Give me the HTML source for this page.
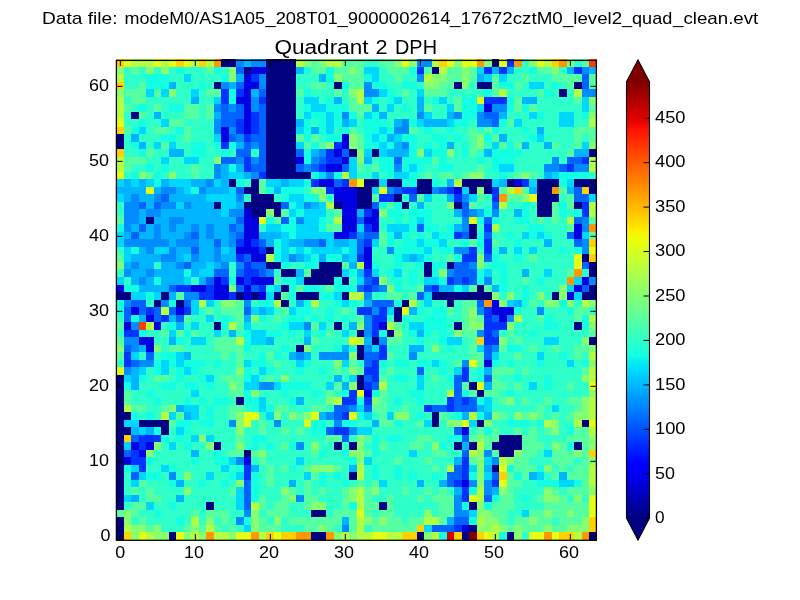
<!DOCTYPE html>
<html><head><meta charset="utf-8"><title>Quadrant 2 DPH</title>
<style>
html,body{margin:0;padding:0;background:#fff;}
body{width:800px;height:600px;overflow:hidden;font-family:"Liberation Sans",sans-serif;}
svg{display:block;position:absolute;left:0;top:0}
svg.tx{will-change:transform;transform:translateZ(0);background:transparent}
text{font-family:"Liberation Sans",sans-serif;fill:#000}
</style></head><body>
<svg width="800" height="600" viewBox="0 0 800 600">
<defs><linearGradient id="jet" gradientUnits="userSpaceOnUse" x1="0" y1="81.8" x2="0" y2="518.2">
<stop offset="0.0000" stop-color="#800000"/>
<stop offset="0.0156" stop-color="#920000"/>
<stop offset="0.0312" stop-color="#a40000"/>
<stop offset="0.0469" stop-color="#b60000"/>
<stop offset="0.0625" stop-color="#c80000"/>
<stop offset="0.0781" stop-color="#da0000"/>
<stop offset="0.0938" stop-color="#ec0400"/>
<stop offset="0.1094" stop-color="#fe1200"/>
<stop offset="0.1250" stop-color="#ff2100"/>
<stop offset="0.1406" stop-color="#ff3000"/>
<stop offset="0.1562" stop-color="#ff3f00"/>
<stop offset="0.1719" stop-color="#ff4d00"/>
<stop offset="0.1875" stop-color="#ff5c00"/>
<stop offset="0.2031" stop-color="#ff6b00"/>
<stop offset="0.2188" stop-color="#ff7a00"/>
<stop offset="0.2344" stop-color="#ff8800"/>
<stop offset="0.2500" stop-color="#ff9700"/>
<stop offset="0.2656" stop-color="#ffa600"/>
<stop offset="0.2812" stop-color="#ffb500"/>
<stop offset="0.2969" stop-color="#ffc300"/>
<stop offset="0.3125" stop-color="#ffd200"/>
<stop offset="0.3281" stop-color="#ffe100"/>
<stop offset="0.3438" stop-color="#fcf000"/>
<stop offset="0.3594" stop-color="#effe08"/>
<stop offset="0.3750" stop-color="#e2ff15"/>
<stop offset="0.3906" stop-color="#d5ff21"/>
<stop offset="0.4062" stop-color="#c9ff2e"/>
<stop offset="0.4219" stop-color="#bcff3b"/>
<stop offset="0.4375" stop-color="#afff48"/>
<stop offset="0.4531" stop-color="#a2ff55"/>
<stop offset="0.4688" stop-color="#95ff62"/>
<stop offset="0.4844" stop-color="#88ff6f"/>
<stop offset="0.5000" stop-color="#7bff7b"/>
<stop offset="0.5156" stop-color="#6fff88"/>
<stop offset="0.5312" stop-color="#62ff95"/>
<stop offset="0.5469" stop-color="#55ffa2"/>
<stop offset="0.5625" stop-color="#48ffaf"/>
<stop offset="0.5781" stop-color="#3bffbc"/>
<stop offset="0.5938" stop-color="#2effc9"/>
<stop offset="0.6094" stop-color="#21ffd5"/>
<stop offset="0.6250" stop-color="#15ffe2"/>
<stop offset="0.6406" stop-color="#08efef"/>
<stop offset="0.6562" stop-color="#00dffc"/>
<stop offset="0.6719" stop-color="#00cfff"/>
<stop offset="0.6875" stop-color="#00bfff"/>
<stop offset="0.7031" stop-color="#00afff"/>
<stop offset="0.7188" stop-color="#009fff"/>
<stop offset="0.7344" stop-color="#008fff"/>
<stop offset="0.7500" stop-color="#0080ff"/>
<stop offset="0.7656" stop-color="#0070ff"/>
<stop offset="0.7812" stop-color="#0060ff"/>
<stop offset="0.7969" stop-color="#0050ff"/>
<stop offset="0.8125" stop-color="#0040ff"/>
<stop offset="0.8281" stop-color="#0030ff"/>
<stop offset="0.8438" stop-color="#0020ff"/>
<stop offset="0.8594" stop-color="#0010ff"/>
<stop offset="0.8750" stop-color="#0000ff"/>
<stop offset="0.8906" stop-color="#0000fe"/>
<stop offset="0.9062" stop-color="#0000ec"/>
<stop offset="0.9219" stop-color="#0000da"/>
<stop offset="0.9375" stop-color="#0000c8"/>
<stop offset="0.9531" stop-color="#0000b6"/>
<stop offset="0.9688" stop-color="#0000a4"/>
<stop offset="0.9844" stop-color="#000092"/>
<stop offset="1.0000" stop-color="#000080"/>
</linearGradient></defs>
<rect width="800" height="600" fill="#fff"/>
<g shape-rendering="crispEdges">
<rect x="116" y="59" width="8" height="8" fill="#ffd100"/>
<rect x="124" y="59" width="7" height="8" fill="#e4ff13"/>
<rect x="131" y="59" width="23" height="8" fill="#b5ff42"/>
<rect x="154" y="59" width="7" height="8" fill="#e4ff13"/>
<rect x="161" y="59" width="8" height="8" fill="#b5ff42"/>
<rect x="169" y="59" width="7" height="8" fill="#e4ff13"/>
<rect x="176" y="59" width="8" height="8" fill="#ffd100"/>
<rect x="184" y="59" width="7" height="8" fill="#e4ff13"/>
<rect x="191" y="59" width="8" height="8" fill="#b5ff42"/>
<rect x="199" y="59" width="7" height="8" fill="#ffd100"/>
<rect x="206" y="59" width="8" height="8" fill="#b5ff42"/>
<rect x="214" y="59" width="7" height="8" fill="#ff9800"/>
<rect x="221" y="59" width="15" height="8" fill="#000080"/>
<rect x="236" y="59" width="8" height="8" fill="#008cff"/>
<rect x="244" y="59" width="7" height="8" fill="#00b4ff"/>
<rect x="251" y="59" width="15" height="8" fill="#008cff"/>
<rect x="266" y="59" width="30" height="8" fill="#000080"/>
<rect x="296" y="59" width="8" height="8" fill="#b5ff42"/>
<rect x="304" y="59" width="7" height="8" fill="#86ff70"/>
<rect x="311" y="59" width="8" height="8" fill="#56ffa1"/>
<rect x="319" y="59" width="7" height="8" fill="#86ff70"/>
<rect x="326" y="59" width="16" height="8" fill="#b5ff42"/>
<rect x="342" y="59" width="22" height="8" fill="#56ffa1"/>
<rect x="364" y="59" width="15" height="8" fill="#2fffc8"/>
<rect x="379" y="59" width="15" height="8" fill="#56ffa1"/>
<rect x="394" y="59" width="8" height="8" fill="#86ff70"/>
<rect x="402" y="59" width="7" height="8" fill="#e4ff13"/>
<rect x="409" y="59" width="8" height="8" fill="#86ff70"/>
<rect x="417" y="59" width="15" height="8" fill="#008cff"/>
<rect x="432" y="59" width="7" height="8" fill="#b5ff42"/>
<rect x="439" y="59" width="8" height="8" fill="#ffd100"/>
<rect x="447" y="59" width="7" height="8" fill="#e4ff13"/>
<rect x="454" y="59" width="8" height="8" fill="#86ff70"/>
<rect x="462" y="59" width="15" height="8" fill="#e4ff13"/>
<rect x="477" y="59" width="7" height="8" fill="#ff9800"/>
<rect x="484" y="59" width="8" height="8" fill="#86ff70"/>
<rect x="492" y="59" width="7" height="8" fill="#000080"/>
<rect x="499" y="59" width="8" height="8" fill="#e4ff13"/>
<rect x="507" y="59" width="7" height="8" fill="#0033ff"/>
<rect x="514" y="59" width="8" height="8" fill="#ff9800"/>
<rect x="522" y="59" width="7" height="8" fill="#2fffc8"/>
<rect x="529" y="59" width="8" height="8" fill="#86ff70"/>
<rect x="537" y="59" width="7" height="8" fill="#e4ff13"/>
<rect x="544" y="59" width="8" height="8" fill="#b5ff42"/>
<rect x="552" y="59" width="7" height="8" fill="#ffd100"/>
<rect x="559" y="59" width="8" height="8" fill="#ff9800"/>
<rect x="567" y="59" width="7" height="8" fill="#86ff70"/>
<rect x="574" y="59" width="8" height="8" fill="#2fffc8"/>
<rect x="582" y="59" width="7" height="8" fill="#56ffa1"/>
<rect x="589" y="59" width="8" height="8" fill="#ff3b00"/>
<rect x="116" y="67" width="8" height="7" fill="#86ff70"/>
<rect x="124" y="67" width="7" height="7" fill="#2fffc8"/>
<rect x="131" y="67" width="8" height="7" fill="#56ffa1"/>
<rect x="139" y="67" width="7" height="7" fill="#2fffc8"/>
<rect x="146" y="67" width="8" height="7" fill="#86ff70"/>
<rect x="154" y="67" width="7" height="7" fill="#2fffc8"/>
<rect x="161" y="67" width="8" height="7" fill="#86ff70"/>
<rect x="169" y="67" width="7" height="7" fill="#2fffc8"/>
<rect x="176" y="67" width="8" height="7" fill="#14ffe2"/>
<rect x="184" y="67" width="22" height="7" fill="#2fffc8"/>
<rect x="206" y="67" width="8" height="7" fill="#56ffa1"/>
<rect x="214" y="67" width="7" height="7" fill="#14ffe2"/>
<rect x="221" y="67" width="8" height="7" fill="#2fffc8"/>
<rect x="229" y="67" width="7" height="7" fill="#86ff70"/>
<rect x="236" y="67" width="8" height="7" fill="#0063ff"/>
<rect x="244" y="67" width="7" height="7" fill="#000080"/>
<rect x="251" y="67" width="15" height="7" fill="#0000e3"/>
<rect x="266" y="67" width="30" height="7" fill="#000080"/>
<rect x="296" y="67" width="8" height="7" fill="#00b4ff"/>
<rect x="304" y="67" width="7" height="7" fill="#14ffe2"/>
<rect x="311" y="67" width="15" height="7" fill="#56ffa1"/>
<rect x="326" y="67" width="8" height="7" fill="#14ffe2"/>
<rect x="334" y="67" width="15" height="7" fill="#56ffa1"/>
<rect x="349" y="67" width="8" height="7" fill="#86ff70"/>
<rect x="357" y="67" width="7" height="7" fill="#56ffa1"/>
<rect x="364" y="67" width="15" height="7" fill="#00d7ff"/>
<rect x="379" y="67" width="8" height="7" fill="#2fffc8"/>
<rect x="387" y="67" width="22" height="7" fill="#56ffa1"/>
<rect x="409" y="67" width="8" height="7" fill="#14ffe2"/>
<rect x="417" y="67" width="7" height="7" fill="#0033ff"/>
<rect x="424" y="67" width="8" height="7" fill="#56ffa1"/>
<rect x="432" y="67" width="7" height="7" fill="#000080"/>
<rect x="439" y="67" width="8" height="7" fill="#b5ff42"/>
<rect x="447" y="67" width="15" height="7" fill="#56ffa1"/>
<rect x="462" y="67" width="7" height="7" fill="#86ff70"/>
<rect x="469" y="67" width="8" height="7" fill="#56ffa1"/>
<rect x="477" y="67" width="7" height="7" fill="#00d7ff"/>
<rect x="484" y="67" width="8" height="7" fill="#0033ff"/>
<rect x="492" y="67" width="7" height="7" fill="#00b4ff"/>
<rect x="499" y="67" width="8" height="7" fill="#0033ff"/>
<rect x="507" y="67" width="7" height="7" fill="#00b4ff"/>
<rect x="514" y="67" width="15" height="7" fill="#2fffc8"/>
<rect x="529" y="67" width="8" height="7" fill="#14ffe2"/>
<rect x="537" y="67" width="15" height="7" fill="#56ffa1"/>
<rect x="552" y="67" width="7" height="7" fill="#86ff70"/>
<rect x="559" y="67" width="8" height="7" fill="#2fffc8"/>
<rect x="567" y="67" width="7" height="7" fill="#00b4ff"/>
<rect x="574" y="67" width="8" height="7" fill="#0033ff"/>
<rect x="582" y="67" width="7" height="7" fill="#008cff"/>
<rect x="589" y="67" width="8" height="7" fill="#00b4ff"/>
<rect x="116" y="74" width="8" height="8" fill="#b5ff42"/>
<rect x="124" y="74" width="22" height="8" fill="#2fffc8"/>
<rect x="146" y="74" width="23" height="8" fill="#14ffe2"/>
<rect x="169" y="74" width="15" height="8" fill="#2fffc8"/>
<rect x="184" y="74" width="7" height="8" fill="#00d7ff"/>
<rect x="191" y="74" width="30" height="8" fill="#2fffc8"/>
<rect x="221" y="74" width="8" height="8" fill="#14ffe2"/>
<rect x="229" y="74" width="7" height="8" fill="#86ff70"/>
<rect x="236" y="74" width="8" height="8" fill="#00b4ff"/>
<rect x="244" y="74" width="7" height="8" fill="#0000e3"/>
<rect x="251" y="74" width="8" height="8" fill="#0033ff"/>
<rect x="259" y="74" width="7" height="8" fill="#008cff"/>
<rect x="266" y="74" width="30" height="8" fill="#000080"/>
<rect x="296" y="74" width="23" height="8" fill="#2fffc8"/>
<rect x="319" y="74" width="7" height="8" fill="#00b4ff"/>
<rect x="326" y="74" width="8" height="8" fill="#14ffe2"/>
<rect x="334" y="74" width="8" height="8" fill="#86ff70"/>
<rect x="342" y="74" width="22" height="8" fill="#56ffa1"/>
<rect x="364" y="74" width="8" height="8" fill="#14ffe2"/>
<rect x="372" y="74" width="7" height="8" fill="#00d7ff"/>
<rect x="379" y="74" width="15" height="8" fill="#2fffc8"/>
<rect x="394" y="74" width="8" height="8" fill="#56ffa1"/>
<rect x="402" y="74" width="15" height="8" fill="#2fffc8"/>
<rect x="417" y="74" width="7" height="8" fill="#008cff"/>
<rect x="424" y="74" width="8" height="8" fill="#b5ff42"/>
<rect x="432" y="74" width="15" height="8" fill="#86ff70"/>
<rect x="447" y="74" width="15" height="8" fill="#56ffa1"/>
<rect x="462" y="74" width="7" height="8" fill="#86ff70"/>
<rect x="469" y="74" width="8" height="8" fill="#56ffa1"/>
<rect x="477" y="74" width="7" height="8" fill="#00b4ff"/>
<rect x="484" y="74" width="8" height="8" fill="#00d7ff"/>
<rect x="492" y="74" width="7" height="8" fill="#56ffa1"/>
<rect x="499" y="74" width="8" height="8" fill="#00d7ff"/>
<rect x="507" y="74" width="15" height="8" fill="#2fffc8"/>
<rect x="522" y="74" width="7" height="8" fill="#56ffa1"/>
<rect x="529" y="74" width="23" height="8" fill="#2fffc8"/>
<rect x="552" y="74" width="30" height="8" fill="#56ffa1"/>
<rect x="582" y="74" width="7" height="8" fill="#0063ff"/>
<rect x="589" y="74" width="8" height="8" fill="#56ffa1"/>
<rect x="116" y="82" width="8" height="7" fill="#ffd100"/>
<rect x="124" y="82" width="15" height="7" fill="#2fffc8"/>
<rect x="139" y="82" width="7" height="7" fill="#56ffa1"/>
<rect x="146" y="82" width="23" height="7" fill="#14ffe2"/>
<rect x="169" y="82" width="7" height="7" fill="#00b4ff"/>
<rect x="176" y="82" width="23" height="7" fill="#2fffc8"/>
<rect x="199" y="82" width="7" height="7" fill="#14ffe2"/>
<rect x="206" y="82" width="8" height="7" fill="#2fffc8"/>
<rect x="214" y="82" width="7" height="7" fill="#000080"/>
<rect x="221" y="82" width="8" height="7" fill="#008cff"/>
<rect x="229" y="82" width="7" height="7" fill="#00b4ff"/>
<rect x="236" y="82" width="8" height="7" fill="#0063ff"/>
<rect x="244" y="82" width="15" height="7" fill="#0000e3"/>
<rect x="259" y="82" width="7" height="7" fill="#008cff"/>
<rect x="266" y="82" width="30" height="7" fill="#000080"/>
<rect x="296" y="82" width="15" height="7" fill="#2fffc8"/>
<rect x="311" y="82" width="15" height="7" fill="#56ffa1"/>
<rect x="326" y="82" width="8" height="7" fill="#2fffc8"/>
<rect x="334" y="82" width="8" height="7" fill="#000080"/>
<rect x="342" y="82" width="7" height="7" fill="#14ffe2"/>
<rect x="349" y="82" width="15" height="7" fill="#56ffa1"/>
<rect x="364" y="82" width="8" height="7" fill="#008cff"/>
<rect x="372" y="82" width="15" height="7" fill="#14ffe2"/>
<rect x="387" y="82" width="15" height="7" fill="#2fffc8"/>
<rect x="402" y="82" width="15" height="7" fill="#14ffe2"/>
<rect x="417" y="82" width="7" height="7" fill="#2fffc8"/>
<rect x="424" y="82" width="15" height="7" fill="#86ff70"/>
<rect x="439" y="82" width="15" height="7" fill="#56ffa1"/>
<rect x="454" y="82" width="8" height="7" fill="#000080"/>
<rect x="462" y="82" width="7" height="7" fill="#86ff70"/>
<rect x="469" y="82" width="8" height="7" fill="#2fffc8"/>
<rect x="477" y="82" width="15" height="7" fill="#000080"/>
<rect x="492" y="82" width="7" height="7" fill="#56ffa1"/>
<rect x="499" y="82" width="15" height="7" fill="#14ffe2"/>
<rect x="514" y="82" width="8" height="7" fill="#56ffa1"/>
<rect x="522" y="82" width="7" height="7" fill="#2fffc8"/>
<rect x="529" y="82" width="15" height="7" fill="#00d7ff"/>
<rect x="544" y="82" width="8" height="7" fill="#2fffc8"/>
<rect x="552" y="82" width="7" height="7" fill="#14ffe2"/>
<rect x="559" y="82" width="8" height="7" fill="#2fffc8"/>
<rect x="567" y="82" width="7" height="7" fill="#56ffa1"/>
<rect x="574" y="82" width="8" height="7" fill="#000080"/>
<rect x="582" y="82" width="7" height="7" fill="#0063ff"/>
<rect x="589" y="82" width="8" height="7" fill="#56ffa1"/>
<rect x="116" y="89" width="8" height="8" fill="#86ff70"/>
<rect x="124" y="89" width="22" height="8" fill="#56ffa1"/>
<rect x="146" y="89" width="8" height="8" fill="#00d7ff"/>
<rect x="154" y="89" width="7" height="8" fill="#56ffa1"/>
<rect x="161" y="89" width="8" height="8" fill="#00d7ff"/>
<rect x="169" y="89" width="7" height="8" fill="#86ff70"/>
<rect x="176" y="89" width="15" height="8" fill="#2fffc8"/>
<rect x="191" y="89" width="8" height="8" fill="#00d7ff"/>
<rect x="199" y="89" width="7" height="8" fill="#2fffc8"/>
<rect x="206" y="89" width="15" height="8" fill="#56ffa1"/>
<rect x="221" y="89" width="8" height="8" fill="#0033ff"/>
<rect x="229" y="89" width="7" height="8" fill="#14ffe2"/>
<rect x="236" y="89" width="8" height="8" fill="#0033ff"/>
<rect x="244" y="89" width="7" height="8" fill="#0000e3"/>
<rect x="251" y="89" width="8" height="8" fill="#00b4ff"/>
<rect x="259" y="89" width="7" height="8" fill="#0063ff"/>
<rect x="266" y="89" width="30" height="8" fill="#000080"/>
<rect x="296" y="89" width="8" height="8" fill="#56ffa1"/>
<rect x="304" y="89" width="7" height="8" fill="#14ffe2"/>
<rect x="311" y="89" width="23" height="8" fill="#2fffc8"/>
<rect x="334" y="89" width="8" height="8" fill="#56ffa1"/>
<rect x="342" y="89" width="7" height="8" fill="#2fffc8"/>
<rect x="349" y="89" width="8" height="8" fill="#86ff70"/>
<rect x="357" y="89" width="7" height="8" fill="#b5ff42"/>
<rect x="364" y="89" width="15" height="8" fill="#008cff"/>
<rect x="379" y="89" width="8" height="8" fill="#00d7ff"/>
<rect x="387" y="89" width="7" height="8" fill="#14ffe2"/>
<rect x="394" y="89" width="8" height="8" fill="#2fffc8"/>
<rect x="402" y="89" width="7" height="8" fill="#56ffa1"/>
<rect x="409" y="89" width="8" height="8" fill="#2fffc8"/>
<rect x="417" y="89" width="7" height="8" fill="#00d7ff"/>
<rect x="424" y="89" width="23" height="8" fill="#56ffa1"/>
<rect x="447" y="89" width="37" height="8" fill="#2fffc8"/>
<rect x="484" y="89" width="8" height="8" fill="#14ffe2"/>
<rect x="492" y="89" width="7" height="8" fill="#56ffa1"/>
<rect x="499" y="89" width="8" height="8" fill="#b5ff42"/>
<rect x="507" y="89" width="30" height="8" fill="#2fffc8"/>
<rect x="537" y="89" width="7" height="8" fill="#56ffa1"/>
<rect x="544" y="89" width="8" height="8" fill="#14ffe2"/>
<rect x="552" y="89" width="7" height="8" fill="#2fffc8"/>
<rect x="559" y="89" width="8" height="8" fill="#000080"/>
<rect x="567" y="89" width="7" height="8" fill="#2fffc8"/>
<rect x="574" y="89" width="8" height="8" fill="#b5ff42"/>
<rect x="582" y="89" width="15" height="8" fill="#008cff"/>
<rect x="116" y="97" width="8" height="7" fill="#b5ff42"/>
<rect x="124" y="97" width="7" height="7" fill="#2fffc8"/>
<rect x="131" y="97" width="15" height="7" fill="#56ffa1"/>
<rect x="146" y="97" width="45" height="7" fill="#2fffc8"/>
<rect x="191" y="97" width="8" height="7" fill="#00b4ff"/>
<rect x="199" y="97" width="15" height="7" fill="#2fffc8"/>
<rect x="214" y="97" width="7" height="7" fill="#00d7ff"/>
<rect x="221" y="97" width="8" height="7" fill="#0033ff"/>
<rect x="229" y="97" width="7" height="7" fill="#14ffe2"/>
<rect x="236" y="97" width="15" height="7" fill="#0000e3"/>
<rect x="251" y="97" width="8" height="7" fill="#008cff"/>
<rect x="259" y="97" width="7" height="7" fill="#0033ff"/>
<rect x="266" y="97" width="30" height="7" fill="#000080"/>
<rect x="296" y="97" width="8" height="7" fill="#2fffc8"/>
<rect x="304" y="97" width="15" height="7" fill="#00d7ff"/>
<rect x="319" y="97" width="7" height="7" fill="#2fffc8"/>
<rect x="326" y="97" width="8" height="7" fill="#14ffe2"/>
<rect x="334" y="97" width="8" height="7" fill="#00b4ff"/>
<rect x="342" y="97" width="7" height="7" fill="#2fffc8"/>
<rect x="349" y="97" width="8" height="7" fill="#56ffa1"/>
<rect x="357" y="97" width="7" height="7" fill="#b5ff42"/>
<rect x="364" y="97" width="8" height="7" fill="#00d7ff"/>
<rect x="372" y="97" width="7" height="7" fill="#14ffe2"/>
<rect x="379" y="97" width="8" height="7" fill="#2fffc8"/>
<rect x="387" y="97" width="7" height="7" fill="#14ffe2"/>
<rect x="394" y="97" width="8" height="7" fill="#00d7ff"/>
<rect x="402" y="97" width="15" height="7" fill="#2fffc8"/>
<rect x="417" y="97" width="7" height="7" fill="#00b4ff"/>
<rect x="424" y="97" width="8" height="7" fill="#2fffc8"/>
<rect x="432" y="97" width="7" height="7" fill="#14ffe2"/>
<rect x="439" y="97" width="8" height="7" fill="#00d7ff"/>
<rect x="447" y="97" width="7" height="7" fill="#2fffc8"/>
<rect x="454" y="97" width="8" height="7" fill="#56ffa1"/>
<rect x="462" y="97" width="15" height="7" fill="#14ffe2"/>
<rect x="477" y="97" width="7" height="7" fill="#e4ff13"/>
<rect x="484" y="97" width="23" height="7" fill="#0033ff"/>
<rect x="507" y="97" width="7" height="7" fill="#14ffe2"/>
<rect x="514" y="97" width="8" height="7" fill="#56ffa1"/>
<rect x="522" y="97" width="15" height="7" fill="#00b4ff"/>
<rect x="537" y="97" width="37" height="7" fill="#2fffc8"/>
<rect x="574" y="97" width="8" height="7" fill="#56ffa1"/>
<rect x="582" y="97" width="7" height="7" fill="#00d7ff"/>
<rect x="589" y="97" width="8" height="7" fill="#86ff70"/>
<rect x="116" y="104" width="8" height="8" fill="#b5ff42"/>
<rect x="124" y="104" width="7" height="8" fill="#56ffa1"/>
<rect x="131" y="104" width="8" height="8" fill="#2fffc8"/>
<rect x="139" y="104" width="7" height="8" fill="#14ffe2"/>
<rect x="146" y="104" width="8" height="8" fill="#2fffc8"/>
<rect x="154" y="104" width="7" height="8" fill="#56ffa1"/>
<rect x="161" y="104" width="8" height="8" fill="#2fffc8"/>
<rect x="169" y="104" width="15" height="8" fill="#14ffe2"/>
<rect x="184" y="104" width="15" height="8" fill="#56ffa1"/>
<rect x="199" y="104" width="7" height="8" fill="#2fffc8"/>
<rect x="206" y="104" width="8" height="8" fill="#56ffa1"/>
<rect x="214" y="104" width="7" height="8" fill="#008cff"/>
<rect x="221" y="104" width="8" height="8" fill="#0063ff"/>
<rect x="229" y="104" width="7" height="8" fill="#008cff"/>
<rect x="236" y="104" width="8" height="8" fill="#0063ff"/>
<rect x="244" y="104" width="7" height="8" fill="#0000e3"/>
<rect x="251" y="104" width="8" height="8" fill="#008cff"/>
<rect x="259" y="104" width="7" height="8" fill="#0063ff"/>
<rect x="266" y="104" width="30" height="8" fill="#000080"/>
<rect x="296" y="104" width="8" height="8" fill="#2fffc8"/>
<rect x="304" y="104" width="7" height="8" fill="#14ffe2"/>
<rect x="311" y="104" width="15" height="8" fill="#00d7ff"/>
<rect x="326" y="104" width="23" height="8" fill="#14ffe2"/>
<rect x="349" y="104" width="23" height="8" fill="#56ffa1"/>
<rect x="372" y="104" width="7" height="8" fill="#00b4ff"/>
<rect x="379" y="104" width="8" height="8" fill="#2fffc8"/>
<rect x="387" y="104" width="7" height="8" fill="#00d7ff"/>
<rect x="394" y="104" width="8" height="8" fill="#2fffc8"/>
<rect x="402" y="104" width="7" height="8" fill="#14ffe2"/>
<rect x="409" y="104" width="8" height="8" fill="#2fffc8"/>
<rect x="417" y="104" width="7" height="8" fill="#00b4ff"/>
<rect x="424" y="104" width="8" height="8" fill="#56ffa1"/>
<rect x="432" y="104" width="15" height="8" fill="#2fffc8"/>
<rect x="447" y="104" width="7" height="8" fill="#00d7ff"/>
<rect x="454" y="104" width="8" height="8" fill="#56ffa1"/>
<rect x="462" y="104" width="15" height="8" fill="#14ffe2"/>
<rect x="477" y="104" width="7" height="8" fill="#00d7ff"/>
<rect x="484" y="104" width="8" height="8" fill="#0000e3"/>
<rect x="492" y="104" width="15" height="8" fill="#008cff"/>
<rect x="507" y="104" width="7" height="8" fill="#14ffe2"/>
<rect x="514" y="104" width="8" height="8" fill="#56ffa1"/>
<rect x="522" y="104" width="7" height="8" fill="#14ffe2"/>
<rect x="529" y="104" width="8" height="8" fill="#56ffa1"/>
<rect x="537" y="104" width="45" height="8" fill="#2fffc8"/>
<rect x="582" y="104" width="7" height="8" fill="#00d7ff"/>
<rect x="589" y="104" width="8" height="8" fill="#56ffa1"/>
<rect x="116" y="112" width="8" height="7" fill="#b5ff42"/>
<rect x="124" y="112" width="7" height="7" fill="#2fffc8"/>
<rect x="131" y="112" width="8" height="7" fill="#000080"/>
<rect x="139" y="112" width="7" height="7" fill="#56ffa1"/>
<rect x="146" y="112" width="8" height="7" fill="#2fffc8"/>
<rect x="154" y="112" width="7" height="7" fill="#00b4ff"/>
<rect x="161" y="112" width="23" height="7" fill="#2fffc8"/>
<rect x="184" y="112" width="15" height="7" fill="#56ffa1"/>
<rect x="199" y="112" width="7" height="7" fill="#2fffc8"/>
<rect x="206" y="112" width="8" height="7" fill="#56ffa1"/>
<rect x="214" y="112" width="7" height="7" fill="#00b4ff"/>
<rect x="221" y="112" width="23" height="7" fill="#0063ff"/>
<rect x="244" y="112" width="7" height="7" fill="#0000e3"/>
<rect x="251" y="112" width="8" height="7" fill="#0033ff"/>
<rect x="259" y="112" width="7" height="7" fill="#0063ff"/>
<rect x="266" y="112" width="30" height="7" fill="#000080"/>
<rect x="296" y="112" width="8" height="7" fill="#2fffc8"/>
<rect x="304" y="112" width="7" height="7" fill="#00d7ff"/>
<rect x="311" y="112" width="15" height="7" fill="#14ffe2"/>
<rect x="326" y="112" width="8" height="7" fill="#00d7ff"/>
<rect x="334" y="112" width="8" height="7" fill="#14ffe2"/>
<rect x="342" y="112" width="7" height="7" fill="#008cff"/>
<rect x="349" y="112" width="8" height="7" fill="#14ffe2"/>
<rect x="357" y="112" width="7" height="7" fill="#56ffa1"/>
<rect x="364" y="112" width="8" height="7" fill="#00d7ff"/>
<rect x="372" y="112" width="7" height="7" fill="#14ffe2"/>
<rect x="379" y="112" width="8" height="7" fill="#00b4ff"/>
<rect x="387" y="112" width="30" height="7" fill="#2fffc8"/>
<rect x="417" y="112" width="7" height="7" fill="#008cff"/>
<rect x="424" y="112" width="8" height="7" fill="#00d7ff"/>
<rect x="432" y="112" width="15" height="7" fill="#2fffc8"/>
<rect x="447" y="112" width="7" height="7" fill="#00b4ff"/>
<rect x="454" y="112" width="8" height="7" fill="#008cff"/>
<rect x="462" y="112" width="15" height="7" fill="#14ffe2"/>
<rect x="477" y="112" width="7" height="7" fill="#008cff"/>
<rect x="484" y="112" width="15" height="7" fill="#0063ff"/>
<rect x="499" y="112" width="8" height="7" fill="#00b4ff"/>
<rect x="507" y="112" width="22" height="7" fill="#2fffc8"/>
<rect x="529" y="112" width="8" height="7" fill="#00d7ff"/>
<rect x="537" y="112" width="7" height="7" fill="#14ffe2"/>
<rect x="544" y="112" width="15" height="7" fill="#2fffc8"/>
<rect x="559" y="112" width="15" height="7" fill="#00d7ff"/>
<rect x="574" y="112" width="8" height="7" fill="#2fffc8"/>
<rect x="582" y="112" width="7" height="7" fill="#14ffe2"/>
<rect x="589" y="112" width="8" height="7" fill="#86ff70"/>
<rect x="116" y="119" width="8" height="8" fill="#e4ff13"/>
<rect x="124" y="119" width="15" height="8" fill="#2fffc8"/>
<rect x="139" y="119" width="7" height="8" fill="#14ffe2"/>
<rect x="146" y="119" width="15" height="8" fill="#2fffc8"/>
<rect x="161" y="119" width="8" height="8" fill="#00d7ff"/>
<rect x="169" y="119" width="15" height="8" fill="#56ffa1"/>
<rect x="184" y="119" width="30" height="8" fill="#2fffc8"/>
<rect x="214" y="119" width="7" height="8" fill="#008cff"/>
<rect x="221" y="119" width="15" height="8" fill="#0063ff"/>
<rect x="236" y="119" width="8" height="8" fill="#0033ff"/>
<rect x="244" y="119" width="7" height="8" fill="#0000e3"/>
<rect x="251" y="119" width="8" height="8" fill="#0033ff"/>
<rect x="259" y="119" width="7" height="8" fill="#0063ff"/>
<rect x="266" y="119" width="30" height="8" fill="#000080"/>
<rect x="296" y="119" width="8" height="8" fill="#00b4ff"/>
<rect x="304" y="119" width="7" height="8" fill="#14ffe2"/>
<rect x="311" y="119" width="8" height="8" fill="#2fffc8"/>
<rect x="319" y="119" width="7" height="8" fill="#14ffe2"/>
<rect x="326" y="119" width="8" height="8" fill="#00d7ff"/>
<rect x="334" y="119" width="8" height="8" fill="#14ffe2"/>
<rect x="342" y="119" width="7" height="8" fill="#00b4ff"/>
<rect x="349" y="119" width="8" height="8" fill="#00d7ff"/>
<rect x="357" y="119" width="7" height="8" fill="#2fffc8"/>
<rect x="364" y="119" width="23" height="8" fill="#14ffe2"/>
<rect x="387" y="119" width="7" height="8" fill="#2fffc8"/>
<rect x="394" y="119" width="8" height="8" fill="#00b4ff"/>
<rect x="402" y="119" width="7" height="8" fill="#008cff"/>
<rect x="409" y="119" width="8" height="8" fill="#14ffe2"/>
<rect x="417" y="119" width="7" height="8" fill="#00d7ff"/>
<rect x="424" y="119" width="23" height="8" fill="#00b4ff"/>
<rect x="447" y="119" width="7" height="8" fill="#00d7ff"/>
<rect x="454" y="119" width="15" height="8" fill="#14ffe2"/>
<rect x="469" y="119" width="8" height="8" fill="#2fffc8"/>
<rect x="477" y="119" width="15" height="8" fill="#008cff"/>
<rect x="492" y="119" width="7" height="8" fill="#0063ff"/>
<rect x="499" y="119" width="8" height="8" fill="#14ffe2"/>
<rect x="507" y="119" width="7" height="8" fill="#56ffa1"/>
<rect x="514" y="119" width="8" height="8" fill="#00d7ff"/>
<rect x="522" y="119" width="37" height="8" fill="#2fffc8"/>
<rect x="559" y="119" width="15" height="8" fill="#00d7ff"/>
<rect x="574" y="119" width="15" height="8" fill="#2fffc8"/>
<rect x="589" y="119" width="8" height="8" fill="#b5ff42"/>
<rect x="116" y="127" width="8" height="7" fill="#ffd100"/>
<rect x="124" y="127" width="7" height="7" fill="#56ffa1"/>
<rect x="131" y="127" width="8" height="7" fill="#14ffe2"/>
<rect x="139" y="127" width="7" height="7" fill="#00d7ff"/>
<rect x="146" y="127" width="8" height="7" fill="#2fffc8"/>
<rect x="154" y="127" width="15" height="7" fill="#56ffa1"/>
<rect x="169" y="127" width="7" height="7" fill="#2fffc8"/>
<rect x="176" y="127" width="8" height="7" fill="#14ffe2"/>
<rect x="184" y="127" width="7" height="7" fill="#56ffa1"/>
<rect x="191" y="127" width="23" height="7" fill="#2fffc8"/>
<rect x="214" y="127" width="7" height="7" fill="#008cff"/>
<rect x="221" y="127" width="8" height="7" fill="#0000e3"/>
<rect x="229" y="127" width="7" height="7" fill="#008cff"/>
<rect x="236" y="127" width="8" height="7" fill="#0033ff"/>
<rect x="244" y="127" width="7" height="7" fill="#0000e3"/>
<rect x="251" y="127" width="8" height="7" fill="#0033ff"/>
<rect x="259" y="127" width="7" height="7" fill="#0063ff"/>
<rect x="266" y="127" width="30" height="7" fill="#000080"/>
<rect x="296" y="127" width="8" height="7" fill="#00d7ff"/>
<rect x="304" y="127" width="7" height="7" fill="#14ffe2"/>
<rect x="311" y="127" width="8" height="7" fill="#00b4ff"/>
<rect x="319" y="127" width="7" height="7" fill="#14ffe2"/>
<rect x="326" y="127" width="8" height="7" fill="#00d7ff"/>
<rect x="334" y="127" width="8" height="7" fill="#2fffc8"/>
<rect x="342" y="127" width="7" height="7" fill="#14ffe2"/>
<rect x="349" y="127" width="8" height="7" fill="#56ffa1"/>
<rect x="357" y="127" width="7" height="7" fill="#2fffc8"/>
<rect x="364" y="127" width="15" height="7" fill="#14ffe2"/>
<rect x="379" y="127" width="8" height="7" fill="#00d7ff"/>
<rect x="387" y="127" width="7" height="7" fill="#14ffe2"/>
<rect x="394" y="127" width="15" height="7" fill="#008cff"/>
<rect x="409" y="127" width="8" height="7" fill="#56ffa1"/>
<rect x="417" y="127" width="7" height="7" fill="#2fffc8"/>
<rect x="424" y="127" width="8" height="7" fill="#14ffe2"/>
<rect x="432" y="127" width="15" height="7" fill="#2fffc8"/>
<rect x="447" y="127" width="7" height="7" fill="#14ffe2"/>
<rect x="454" y="127" width="15" height="7" fill="#2fffc8"/>
<rect x="469" y="127" width="8" height="7" fill="#56ffa1"/>
<rect x="477" y="127" width="7" height="7" fill="#2fffc8"/>
<rect x="484" y="127" width="8" height="7" fill="#56ffa1"/>
<rect x="492" y="127" width="7" height="7" fill="#14ffe2"/>
<rect x="499" y="127" width="23" height="7" fill="#2fffc8"/>
<rect x="522" y="127" width="7" height="7" fill="#14ffe2"/>
<rect x="529" y="127" width="8" height="7" fill="#2fffc8"/>
<rect x="537" y="127" width="7" height="7" fill="#00b4ff"/>
<rect x="544" y="127" width="30" height="7" fill="#2fffc8"/>
<rect x="574" y="127" width="23" height="7" fill="#56ffa1"/>
<rect x="116" y="134" width="8" height="8" fill="#000080"/>
<rect x="124" y="134" width="7" height="8" fill="#2fffc8"/>
<rect x="131" y="134" width="8" height="8" fill="#00b4ff"/>
<rect x="139" y="134" width="22" height="8" fill="#2fffc8"/>
<rect x="161" y="134" width="15" height="8" fill="#14ffe2"/>
<rect x="176" y="134" width="8" height="8" fill="#2fffc8"/>
<rect x="184" y="134" width="7" height="8" fill="#56ffa1"/>
<rect x="191" y="134" width="23" height="8" fill="#2fffc8"/>
<rect x="214" y="134" width="7" height="8" fill="#00d7ff"/>
<rect x="221" y="134" width="8" height="8" fill="#0000e3"/>
<rect x="229" y="134" width="7" height="8" fill="#0063ff"/>
<rect x="236" y="134" width="8" height="8" fill="#008cff"/>
<rect x="244" y="134" width="7" height="8" fill="#0033ff"/>
<rect x="251" y="134" width="15" height="8" fill="#0063ff"/>
<rect x="266" y="134" width="30" height="8" fill="#000080"/>
<rect x="296" y="134" width="8" height="8" fill="#56ffa1"/>
<rect x="304" y="134" width="7" height="8" fill="#14ffe2"/>
<rect x="311" y="134" width="8" height="8" fill="#56ffa1"/>
<rect x="319" y="134" width="7" height="8" fill="#2fffc8"/>
<rect x="326" y="134" width="16" height="8" fill="#14ffe2"/>
<rect x="342" y="134" width="7" height="8" fill="#0000e3"/>
<rect x="349" y="134" width="8" height="8" fill="#86ff70"/>
<rect x="357" y="134" width="7" height="8" fill="#56ffa1"/>
<rect x="364" y="134" width="8" height="8" fill="#14ffe2"/>
<rect x="372" y="134" width="7" height="8" fill="#00d7ff"/>
<rect x="379" y="134" width="8" height="8" fill="#14ffe2"/>
<rect x="387" y="134" width="7" height="8" fill="#00b4ff"/>
<rect x="394" y="134" width="8" height="8" fill="#00d7ff"/>
<rect x="402" y="134" width="15" height="8" fill="#14ffe2"/>
<rect x="417" y="134" width="15" height="8" fill="#2fffc8"/>
<rect x="432" y="134" width="15" height="8" fill="#14ffe2"/>
<rect x="447" y="134" width="7" height="8" fill="#2fffc8"/>
<rect x="454" y="134" width="8" height="8" fill="#14ffe2"/>
<rect x="462" y="134" width="7" height="8" fill="#2fffc8"/>
<rect x="469" y="134" width="8" height="8" fill="#56ffa1"/>
<rect x="477" y="134" width="7" height="8" fill="#86ff70"/>
<rect x="484" y="134" width="8" height="8" fill="#14ffe2"/>
<rect x="492" y="134" width="7" height="8" fill="#56ffa1"/>
<rect x="499" y="134" width="8" height="8" fill="#00b4ff"/>
<rect x="507" y="134" width="22" height="8" fill="#2fffc8"/>
<rect x="529" y="134" width="8" height="8" fill="#14ffe2"/>
<rect x="537" y="134" width="7" height="8" fill="#00d7ff"/>
<rect x="544" y="134" width="30" height="8" fill="#2fffc8"/>
<rect x="574" y="134" width="8" height="8" fill="#56ffa1"/>
<rect x="582" y="134" width="7" height="8" fill="#2fffc8"/>
<rect x="589" y="134" width="8" height="8" fill="#56ffa1"/>
<rect x="116" y="142" width="8" height="7" fill="#000080"/>
<rect x="124" y="142" width="7" height="7" fill="#2fffc8"/>
<rect x="131" y="142" width="8" height="7" fill="#14ffe2"/>
<rect x="139" y="142" width="7" height="7" fill="#00b4ff"/>
<rect x="146" y="142" width="8" height="7" fill="#2fffc8"/>
<rect x="154" y="142" width="7" height="7" fill="#00d7ff"/>
<rect x="161" y="142" width="8" height="7" fill="#56ffa1"/>
<rect x="169" y="142" width="7" height="7" fill="#00d7ff"/>
<rect x="176" y="142" width="15" height="7" fill="#2fffc8"/>
<rect x="191" y="142" width="15" height="7" fill="#14ffe2"/>
<rect x="206" y="142" width="8" height="7" fill="#2fffc8"/>
<rect x="214" y="142" width="7" height="7" fill="#14ffe2"/>
<rect x="221" y="142" width="8" height="7" fill="#0033ff"/>
<rect x="229" y="142" width="7" height="7" fill="#14ffe2"/>
<rect x="236" y="142" width="8" height="7" fill="#00b4ff"/>
<rect x="244" y="142" width="7" height="7" fill="#0063ff"/>
<rect x="251" y="142" width="8" height="7" fill="#008cff"/>
<rect x="259" y="142" width="7" height="7" fill="#0063ff"/>
<rect x="266" y="142" width="30" height="7" fill="#000080"/>
<rect x="296" y="142" width="8" height="7" fill="#00d7ff"/>
<rect x="304" y="142" width="7" height="7" fill="#56ffa1"/>
<rect x="311" y="142" width="8" height="7" fill="#14ffe2"/>
<rect x="319" y="142" width="7" height="7" fill="#56ffa1"/>
<rect x="326" y="142" width="8" height="7" fill="#86ff70"/>
<rect x="334" y="142" width="8" height="7" fill="#0033ff"/>
<rect x="342" y="142" width="7" height="7" fill="#0000e3"/>
<rect x="349" y="142" width="8" height="7" fill="#86ff70"/>
<rect x="357" y="142" width="7" height="7" fill="#56ffa1"/>
<rect x="364" y="142" width="15" height="7" fill="#14ffe2"/>
<rect x="379" y="142" width="8" height="7" fill="#00d7ff"/>
<rect x="387" y="142" width="7" height="7" fill="#14ffe2"/>
<rect x="394" y="142" width="8" height="7" fill="#00b4ff"/>
<rect x="402" y="142" width="7" height="7" fill="#008cff"/>
<rect x="409" y="142" width="8" height="7" fill="#14ffe2"/>
<rect x="417" y="142" width="7" height="7" fill="#2fffc8"/>
<rect x="424" y="142" width="8" height="7" fill="#14ffe2"/>
<rect x="432" y="142" width="7" height="7" fill="#2fffc8"/>
<rect x="439" y="142" width="8" height="7" fill="#14ffe2"/>
<rect x="447" y="142" width="7" height="7" fill="#00b4ff"/>
<rect x="454" y="142" width="8" height="7" fill="#2fffc8"/>
<rect x="462" y="142" width="7" height="7" fill="#14ffe2"/>
<rect x="469" y="142" width="8" height="7" fill="#56ffa1"/>
<rect x="477" y="142" width="7" height="7" fill="#86ff70"/>
<rect x="484" y="142" width="8" height="7" fill="#2fffc8"/>
<rect x="492" y="142" width="7" height="7" fill="#00d7ff"/>
<rect x="499" y="142" width="8" height="7" fill="#56ffa1"/>
<rect x="507" y="142" width="7" height="7" fill="#14ffe2"/>
<rect x="514" y="142" width="8" height="7" fill="#56ffa1"/>
<rect x="522" y="142" width="7" height="7" fill="#00b4ff"/>
<rect x="529" y="142" width="15" height="7" fill="#2fffc8"/>
<rect x="544" y="142" width="8" height="7" fill="#00b4ff"/>
<rect x="552" y="142" width="7" height="7" fill="#56ffa1"/>
<rect x="559" y="142" width="15" height="7" fill="#2fffc8"/>
<rect x="574" y="142" width="8" height="7" fill="#56ffa1"/>
<rect x="582" y="142" width="7" height="7" fill="#00d7ff"/>
<rect x="589" y="142" width="8" height="7" fill="#86ff70"/>
<rect x="116" y="149" width="8" height="8" fill="#ffd100"/>
<rect x="124" y="149" width="15" height="8" fill="#2fffc8"/>
<rect x="139" y="149" width="7" height="8" fill="#14ffe2"/>
<rect x="146" y="149" width="8" height="8" fill="#56ffa1"/>
<rect x="154" y="149" width="15" height="8" fill="#2fffc8"/>
<rect x="169" y="149" width="15" height="8" fill="#00b4ff"/>
<rect x="184" y="149" width="7" height="8" fill="#2fffc8"/>
<rect x="191" y="149" width="15" height="8" fill="#14ffe2"/>
<rect x="206" y="149" width="15" height="8" fill="#2fffc8"/>
<rect x="221" y="149" width="8" height="8" fill="#14ffe2"/>
<rect x="229" y="149" width="7" height="8" fill="#2fffc8"/>
<rect x="236" y="149" width="15" height="8" fill="#0063ff"/>
<rect x="251" y="149" width="8" height="8" fill="#2fffc8"/>
<rect x="259" y="149" width="7" height="8" fill="#0063ff"/>
<rect x="266" y="149" width="30" height="8" fill="#000080"/>
<rect x="296" y="149" width="8" height="8" fill="#0063ff"/>
<rect x="304" y="149" width="7" height="8" fill="#14ffe2"/>
<rect x="311" y="149" width="8" height="8" fill="#00b4ff"/>
<rect x="319" y="149" width="7" height="8" fill="#008cff"/>
<rect x="326" y="149" width="8" height="8" fill="#0033ff"/>
<rect x="334" y="149" width="8" height="8" fill="#0000e3"/>
<rect x="342" y="149" width="7" height="8" fill="#0063ff"/>
<rect x="349" y="149" width="8" height="8" fill="#000080"/>
<rect x="357" y="149" width="7" height="8" fill="#86ff70"/>
<rect x="364" y="149" width="8" height="8" fill="#00d7ff"/>
<rect x="372" y="149" width="7" height="8" fill="#000080"/>
<rect x="379" y="149" width="8" height="8" fill="#00d7ff"/>
<rect x="387" y="149" width="22" height="8" fill="#00b4ff"/>
<rect x="409" y="149" width="8" height="8" fill="#14ffe2"/>
<rect x="417" y="149" width="7" height="8" fill="#86ff70"/>
<rect x="424" y="149" width="8" height="8" fill="#00d7ff"/>
<rect x="432" y="149" width="15" height="8" fill="#14ffe2"/>
<rect x="447" y="149" width="7" height="8" fill="#86ff70"/>
<rect x="454" y="149" width="8" height="8" fill="#2fffc8"/>
<rect x="462" y="149" width="7" height="8" fill="#14ffe2"/>
<rect x="469" y="149" width="8" height="8" fill="#56ffa1"/>
<rect x="477" y="149" width="7" height="8" fill="#2fffc8"/>
<rect x="484" y="149" width="8" height="8" fill="#00b4ff"/>
<rect x="492" y="149" width="30" height="8" fill="#14ffe2"/>
<rect x="522" y="149" width="45" height="8" fill="#2fffc8"/>
<rect x="567" y="149" width="7" height="8" fill="#56ffa1"/>
<rect x="574" y="149" width="15" height="8" fill="#00b4ff"/>
<rect x="589" y="149" width="8" height="8" fill="#000080"/>
<rect x="116" y="157" width="8" height="7" fill="#b5ff42"/>
<rect x="124" y="157" width="22" height="7" fill="#56ffa1"/>
<rect x="146" y="157" width="15" height="7" fill="#2fffc8"/>
<rect x="161" y="157" width="8" height="7" fill="#00d7ff"/>
<rect x="169" y="157" width="15" height="7" fill="#2fffc8"/>
<rect x="184" y="157" width="15" height="7" fill="#00d7ff"/>
<rect x="199" y="157" width="15" height="7" fill="#2fffc8"/>
<rect x="214" y="157" width="7" height="7" fill="#86ff70"/>
<rect x="221" y="157" width="15" height="7" fill="#0063ff"/>
<rect x="236" y="157" width="8" height="7" fill="#008cff"/>
<rect x="244" y="157" width="7" height="7" fill="#0033ff"/>
<rect x="251" y="157" width="8" height="7" fill="#008cff"/>
<rect x="259" y="157" width="7" height="7" fill="#0063ff"/>
<rect x="266" y="157" width="30" height="7" fill="#000080"/>
<rect x="296" y="157" width="8" height="7" fill="#0000e3"/>
<rect x="304" y="157" width="7" height="7" fill="#14ffe2"/>
<rect x="311" y="157" width="8" height="7" fill="#008cff"/>
<rect x="319" y="157" width="7" height="7" fill="#0063ff"/>
<rect x="326" y="157" width="16" height="7" fill="#0033ff"/>
<rect x="342" y="157" width="7" height="7" fill="#0000e3"/>
<rect x="349" y="157" width="8" height="7" fill="#00d7ff"/>
<rect x="357" y="157" width="7" height="7" fill="#86ff70"/>
<rect x="364" y="157" width="8" height="7" fill="#00b4ff"/>
<rect x="372" y="157" width="7" height="7" fill="#2fffc8"/>
<rect x="379" y="157" width="15" height="7" fill="#14ffe2"/>
<rect x="394" y="157" width="8" height="7" fill="#0063ff"/>
<rect x="402" y="157" width="30" height="7" fill="#14ffe2"/>
<rect x="432" y="157" width="7" height="7" fill="#56ffa1"/>
<rect x="439" y="157" width="8" height="7" fill="#14ffe2"/>
<rect x="447" y="157" width="30" height="7" fill="#2fffc8"/>
<rect x="477" y="157" width="7" height="7" fill="#14ffe2"/>
<rect x="484" y="157" width="8" height="7" fill="#2fffc8"/>
<rect x="492" y="157" width="22" height="7" fill="#14ffe2"/>
<rect x="514" y="157" width="38" height="7" fill="#2fffc8"/>
<rect x="552" y="157" width="7" height="7" fill="#008cff"/>
<rect x="559" y="157" width="8" height="7" fill="#2fffc8"/>
<rect x="567" y="157" width="15" height="7" fill="#0063ff"/>
<rect x="582" y="157" width="7" height="7" fill="#0033ff"/>
<rect x="589" y="157" width="8" height="7" fill="#b5ff42"/>
<rect x="116" y="164" width="8" height="8" fill="#b5ff42"/>
<rect x="124" y="164" width="7" height="8" fill="#56ffa1"/>
<rect x="131" y="164" width="15" height="8" fill="#2fffc8"/>
<rect x="146" y="164" width="8" height="8" fill="#14ffe2"/>
<rect x="154" y="164" width="7" height="8" fill="#2fffc8"/>
<rect x="161" y="164" width="8" height="8" fill="#14ffe2"/>
<rect x="169" y="164" width="22" height="8" fill="#2fffc8"/>
<rect x="191" y="164" width="8" height="8" fill="#56ffa1"/>
<rect x="199" y="164" width="15" height="8" fill="#2fffc8"/>
<rect x="214" y="164" width="7" height="8" fill="#008cff"/>
<rect x="221" y="164" width="8" height="8" fill="#00b4ff"/>
<rect x="229" y="164" width="7" height="8" fill="#14ffe2"/>
<rect x="236" y="164" width="8" height="8" fill="#00b4ff"/>
<rect x="244" y="164" width="7" height="8" fill="#0033ff"/>
<rect x="251" y="164" width="15" height="8" fill="#0063ff"/>
<rect x="266" y="164" width="30" height="8" fill="#000080"/>
<rect x="296" y="164" width="8" height="8" fill="#0063ff"/>
<rect x="304" y="164" width="7" height="8" fill="#008cff"/>
<rect x="311" y="164" width="8" height="8" fill="#0063ff"/>
<rect x="319" y="164" width="7" height="8" fill="#0033ff"/>
<rect x="326" y="164" width="16" height="8" fill="#0000e3"/>
<rect x="342" y="164" width="7" height="8" fill="#0063ff"/>
<rect x="349" y="164" width="8" height="8" fill="#00d7ff"/>
<rect x="357" y="164" width="7" height="8" fill="#56ffa1"/>
<rect x="364" y="164" width="8" height="8" fill="#2fffc8"/>
<rect x="372" y="164" width="7" height="8" fill="#56ffa1"/>
<rect x="379" y="164" width="15" height="8" fill="#14ffe2"/>
<rect x="394" y="164" width="8" height="8" fill="#008cff"/>
<rect x="402" y="164" width="7" height="8" fill="#14ffe2"/>
<rect x="409" y="164" width="8" height="8" fill="#00d7ff"/>
<rect x="417" y="164" width="7" height="8" fill="#14ffe2"/>
<rect x="424" y="164" width="15" height="8" fill="#2fffc8"/>
<rect x="439" y="164" width="15" height="8" fill="#14ffe2"/>
<rect x="454" y="164" width="23" height="8" fill="#2fffc8"/>
<rect x="477" y="164" width="7" height="8" fill="#56ffa1"/>
<rect x="484" y="164" width="8" height="8" fill="#2fffc8"/>
<rect x="492" y="164" width="7" height="8" fill="#14ffe2"/>
<rect x="499" y="164" width="15" height="8" fill="#00d7ff"/>
<rect x="514" y="164" width="30" height="8" fill="#2fffc8"/>
<rect x="544" y="164" width="15" height="8" fill="#008cff"/>
<rect x="559" y="164" width="8" height="8" fill="#0063ff"/>
<rect x="567" y="164" width="7" height="8" fill="#0033ff"/>
<rect x="574" y="164" width="15" height="8" fill="#008cff"/>
<rect x="589" y="164" width="8" height="8" fill="#b5ff42"/>
<rect x="116" y="172" width="8" height="7" fill="#e4ff13"/>
<rect x="124" y="172" width="7" height="7" fill="#2fffc8"/>
<rect x="131" y="172" width="8" height="7" fill="#14ffe2"/>
<rect x="139" y="172" width="7" height="7" fill="#86ff70"/>
<rect x="146" y="172" width="8" height="7" fill="#56ffa1"/>
<rect x="154" y="172" width="7" height="7" fill="#14ffe2"/>
<rect x="161" y="172" width="8" height="7" fill="#2fffc8"/>
<rect x="169" y="172" width="7" height="7" fill="#86ff70"/>
<rect x="176" y="172" width="15" height="7" fill="#2fffc8"/>
<rect x="191" y="172" width="8" height="7" fill="#56ffa1"/>
<rect x="199" y="172" width="15" height="7" fill="#2fffc8"/>
<rect x="214" y="172" width="7" height="7" fill="#008cff"/>
<rect x="221" y="172" width="8" height="7" fill="#00b4ff"/>
<rect x="229" y="172" width="15" height="7" fill="#00d7ff"/>
<rect x="244" y="172" width="7" height="7" fill="#00b4ff"/>
<rect x="251" y="172" width="8" height="7" fill="#008cff"/>
<rect x="259" y="172" width="7" height="7" fill="#0033ff"/>
<rect x="266" y="172" width="45" height="7" fill="#000080"/>
<rect x="311" y="172" width="8" height="7" fill="#14ffe2"/>
<rect x="319" y="172" width="7" height="7" fill="#00d7ff"/>
<rect x="326" y="172" width="8" height="7" fill="#008cff"/>
<rect x="334" y="172" width="8" height="7" fill="#14ffe2"/>
<rect x="342" y="172" width="7" height="7" fill="#b5ff42"/>
<rect x="349" y="172" width="8" height="7" fill="#00d7ff"/>
<rect x="357" y="172" width="15" height="7" fill="#2fffc8"/>
<rect x="372" y="172" width="7" height="7" fill="#00d7ff"/>
<rect x="379" y="172" width="8" height="7" fill="#2fffc8"/>
<rect x="387" y="172" width="7" height="7" fill="#14ffe2"/>
<rect x="394" y="172" width="15" height="7" fill="#00d7ff"/>
<rect x="409" y="172" width="8" height="7" fill="#14ffe2"/>
<rect x="417" y="172" width="7" height="7" fill="#2fffc8"/>
<rect x="424" y="172" width="8" height="7" fill="#56ffa1"/>
<rect x="432" y="172" width="7" height="7" fill="#2fffc8"/>
<rect x="439" y="172" width="15" height="7" fill="#56ffa1"/>
<rect x="454" y="172" width="8" height="7" fill="#2fffc8"/>
<rect x="462" y="172" width="7" height="7" fill="#56ffa1"/>
<rect x="469" y="172" width="15" height="7" fill="#86ff70"/>
<rect x="484" y="172" width="15" height="7" fill="#2fffc8"/>
<rect x="499" y="172" width="8" height="7" fill="#14ffe2"/>
<rect x="507" y="172" width="7" height="7" fill="#2fffc8"/>
<rect x="514" y="172" width="8" height="7" fill="#56ffa1"/>
<rect x="522" y="172" width="7" height="7" fill="#86ff70"/>
<rect x="529" y="172" width="8" height="7" fill="#56ffa1"/>
<rect x="537" y="172" width="7" height="7" fill="#2fffc8"/>
<rect x="544" y="172" width="8" height="7" fill="#00b4ff"/>
<rect x="552" y="172" width="7" height="7" fill="#00d7ff"/>
<rect x="559" y="172" width="30" height="7" fill="#14ffe2"/>
<rect x="589" y="172" width="8" height="7" fill="#2fffc8"/>
<rect x="116" y="179" width="8" height="8" fill="#00d7ff"/>
<rect x="124" y="179" width="7" height="8" fill="#00b4ff"/>
<rect x="131" y="179" width="8" height="8" fill="#00d7ff"/>
<rect x="139" y="179" width="7" height="8" fill="#00b4ff"/>
<rect x="146" y="179" width="8" height="8" fill="#00d7ff"/>
<rect x="154" y="179" width="7" height="8" fill="#14ffe2"/>
<rect x="161" y="179" width="8" height="8" fill="#00b4ff"/>
<rect x="169" y="179" width="22" height="8" fill="#00d7ff"/>
<rect x="191" y="179" width="15" height="8" fill="#00b4ff"/>
<rect x="206" y="179" width="8" height="8" fill="#008cff"/>
<rect x="214" y="179" width="7" height="8" fill="#00d7ff"/>
<rect x="221" y="179" width="8" height="8" fill="#00b4ff"/>
<rect x="229" y="179" width="7" height="8" fill="#000080"/>
<rect x="236" y="179" width="8" height="8" fill="#14ffe2"/>
<rect x="244" y="179" width="7" height="8" fill="#2fffc8"/>
<rect x="251" y="179" width="8" height="8" fill="#000080"/>
<rect x="259" y="179" width="7" height="8" fill="#56ffa1"/>
<rect x="266" y="179" width="15" height="8" fill="#00d7ff"/>
<rect x="281" y="179" width="8" height="8" fill="#00b4ff"/>
<rect x="289" y="179" width="15" height="8" fill="#00d7ff"/>
<rect x="304" y="179" width="7" height="8" fill="#14ffe2"/>
<rect x="311" y="179" width="8" height="8" fill="#0033ff"/>
<rect x="319" y="179" width="15" height="8" fill="#0000e3"/>
<rect x="334" y="179" width="8" height="8" fill="#0063ff"/>
<rect x="342" y="179" width="7" height="8" fill="#0033ff"/>
<rect x="349" y="179" width="8" height="8" fill="#ff9800"/>
<rect x="357" y="179" width="7" height="8" fill="#e4ff13"/>
<rect x="364" y="179" width="15" height="8" fill="#000080"/>
<rect x="379" y="179" width="8" height="8" fill="#00d7ff"/>
<rect x="387" y="179" width="15" height="8" fill="#000080"/>
<rect x="402" y="179" width="15" height="8" fill="#14ffe2"/>
<rect x="417" y="179" width="15" height="8" fill="#000080"/>
<rect x="432" y="179" width="7" height="8" fill="#14ffe2"/>
<rect x="439" y="179" width="8" height="8" fill="#2fffc8"/>
<rect x="447" y="179" width="7" height="8" fill="#00b4ff"/>
<rect x="454" y="179" width="8" height="8" fill="#b5ff42"/>
<rect x="462" y="179" width="30" height="8" fill="#000080"/>
<rect x="492" y="179" width="7" height="8" fill="#00d7ff"/>
<rect x="499" y="179" width="8" height="8" fill="#00b4ff"/>
<rect x="507" y="179" width="7" height="8" fill="#000080"/>
<rect x="514" y="179" width="8" height="8" fill="#0000e3"/>
<rect x="522" y="179" width="7" height="8" fill="#0033ff"/>
<rect x="529" y="179" width="8" height="8" fill="#00d7ff"/>
<rect x="537" y="179" width="22" height="8" fill="#000080"/>
<rect x="559" y="179" width="8" height="8" fill="#14ffe2"/>
<rect x="567" y="179" width="7" height="8" fill="#00d7ff"/>
<rect x="574" y="179" width="23" height="8" fill="#000080"/>
<rect x="116" y="187" width="30" height="7" fill="#00b4ff"/>
<rect x="146" y="187" width="8" height="7" fill="#e4ff13"/>
<rect x="154" y="187" width="7" height="7" fill="#00b4ff"/>
<rect x="161" y="187" width="15" height="7" fill="#008cff"/>
<rect x="176" y="187" width="8" height="7" fill="#00b4ff"/>
<rect x="184" y="187" width="7" height="7" fill="#00d7ff"/>
<rect x="191" y="187" width="8" height="7" fill="#14ffe2"/>
<rect x="199" y="187" width="7" height="7" fill="#008cff"/>
<rect x="206" y="187" width="23" height="7" fill="#00b4ff"/>
<rect x="229" y="187" width="7" height="7" fill="#00d7ff"/>
<rect x="236" y="187" width="8" height="7" fill="#0063ff"/>
<rect x="244" y="187" width="15" height="7" fill="#000080"/>
<rect x="259" y="187" width="7" height="7" fill="#56ffa1"/>
<rect x="266" y="187" width="8" height="7" fill="#14ffe2"/>
<rect x="274" y="187" width="7" height="7" fill="#00b4ff"/>
<rect x="281" y="187" width="23" height="7" fill="#14ffe2"/>
<rect x="304" y="187" width="7" height="7" fill="#2fffc8"/>
<rect x="311" y="187" width="15" height="7" fill="#86ff70"/>
<rect x="326" y="187" width="8" height="7" fill="#0033ff"/>
<rect x="334" y="187" width="23" height="7" fill="#0000e3"/>
<rect x="357" y="187" width="15" height="7" fill="#000080"/>
<rect x="372" y="187" width="7" height="7" fill="#00d7ff"/>
<rect x="379" y="187" width="8" height="7" fill="#e4ff13"/>
<rect x="387" y="187" width="7" height="7" fill="#008cff"/>
<rect x="394" y="187" width="8" height="7" fill="#0063ff"/>
<rect x="402" y="187" width="15" height="7" fill="#0033ff"/>
<rect x="417" y="187" width="15" height="7" fill="#000080"/>
<rect x="432" y="187" width="7" height="7" fill="#008cff"/>
<rect x="439" y="187" width="8" height="7" fill="#0063ff"/>
<rect x="447" y="187" width="7" height="7" fill="#0033ff"/>
<rect x="454" y="187" width="8" height="7" fill="#0000e3"/>
<rect x="462" y="187" width="7" height="7" fill="#00d7ff"/>
<rect x="469" y="187" width="8" height="7" fill="#000080"/>
<rect x="477" y="187" width="7" height="7" fill="#86ff70"/>
<rect x="484" y="187" width="8" height="7" fill="#000080"/>
<rect x="492" y="187" width="7" height="7" fill="#0033ff"/>
<rect x="499" y="187" width="8" height="7" fill="#56ffa1"/>
<rect x="507" y="187" width="7" height="7" fill="#b5ff42"/>
<rect x="514" y="187" width="8" height="7" fill="#ffd100"/>
<rect x="522" y="187" width="7" height="7" fill="#56ffa1"/>
<rect x="529" y="187" width="8" height="7" fill="#00b4ff"/>
<rect x="537" y="187" width="15" height="7" fill="#000080"/>
<rect x="552" y="187" width="7" height="7" fill="#ff9800"/>
<rect x="559" y="187" width="8" height="7" fill="#56ffa1"/>
<rect x="567" y="187" width="7" height="7" fill="#00b4ff"/>
<rect x="574" y="187" width="8" height="7" fill="#0063ff"/>
<rect x="582" y="187" width="7" height="7" fill="#ffd100"/>
<rect x="589" y="187" width="8" height="7" fill="#000080"/>
<rect x="116" y="194" width="8" height="8" fill="#00d7ff"/>
<rect x="124" y="194" width="7" height="8" fill="#00b4ff"/>
<rect x="131" y="194" width="8" height="8" fill="#008cff"/>
<rect x="139" y="194" width="15" height="8" fill="#00b4ff"/>
<rect x="154" y="194" width="7" height="8" fill="#008cff"/>
<rect x="161" y="194" width="8" height="8" fill="#0063ff"/>
<rect x="169" y="194" width="37" height="8" fill="#00b4ff"/>
<rect x="206" y="194" width="30" height="8" fill="#00d7ff"/>
<rect x="236" y="194" width="8" height="8" fill="#008cff"/>
<rect x="244" y="194" width="7" height="8" fill="#2fffc8"/>
<rect x="251" y="194" width="23" height="8" fill="#000080"/>
<rect x="274" y="194" width="7" height="8" fill="#2fffc8"/>
<rect x="281" y="194" width="8" height="8" fill="#14ffe2"/>
<rect x="289" y="194" width="15" height="8" fill="#00d7ff"/>
<rect x="304" y="194" width="15" height="8" fill="#14ffe2"/>
<rect x="319" y="194" width="7" height="8" fill="#86ff70"/>
<rect x="326" y="194" width="8" height="8" fill="#2fffc8"/>
<rect x="334" y="194" width="23" height="8" fill="#0000e3"/>
<rect x="357" y="194" width="15" height="8" fill="#000080"/>
<rect x="372" y="194" width="7" height="8" fill="#56ffa1"/>
<rect x="379" y="194" width="15" height="8" fill="#0033ff"/>
<rect x="394" y="194" width="8" height="8" fill="#000080"/>
<rect x="402" y="194" width="7" height="8" fill="#2fffc8"/>
<rect x="409" y="194" width="8" height="8" fill="#0063ff"/>
<rect x="417" y="194" width="7" height="8" fill="#56ffa1"/>
<rect x="424" y="194" width="8" height="8" fill="#00d7ff"/>
<rect x="432" y="194" width="15" height="8" fill="#2fffc8"/>
<rect x="447" y="194" width="7" height="8" fill="#00b4ff"/>
<rect x="454" y="194" width="8" height="8" fill="#0033ff"/>
<rect x="462" y="194" width="7" height="8" fill="#008cff"/>
<rect x="469" y="194" width="8" height="8" fill="#00d7ff"/>
<rect x="477" y="194" width="7" height="8" fill="#56ffa1"/>
<rect x="484" y="194" width="8" height="8" fill="#2fffc8"/>
<rect x="492" y="194" width="7" height="8" fill="#0033ff"/>
<rect x="499" y="194" width="8" height="8" fill="#ff9800"/>
<rect x="507" y="194" width="15" height="8" fill="#56ffa1"/>
<rect x="522" y="194" width="7" height="8" fill="#86ff70"/>
<rect x="529" y="194" width="8" height="8" fill="#e4ff13"/>
<rect x="537" y="194" width="22" height="8" fill="#000080"/>
<rect x="559" y="194" width="8" height="8" fill="#2fffc8"/>
<rect x="567" y="194" width="7" height="8" fill="#56ffa1"/>
<rect x="574" y="194" width="15" height="8" fill="#0063ff"/>
<rect x="589" y="194" width="8" height="8" fill="#00d7ff"/>
<rect x="116" y="202" width="8" height="7" fill="#2fffc8"/>
<rect x="124" y="202" width="15" height="7" fill="#008cff"/>
<rect x="139" y="202" width="7" height="7" fill="#0063ff"/>
<rect x="146" y="202" width="8" height="7" fill="#00b4ff"/>
<rect x="154" y="202" width="7" height="7" fill="#0063ff"/>
<rect x="161" y="202" width="15" height="7" fill="#008cff"/>
<rect x="176" y="202" width="8" height="7" fill="#00d7ff"/>
<rect x="184" y="202" width="7" height="7" fill="#008cff"/>
<rect x="191" y="202" width="23" height="7" fill="#00b4ff"/>
<rect x="214" y="202" width="7" height="7" fill="#000080"/>
<rect x="221" y="202" width="15" height="7" fill="#00d7ff"/>
<rect x="236" y="202" width="8" height="7" fill="#00b4ff"/>
<rect x="244" y="202" width="37" height="7" fill="#000080"/>
<rect x="281" y="202" width="8" height="7" fill="#0063ff"/>
<rect x="289" y="202" width="7" height="7" fill="#14ffe2"/>
<rect x="296" y="202" width="8" height="7" fill="#00d7ff"/>
<rect x="304" y="202" width="7" height="7" fill="#008cff"/>
<rect x="311" y="202" width="8" height="7" fill="#00b4ff"/>
<rect x="319" y="202" width="7" height="7" fill="#00d7ff"/>
<rect x="326" y="202" width="8" height="7" fill="#b5ff42"/>
<rect x="334" y="202" width="8" height="7" fill="#000080"/>
<rect x="342" y="202" width="15" height="7" fill="#0000e3"/>
<rect x="357" y="202" width="15" height="7" fill="#000080"/>
<rect x="372" y="202" width="7" height="7" fill="#0063ff"/>
<rect x="379" y="202" width="8" height="7" fill="#14ffe2"/>
<rect x="387" y="202" width="7" height="7" fill="#56ffa1"/>
<rect x="394" y="202" width="8" height="7" fill="#14ffe2"/>
<rect x="402" y="202" width="7" height="7" fill="#000080"/>
<rect x="409" y="202" width="8" height="7" fill="#2fffc8"/>
<rect x="417" y="202" width="7" height="7" fill="#00b4ff"/>
<rect x="424" y="202" width="23" height="7" fill="#2fffc8"/>
<rect x="447" y="202" width="7" height="7" fill="#86ff70"/>
<rect x="454" y="202" width="8" height="7" fill="#000080"/>
<rect x="462" y="202" width="7" height="7" fill="#0063ff"/>
<rect x="469" y="202" width="8" height="7" fill="#56ffa1"/>
<rect x="477" y="202" width="15" height="7" fill="#2fffc8"/>
<rect x="492" y="202" width="7" height="7" fill="#0063ff"/>
<rect x="499" y="202" width="8" height="7" fill="#b5ff42"/>
<rect x="507" y="202" width="15" height="7" fill="#2fffc8"/>
<rect x="522" y="202" width="7" height="7" fill="#14ffe2"/>
<rect x="529" y="202" width="8" height="7" fill="#2fffc8"/>
<rect x="537" y="202" width="15" height="7" fill="#000080"/>
<rect x="552" y="202" width="7" height="7" fill="#56ffa1"/>
<rect x="559" y="202" width="8" height="7" fill="#14ffe2"/>
<rect x="567" y="202" width="7" height="7" fill="#56ffa1"/>
<rect x="574" y="202" width="8" height="7" fill="#000080"/>
<rect x="582" y="202" width="7" height="7" fill="#0033ff"/>
<rect x="589" y="202" width="8" height="7" fill="#b5ff42"/>
<rect x="116" y="209" width="8" height="8" fill="#2fffc8"/>
<rect x="124" y="209" width="15" height="8" fill="#008cff"/>
<rect x="139" y="209" width="7" height="8" fill="#00b4ff"/>
<rect x="146" y="209" width="15" height="8" fill="#008cff"/>
<rect x="161" y="209" width="60" height="8" fill="#00b4ff"/>
<rect x="221" y="209" width="8" height="8" fill="#00d7ff"/>
<rect x="229" y="209" width="15" height="8" fill="#008cff"/>
<rect x="244" y="209" width="7" height="8" fill="#0000e3"/>
<rect x="251" y="209" width="15" height="8" fill="#000080"/>
<rect x="266" y="209" width="8" height="8" fill="#86ff70"/>
<rect x="274" y="209" width="7" height="8" fill="#000080"/>
<rect x="281" y="209" width="8" height="8" fill="#56ffa1"/>
<rect x="289" y="209" width="7" height="8" fill="#00d7ff"/>
<rect x="296" y="209" width="8" height="8" fill="#14ffe2"/>
<rect x="304" y="209" width="22" height="8" fill="#00d7ff"/>
<rect x="326" y="209" width="8" height="8" fill="#2fffc8"/>
<rect x="334" y="209" width="8" height="8" fill="#56ffa1"/>
<rect x="342" y="209" width="15" height="8" fill="#0000e3"/>
<rect x="357" y="209" width="7" height="8" fill="#00b4ff"/>
<rect x="364" y="209" width="8" height="8" fill="#0033ff"/>
<rect x="372" y="209" width="7" height="8" fill="#0000e3"/>
<rect x="379" y="209" width="8" height="8" fill="#86ff70"/>
<rect x="387" y="209" width="15" height="8" fill="#14ffe2"/>
<rect x="402" y="209" width="7" height="8" fill="#2fffc8"/>
<rect x="409" y="209" width="23" height="8" fill="#14ffe2"/>
<rect x="432" y="209" width="22" height="8" fill="#2fffc8"/>
<rect x="454" y="209" width="8" height="8" fill="#00b4ff"/>
<rect x="462" y="209" width="7" height="8" fill="#0063ff"/>
<rect x="469" y="209" width="8" height="8" fill="#008cff"/>
<rect x="477" y="209" width="7" height="8" fill="#00b4ff"/>
<rect x="484" y="209" width="8" height="8" fill="#14ffe2"/>
<rect x="492" y="209" width="7" height="8" fill="#008cff"/>
<rect x="499" y="209" width="15" height="8" fill="#2fffc8"/>
<rect x="514" y="209" width="8" height="8" fill="#00b4ff"/>
<rect x="522" y="209" width="7" height="8" fill="#14ffe2"/>
<rect x="529" y="209" width="8" height="8" fill="#2fffc8"/>
<rect x="537" y="209" width="15" height="8" fill="#000080"/>
<rect x="552" y="209" width="7" height="8" fill="#56ffa1"/>
<rect x="559" y="209" width="8" height="8" fill="#14ffe2"/>
<rect x="567" y="209" width="7" height="8" fill="#2fffc8"/>
<rect x="574" y="209" width="8" height="8" fill="#14ffe2"/>
<rect x="582" y="209" width="7" height="8" fill="#0033ff"/>
<rect x="589" y="209" width="8" height="8" fill="#b5ff42"/>
<rect x="116" y="217" width="8" height="7" fill="#56ffa1"/>
<rect x="124" y="217" width="15" height="7" fill="#008cff"/>
<rect x="139" y="217" width="7" height="7" fill="#00b4ff"/>
<rect x="146" y="217" width="8" height="7" fill="#000080"/>
<rect x="154" y="217" width="15" height="7" fill="#00b4ff"/>
<rect x="169" y="217" width="15" height="7" fill="#008cff"/>
<rect x="184" y="217" width="52" height="7" fill="#00b4ff"/>
<rect x="236" y="217" width="8" height="7" fill="#0063ff"/>
<rect x="244" y="217" width="15" height="7" fill="#0000e3"/>
<rect x="259" y="217" width="7" height="7" fill="#e4ff13"/>
<rect x="266" y="217" width="8" height="7" fill="#14ffe2"/>
<rect x="274" y="217" width="7" height="7" fill="#56ffa1"/>
<rect x="281" y="217" width="8" height="7" fill="#0063ff"/>
<rect x="289" y="217" width="7" height="7" fill="#14ffe2"/>
<rect x="296" y="217" width="8" height="7" fill="#008cff"/>
<rect x="304" y="217" width="15" height="7" fill="#00d7ff"/>
<rect x="319" y="217" width="7" height="7" fill="#14ffe2"/>
<rect x="326" y="217" width="8" height="7" fill="#2fffc8"/>
<rect x="334" y="217" width="8" height="7" fill="#b5ff42"/>
<rect x="342" y="217" width="15" height="7" fill="#0000e3"/>
<rect x="357" y="217" width="7" height="7" fill="#0063ff"/>
<rect x="364" y="217" width="15" height="7" fill="#0000e3"/>
<rect x="379" y="217" width="15" height="7" fill="#2fffc8"/>
<rect x="394" y="217" width="8" height="7" fill="#14ffe2"/>
<rect x="402" y="217" width="7" height="7" fill="#2fffc8"/>
<rect x="409" y="217" width="8" height="7" fill="#14ffe2"/>
<rect x="417" y="217" width="7" height="7" fill="#00d7ff"/>
<rect x="424" y="217" width="8" height="7" fill="#14ffe2"/>
<rect x="432" y="217" width="30" height="7" fill="#2fffc8"/>
<rect x="462" y="217" width="7" height="7" fill="#008cff"/>
<rect x="469" y="217" width="8" height="7" fill="#e4ff13"/>
<rect x="477" y="217" width="7" height="7" fill="#14ffe2"/>
<rect x="484" y="217" width="8" height="7" fill="#0063ff"/>
<rect x="492" y="217" width="7" height="7" fill="#14ffe2"/>
<rect x="499" y="217" width="15" height="7" fill="#2fffc8"/>
<rect x="514" y="217" width="15" height="7" fill="#14ffe2"/>
<rect x="529" y="217" width="8" height="7" fill="#2fffc8"/>
<rect x="537" y="217" width="7" height="7" fill="#56ffa1"/>
<rect x="544" y="217" width="8" height="7" fill="#2fffc8"/>
<rect x="552" y="217" width="7" height="7" fill="#56ffa1"/>
<rect x="559" y="217" width="8" height="7" fill="#2fffc8"/>
<rect x="567" y="217" width="7" height="7" fill="#b5ff42"/>
<rect x="574" y="217" width="8" height="7" fill="#0063ff"/>
<rect x="582" y="217" width="7" height="7" fill="#008cff"/>
<rect x="589" y="217" width="8" height="7" fill="#56ffa1"/>
<rect x="116" y="224" width="8" height="8" fill="#14ffe2"/>
<rect x="124" y="224" width="7" height="8" fill="#008cff"/>
<rect x="131" y="224" width="8" height="8" fill="#00b4ff"/>
<rect x="139" y="224" width="7" height="8" fill="#0063ff"/>
<rect x="146" y="224" width="8" height="8" fill="#00b4ff"/>
<rect x="154" y="224" width="7" height="8" fill="#008cff"/>
<rect x="161" y="224" width="8" height="8" fill="#00b4ff"/>
<rect x="169" y="224" width="7" height="8" fill="#008cff"/>
<rect x="176" y="224" width="15" height="8" fill="#00b4ff"/>
<rect x="191" y="224" width="8" height="8" fill="#008cff"/>
<rect x="199" y="224" width="7" height="8" fill="#00b4ff"/>
<rect x="206" y="224" width="8" height="8" fill="#008cff"/>
<rect x="214" y="224" width="15" height="8" fill="#00b4ff"/>
<rect x="229" y="224" width="7" height="8" fill="#0063ff"/>
<rect x="236" y="224" width="8" height="8" fill="#008cff"/>
<rect x="244" y="224" width="15" height="8" fill="#0000e3"/>
<rect x="259" y="224" width="7" height="8" fill="#2fffc8"/>
<rect x="266" y="224" width="15" height="8" fill="#00d7ff"/>
<rect x="281" y="224" width="15" height="8" fill="#14ffe2"/>
<rect x="296" y="224" width="23" height="8" fill="#00d7ff"/>
<rect x="319" y="224" width="7" height="8" fill="#14ffe2"/>
<rect x="326" y="224" width="16" height="8" fill="#56ffa1"/>
<rect x="342" y="224" width="15" height="8" fill="#0000e3"/>
<rect x="357" y="224" width="7" height="8" fill="#00d7ff"/>
<rect x="364" y="224" width="8" height="8" fill="#0033ff"/>
<rect x="372" y="224" width="7" height="8" fill="#0000e3"/>
<rect x="379" y="224" width="8" height="8" fill="#2fffc8"/>
<rect x="387" y="224" width="22" height="8" fill="#00d7ff"/>
<rect x="409" y="224" width="8" height="8" fill="#14ffe2"/>
<rect x="417" y="224" width="7" height="8" fill="#0063ff"/>
<rect x="424" y="224" width="15" height="8" fill="#14ffe2"/>
<rect x="439" y="224" width="8" height="8" fill="#2fffc8"/>
<rect x="447" y="224" width="7" height="8" fill="#14ffe2"/>
<rect x="454" y="224" width="8" height="8" fill="#00b4ff"/>
<rect x="462" y="224" width="7" height="8" fill="#008cff"/>
<rect x="469" y="224" width="8" height="8" fill="#000080"/>
<rect x="477" y="224" width="7" height="8" fill="#2fffc8"/>
<rect x="484" y="224" width="8" height="8" fill="#0033ff"/>
<rect x="492" y="224" width="7" height="8" fill="#b5ff42"/>
<rect x="499" y="224" width="30" height="8" fill="#2fffc8"/>
<rect x="529" y="224" width="15" height="8" fill="#14ffe2"/>
<rect x="544" y="224" width="23" height="8" fill="#2fffc8"/>
<rect x="567" y="224" width="7" height="8" fill="#56ffa1"/>
<rect x="574" y="224" width="8" height="8" fill="#0000e3"/>
<rect x="582" y="224" width="7" height="8" fill="#008cff"/>
<rect x="589" y="224" width="8" height="8" fill="#ff9800"/>
<rect x="116" y="232" width="8" height="7" fill="#00d7ff"/>
<rect x="124" y="232" width="7" height="7" fill="#00b4ff"/>
<rect x="131" y="232" width="8" height="7" fill="#0063ff"/>
<rect x="139" y="232" width="15" height="7" fill="#00b4ff"/>
<rect x="154" y="232" width="7" height="7" fill="#008cff"/>
<rect x="161" y="232" width="23" height="7" fill="#00b4ff"/>
<rect x="184" y="232" width="7" height="7" fill="#008cff"/>
<rect x="191" y="232" width="8" height="7" fill="#0063ff"/>
<rect x="199" y="232" width="7" height="7" fill="#00b4ff"/>
<rect x="206" y="232" width="8" height="7" fill="#008cff"/>
<rect x="214" y="232" width="15" height="7" fill="#00b4ff"/>
<rect x="229" y="232" width="7" height="7" fill="#008cff"/>
<rect x="236" y="232" width="8" height="7" fill="#0063ff"/>
<rect x="244" y="232" width="15" height="7" fill="#0000e3"/>
<rect x="259" y="232" width="22" height="7" fill="#00b4ff"/>
<rect x="281" y="232" width="8" height="7" fill="#00d7ff"/>
<rect x="289" y="232" width="7" height="7" fill="#14ffe2"/>
<rect x="296" y="232" width="38" height="7" fill="#00d7ff"/>
<rect x="334" y="232" width="15" height="7" fill="#0000e3"/>
<rect x="349" y="232" width="8" height="7" fill="#0033ff"/>
<rect x="357" y="232" width="7" height="7" fill="#008cff"/>
<rect x="364" y="232" width="15" height="7" fill="#0063ff"/>
<rect x="379" y="232" width="8" height="7" fill="#56ffa1"/>
<rect x="387" y="232" width="7" height="7" fill="#14ffe2"/>
<rect x="394" y="232" width="8" height="7" fill="#00b4ff"/>
<rect x="402" y="232" width="7" height="7" fill="#14ffe2"/>
<rect x="409" y="232" width="8" height="7" fill="#2fffc8"/>
<rect x="417" y="232" width="7" height="7" fill="#14ffe2"/>
<rect x="424" y="232" width="8" height="7" fill="#2fffc8"/>
<rect x="432" y="232" width="7" height="7" fill="#00d7ff"/>
<rect x="439" y="232" width="15" height="7" fill="#14ffe2"/>
<rect x="454" y="232" width="8" height="7" fill="#0033ff"/>
<rect x="462" y="232" width="7" height="7" fill="#0063ff"/>
<rect x="469" y="232" width="8" height="7" fill="#000080"/>
<rect x="477" y="232" width="7" height="7" fill="#14ffe2"/>
<rect x="484" y="232" width="8" height="7" fill="#0063ff"/>
<rect x="492" y="232" width="15" height="7" fill="#2fffc8"/>
<rect x="507" y="232" width="7" height="7" fill="#14ffe2"/>
<rect x="514" y="232" width="8" height="7" fill="#2fffc8"/>
<rect x="522" y="232" width="7" height="7" fill="#00d7ff"/>
<rect x="529" y="232" width="8" height="7" fill="#14ffe2"/>
<rect x="537" y="232" width="7" height="7" fill="#00d7ff"/>
<rect x="544" y="232" width="8" height="7" fill="#14ffe2"/>
<rect x="552" y="232" width="15" height="7" fill="#2fffc8"/>
<rect x="567" y="232" width="7" height="7" fill="#0063ff"/>
<rect x="574" y="232" width="8" height="7" fill="#0000e3"/>
<rect x="582" y="232" width="7" height="7" fill="#00d7ff"/>
<rect x="589" y="232" width="8" height="7" fill="#56ffa1"/>
<rect x="116" y="239" width="8" height="8" fill="#00d7ff"/>
<rect x="124" y="239" width="45" height="8" fill="#008cff"/>
<rect x="169" y="239" width="7" height="8" fill="#00b4ff"/>
<rect x="176" y="239" width="23" height="8" fill="#008cff"/>
<rect x="199" y="239" width="15" height="8" fill="#00b4ff"/>
<rect x="214" y="239" width="7" height="8" fill="#0063ff"/>
<rect x="221" y="239" width="8" height="8" fill="#00b4ff"/>
<rect x="229" y="239" width="7" height="8" fill="#008cff"/>
<rect x="236" y="239" width="8" height="8" fill="#0033ff"/>
<rect x="244" y="239" width="7" height="8" fill="#0000e3"/>
<rect x="251" y="239" width="8" height="8" fill="#0033ff"/>
<rect x="259" y="239" width="7" height="8" fill="#0063ff"/>
<rect x="266" y="239" width="8" height="8" fill="#00b4ff"/>
<rect x="274" y="239" width="7" height="8" fill="#14ffe2"/>
<rect x="281" y="239" width="8" height="8" fill="#00d7ff"/>
<rect x="289" y="239" width="15" height="8" fill="#00b4ff"/>
<rect x="304" y="239" width="15" height="8" fill="#008cff"/>
<rect x="319" y="239" width="7" height="8" fill="#0063ff"/>
<rect x="326" y="239" width="8" height="8" fill="#00d7ff"/>
<rect x="334" y="239" width="15" height="8" fill="#00b4ff"/>
<rect x="349" y="239" width="8" height="8" fill="#00d7ff"/>
<rect x="357" y="239" width="7" height="8" fill="#0063ff"/>
<rect x="364" y="239" width="8" height="8" fill="#0033ff"/>
<rect x="372" y="239" width="7" height="8" fill="#00d7ff"/>
<rect x="379" y="239" width="8" height="8" fill="#56ffa1"/>
<rect x="387" y="239" width="7" height="8" fill="#14ffe2"/>
<rect x="394" y="239" width="8" height="8" fill="#2fffc8"/>
<rect x="402" y="239" width="15" height="8" fill="#14ffe2"/>
<rect x="417" y="239" width="7" height="8" fill="#00d7ff"/>
<rect x="424" y="239" width="15" height="8" fill="#14ffe2"/>
<rect x="439" y="239" width="8" height="8" fill="#00d7ff"/>
<rect x="447" y="239" width="15" height="8" fill="#2fffc8"/>
<rect x="462" y="239" width="7" height="8" fill="#14ffe2"/>
<rect x="469" y="239" width="8" height="8" fill="#56ffa1"/>
<rect x="477" y="239" width="7" height="8" fill="#14ffe2"/>
<rect x="484" y="239" width="8" height="8" fill="#0033ff"/>
<rect x="492" y="239" width="7" height="8" fill="#56ffa1"/>
<rect x="499" y="239" width="15" height="8" fill="#2fffc8"/>
<rect x="514" y="239" width="8" height="8" fill="#14ffe2"/>
<rect x="522" y="239" width="22" height="8" fill="#2fffc8"/>
<rect x="544" y="239" width="8" height="8" fill="#00b4ff"/>
<rect x="552" y="239" width="22" height="8" fill="#2fffc8"/>
<rect x="574" y="239" width="8" height="8" fill="#0063ff"/>
<rect x="582" y="239" width="7" height="8" fill="#008cff"/>
<rect x="589" y="239" width="8" height="8" fill="#ffd100"/>
<rect x="116" y="247" width="8" height="7" fill="#2fffc8"/>
<rect x="124" y="247" width="7" height="7" fill="#00d7ff"/>
<rect x="131" y="247" width="8" height="7" fill="#14ffe2"/>
<rect x="139" y="247" width="7" height="7" fill="#00b4ff"/>
<rect x="146" y="247" width="8" height="7" fill="#008cff"/>
<rect x="154" y="247" width="15" height="7" fill="#00d7ff"/>
<rect x="169" y="247" width="7" height="7" fill="#008cff"/>
<rect x="176" y="247" width="15" height="7" fill="#00b4ff"/>
<rect x="191" y="247" width="8" height="7" fill="#0063ff"/>
<rect x="199" y="247" width="15" height="7" fill="#00b4ff"/>
<rect x="214" y="247" width="7" height="7" fill="#008cff"/>
<rect x="221" y="247" width="8" height="7" fill="#00d7ff"/>
<rect x="229" y="247" width="7" height="7" fill="#00b4ff"/>
<rect x="236" y="247" width="23" height="7" fill="#0000e3"/>
<rect x="259" y="247" width="7" height="7" fill="#0033ff"/>
<rect x="266" y="247" width="8" height="7" fill="#000080"/>
<rect x="274" y="247" width="7" height="7" fill="#14ffe2"/>
<rect x="281" y="247" width="8" height="7" fill="#00d7ff"/>
<rect x="289" y="247" width="7" height="7" fill="#14ffe2"/>
<rect x="296" y="247" width="8" height="7" fill="#00d7ff"/>
<rect x="304" y="247" width="7" height="7" fill="#14ffe2"/>
<rect x="311" y="247" width="31" height="7" fill="#00d7ff"/>
<rect x="342" y="247" width="7" height="7" fill="#14ffe2"/>
<rect x="349" y="247" width="8" height="7" fill="#00d7ff"/>
<rect x="357" y="247" width="7" height="7" fill="#0063ff"/>
<rect x="364" y="247" width="8" height="7" fill="#0000e3"/>
<rect x="372" y="247" width="15" height="7" fill="#2fffc8"/>
<rect x="387" y="247" width="7" height="7" fill="#008cff"/>
<rect x="394" y="247" width="30" height="7" fill="#14ffe2"/>
<rect x="424" y="247" width="8" height="7" fill="#00d7ff"/>
<rect x="432" y="247" width="7" height="7" fill="#2fffc8"/>
<rect x="439" y="247" width="15" height="7" fill="#14ffe2"/>
<rect x="454" y="247" width="15" height="7" fill="#008cff"/>
<rect x="469" y="247" width="8" height="7" fill="#0033ff"/>
<rect x="477" y="247" width="7" height="7" fill="#2fffc8"/>
<rect x="484" y="247" width="8" height="7" fill="#0033ff"/>
<rect x="492" y="247" width="7" height="7" fill="#2fffc8"/>
<rect x="499" y="247" width="8" height="7" fill="#00b4ff"/>
<rect x="507" y="247" width="7" height="7" fill="#2fffc8"/>
<rect x="514" y="247" width="8" height="7" fill="#00d7ff"/>
<rect x="522" y="247" width="7" height="7" fill="#2fffc8"/>
<rect x="529" y="247" width="8" height="7" fill="#00d7ff"/>
<rect x="537" y="247" width="22" height="7" fill="#2fffc8"/>
<rect x="559" y="247" width="8" height="7" fill="#14ffe2"/>
<rect x="567" y="247" width="7" height="7" fill="#2fffc8"/>
<rect x="574" y="247" width="8" height="7" fill="#14ffe2"/>
<rect x="582" y="247" width="7" height="7" fill="#008cff"/>
<rect x="589" y="247" width="8" height="7" fill="#e4ff13"/>
<rect x="116" y="254" width="8" height="8" fill="#56ffa1"/>
<rect x="124" y="254" width="7" height="8" fill="#00d7ff"/>
<rect x="131" y="254" width="30" height="8" fill="#00b4ff"/>
<rect x="161" y="254" width="15" height="8" fill="#008cff"/>
<rect x="176" y="254" width="8" height="8" fill="#00b4ff"/>
<rect x="184" y="254" width="7" height="8" fill="#00d7ff"/>
<rect x="191" y="254" width="8" height="8" fill="#008cff"/>
<rect x="199" y="254" width="15" height="8" fill="#00b4ff"/>
<rect x="214" y="254" width="7" height="8" fill="#008cff"/>
<rect x="221" y="254" width="15" height="8" fill="#00b4ff"/>
<rect x="236" y="254" width="8" height="8" fill="#0033ff"/>
<rect x="244" y="254" width="7" height="8" fill="#0063ff"/>
<rect x="251" y="254" width="15" height="8" fill="#0000e3"/>
<rect x="266" y="254" width="8" height="8" fill="#b5ff42"/>
<rect x="274" y="254" width="7" height="8" fill="#14ffe2"/>
<rect x="281" y="254" width="8" height="8" fill="#00d7ff"/>
<rect x="289" y="254" width="7" height="8" fill="#008cff"/>
<rect x="296" y="254" width="8" height="8" fill="#00b4ff"/>
<rect x="304" y="254" width="7" height="8" fill="#00d7ff"/>
<rect x="311" y="254" width="8" height="8" fill="#14ffe2"/>
<rect x="319" y="254" width="7" height="8" fill="#00b4ff"/>
<rect x="326" y="254" width="16" height="8" fill="#14ffe2"/>
<rect x="342" y="254" width="7" height="8" fill="#00b4ff"/>
<rect x="349" y="254" width="8" height="8" fill="#00d7ff"/>
<rect x="357" y="254" width="7" height="8" fill="#0033ff"/>
<rect x="364" y="254" width="8" height="8" fill="#0000e3"/>
<rect x="372" y="254" width="22" height="8" fill="#2fffc8"/>
<rect x="394" y="254" width="8" height="8" fill="#14ffe2"/>
<rect x="402" y="254" width="7" height="8" fill="#00d7ff"/>
<rect x="409" y="254" width="8" height="8" fill="#00b4ff"/>
<rect x="417" y="254" width="7" height="8" fill="#00d7ff"/>
<rect x="424" y="254" width="8" height="8" fill="#14ffe2"/>
<rect x="432" y="254" width="15" height="8" fill="#2fffc8"/>
<rect x="447" y="254" width="7" height="8" fill="#56ffa1"/>
<rect x="454" y="254" width="8" height="8" fill="#14ffe2"/>
<rect x="462" y="254" width="15" height="8" fill="#0033ff"/>
<rect x="477" y="254" width="7" height="8" fill="#86ff70"/>
<rect x="484" y="254" width="8" height="8" fill="#0063ff"/>
<rect x="492" y="254" width="7" height="8" fill="#14ffe2"/>
<rect x="499" y="254" width="15" height="8" fill="#2fffc8"/>
<rect x="514" y="254" width="8" height="8" fill="#14ffe2"/>
<rect x="522" y="254" width="7" height="8" fill="#2fffc8"/>
<rect x="529" y="254" width="8" height="8" fill="#56ffa1"/>
<rect x="537" y="254" width="37" height="8" fill="#2fffc8"/>
<rect x="574" y="254" width="8" height="8" fill="#e4ff13"/>
<rect x="582" y="254" width="7" height="8" fill="#000080"/>
<rect x="589" y="254" width="8" height="8" fill="#ffd100"/>
<rect x="116" y="262" width="8" height="7" fill="#86ff70"/>
<rect x="124" y="262" width="7" height="7" fill="#00b4ff"/>
<rect x="131" y="262" width="8" height="7" fill="#008cff"/>
<rect x="139" y="262" width="15" height="7" fill="#00b4ff"/>
<rect x="154" y="262" width="7" height="7" fill="#2fffc8"/>
<rect x="161" y="262" width="15" height="7" fill="#00b4ff"/>
<rect x="176" y="262" width="8" height="7" fill="#008cff"/>
<rect x="184" y="262" width="7" height="7" fill="#0063ff"/>
<rect x="191" y="262" width="15" height="7" fill="#00b4ff"/>
<rect x="206" y="262" width="8" height="7" fill="#00d7ff"/>
<rect x="214" y="262" width="7" height="7" fill="#00b4ff"/>
<rect x="221" y="262" width="8" height="7" fill="#008cff"/>
<rect x="229" y="262" width="7" height="7" fill="#2fffc8"/>
<rect x="236" y="262" width="8" height="7" fill="#008cff"/>
<rect x="244" y="262" width="7" height="7" fill="#0033ff"/>
<rect x="251" y="262" width="15" height="7" fill="#0063ff"/>
<rect x="266" y="262" width="15" height="7" fill="#000080"/>
<rect x="281" y="262" width="8" height="7" fill="#14ffe2"/>
<rect x="289" y="262" width="15" height="7" fill="#2fffc8"/>
<rect x="304" y="262" width="15" height="7" fill="#14ffe2"/>
<rect x="319" y="262" width="23" height="7" fill="#000080"/>
<rect x="342" y="262" width="7" height="7" fill="#56ffa1"/>
<rect x="349" y="262" width="8" height="7" fill="#00b4ff"/>
<rect x="357" y="262" width="7" height="7" fill="#b5ff42"/>
<rect x="364" y="262" width="8" height="7" fill="#0000e3"/>
<rect x="372" y="262" width="7" height="7" fill="#14ffe2"/>
<rect x="379" y="262" width="15" height="7" fill="#2fffc8"/>
<rect x="394" y="262" width="8" height="7" fill="#14ffe2"/>
<rect x="402" y="262" width="15" height="7" fill="#2fffc8"/>
<rect x="417" y="262" width="7" height="7" fill="#14ffe2"/>
<rect x="424" y="262" width="8" height="7" fill="#000080"/>
<rect x="432" y="262" width="15" height="7" fill="#14ffe2"/>
<rect x="447" y="262" width="7" height="7" fill="#000080"/>
<rect x="454" y="262" width="15" height="7" fill="#0063ff"/>
<rect x="469" y="262" width="8" height="7" fill="#008cff"/>
<rect x="477" y="262" width="7" height="7" fill="#86ff70"/>
<rect x="484" y="262" width="8" height="7" fill="#2fffc8"/>
<rect x="492" y="262" width="15" height="7" fill="#14ffe2"/>
<rect x="507" y="262" width="67" height="7" fill="#2fffc8"/>
<rect x="574" y="262" width="8" height="7" fill="#e4ff13"/>
<rect x="582" y="262" width="7" height="7" fill="#0063ff"/>
<rect x="589" y="262" width="8" height="7" fill="#000080"/>
<rect x="116" y="269" width="8" height="8" fill="#2fffc8"/>
<rect x="124" y="269" width="7" height="8" fill="#008cff"/>
<rect x="131" y="269" width="15" height="8" fill="#00b4ff"/>
<rect x="146" y="269" width="8" height="8" fill="#008cff"/>
<rect x="154" y="269" width="30" height="8" fill="#00b4ff"/>
<rect x="184" y="269" width="7" height="8" fill="#14ffe2"/>
<rect x="191" y="269" width="8" height="8" fill="#00b4ff"/>
<rect x="199" y="269" width="15" height="8" fill="#00d7ff"/>
<rect x="214" y="269" width="15" height="8" fill="#0063ff"/>
<rect x="229" y="269" width="7" height="8" fill="#2fffc8"/>
<rect x="236" y="269" width="8" height="8" fill="#0063ff"/>
<rect x="244" y="269" width="15" height="8" fill="#0033ff"/>
<rect x="259" y="269" width="7" height="8" fill="#0063ff"/>
<rect x="266" y="269" width="8" height="8" fill="#008cff"/>
<rect x="274" y="269" width="7" height="8" fill="#2fffc8"/>
<rect x="281" y="269" width="15" height="8" fill="#000080"/>
<rect x="296" y="269" width="8" height="8" fill="#00b4ff"/>
<rect x="304" y="269" width="7" height="8" fill="#56ffa1"/>
<rect x="311" y="269" width="31" height="8" fill="#000080"/>
<rect x="342" y="269" width="7" height="8" fill="#00d7ff"/>
<rect x="349" y="269" width="8" height="8" fill="#14ffe2"/>
<rect x="357" y="269" width="7" height="8" fill="#00b4ff"/>
<rect x="364" y="269" width="8" height="8" fill="#0033ff"/>
<rect x="372" y="269" width="7" height="8" fill="#00d7ff"/>
<rect x="379" y="269" width="8" height="8" fill="#2fffc8"/>
<rect x="387" y="269" width="7" height="8" fill="#14ffe2"/>
<rect x="394" y="269" width="8" height="8" fill="#00d7ff"/>
<rect x="402" y="269" width="7" height="8" fill="#2fffc8"/>
<rect x="409" y="269" width="8" height="8" fill="#14ffe2"/>
<rect x="417" y="269" width="7" height="8" fill="#2fffc8"/>
<rect x="424" y="269" width="8" height="8" fill="#000080"/>
<rect x="432" y="269" width="7" height="8" fill="#14ffe2"/>
<rect x="439" y="269" width="8" height="8" fill="#86ff70"/>
<rect x="447" y="269" width="7" height="8" fill="#008cff"/>
<rect x="454" y="269" width="23" height="8" fill="#0063ff"/>
<rect x="477" y="269" width="7" height="8" fill="#14ffe2"/>
<rect x="484" y="269" width="8" height="8" fill="#00d7ff"/>
<rect x="492" y="269" width="7" height="8" fill="#2fffc8"/>
<rect x="499" y="269" width="8" height="8" fill="#14ffe2"/>
<rect x="507" y="269" width="15" height="8" fill="#2fffc8"/>
<rect x="522" y="269" width="7" height="8" fill="#00b4ff"/>
<rect x="529" y="269" width="15" height="8" fill="#2fffc8"/>
<rect x="544" y="269" width="8" height="8" fill="#00d7ff"/>
<rect x="552" y="269" width="15" height="8" fill="#2fffc8"/>
<rect x="567" y="269" width="7" height="8" fill="#56ffa1"/>
<rect x="574" y="269" width="8" height="8" fill="#ff9800"/>
<rect x="582" y="269" width="7" height="8" fill="#2fffc8"/>
<rect x="589" y="269" width="8" height="8" fill="#000080"/>
<rect x="116" y="277" width="8" height="8" fill="#00d7ff"/>
<rect x="124" y="277" width="7" height="8" fill="#2fffc8"/>
<rect x="131" y="277" width="8" height="8" fill="#00b4ff"/>
<rect x="139" y="277" width="7" height="8" fill="#008cff"/>
<rect x="146" y="277" width="8" height="8" fill="#00b4ff"/>
<rect x="154" y="277" width="7" height="8" fill="#14ffe2"/>
<rect x="161" y="277" width="23" height="8" fill="#00b4ff"/>
<rect x="184" y="277" width="7" height="8" fill="#00d7ff"/>
<rect x="191" y="277" width="8" height="8" fill="#2fffc8"/>
<rect x="199" y="277" width="7" height="8" fill="#00b4ff"/>
<rect x="206" y="277" width="8" height="8" fill="#0063ff"/>
<rect x="214" y="277" width="7" height="8" fill="#0000e3"/>
<rect x="221" y="277" width="8" height="8" fill="#0033ff"/>
<rect x="229" y="277" width="7" height="8" fill="#14ffe2"/>
<rect x="236" y="277" width="8" height="8" fill="#0000e3"/>
<rect x="244" y="277" width="7" height="8" fill="#0033ff"/>
<rect x="251" y="277" width="23" height="8" fill="#0000e3"/>
<rect x="274" y="277" width="7" height="8" fill="#56ffa1"/>
<rect x="281" y="277" width="15" height="8" fill="#14ffe2"/>
<rect x="296" y="277" width="8" height="8" fill="#00d7ff"/>
<rect x="304" y="277" width="30" height="8" fill="#000080"/>
<rect x="334" y="277" width="8" height="8" fill="#14ffe2"/>
<rect x="342" y="277" width="7" height="8" fill="#000080"/>
<rect x="349" y="277" width="8" height="8" fill="#2fffc8"/>
<rect x="357" y="277" width="7" height="8" fill="#00d7ff"/>
<rect x="364" y="277" width="8" height="8" fill="#0063ff"/>
<rect x="372" y="277" width="7" height="8" fill="#0033ff"/>
<rect x="379" y="277" width="8" height="8" fill="#86ff70"/>
<rect x="387" y="277" width="7" height="8" fill="#2fffc8"/>
<rect x="394" y="277" width="8" height="8" fill="#14ffe2"/>
<rect x="402" y="277" width="7" height="8" fill="#2fffc8"/>
<rect x="409" y="277" width="8" height="8" fill="#14ffe2"/>
<rect x="417" y="277" width="7" height="8" fill="#2fffc8"/>
<rect x="424" y="277" width="15" height="8" fill="#00d7ff"/>
<rect x="439" y="277" width="8" height="8" fill="#14ffe2"/>
<rect x="447" y="277" width="7" height="8" fill="#0033ff"/>
<rect x="454" y="277" width="8" height="8" fill="#0063ff"/>
<rect x="462" y="277" width="7" height="8" fill="#0033ff"/>
<rect x="469" y="277" width="8" height="8" fill="#0063ff"/>
<rect x="477" y="277" width="7" height="8" fill="#14ffe2"/>
<rect x="484" y="277" width="8" height="8" fill="#008cff"/>
<rect x="492" y="277" width="7" height="8" fill="#2fffc8"/>
<rect x="499" y="277" width="8" height="8" fill="#14ffe2"/>
<rect x="507" y="277" width="15" height="8" fill="#2fffc8"/>
<rect x="522" y="277" width="7" height="8" fill="#56ffa1"/>
<rect x="529" y="277" width="8" height="8" fill="#2fffc8"/>
<rect x="537" y="277" width="7" height="8" fill="#14ffe2"/>
<rect x="544" y="277" width="23" height="8" fill="#2fffc8"/>
<rect x="567" y="277" width="7" height="8" fill="#ff9800"/>
<rect x="574" y="277" width="8" height="8" fill="#00d7ff"/>
<rect x="582" y="277" width="7" height="8" fill="#0000e3"/>
<rect x="589" y="277" width="8" height="8" fill="#008cff"/>
<rect x="116" y="285" width="8" height="7" fill="#0000e3"/>
<rect x="124" y="285" width="15" height="7" fill="#14ffe2"/>
<rect x="139" y="285" width="30" height="7" fill="#00b4ff"/>
<rect x="169" y="285" width="7" height="7" fill="#0063ff"/>
<rect x="176" y="285" width="15" height="7" fill="#0033ff"/>
<rect x="191" y="285" width="15" height="7" fill="#0000e3"/>
<rect x="206" y="285" width="8" height="7" fill="#0033ff"/>
<rect x="214" y="285" width="15" height="7" fill="#0000e3"/>
<rect x="229" y="285" width="7" height="7" fill="#86ff70"/>
<rect x="236" y="285" width="8" height="7" fill="#0063ff"/>
<rect x="244" y="285" width="7" height="7" fill="#0000e3"/>
<rect x="251" y="285" width="8" height="7" fill="#0063ff"/>
<rect x="259" y="285" width="7" height="7" fill="#0033ff"/>
<rect x="266" y="285" width="8" height="7" fill="#14ffe2"/>
<rect x="274" y="285" width="7" height="7" fill="#00d7ff"/>
<rect x="281" y="285" width="8" height="7" fill="#000080"/>
<rect x="289" y="285" width="7" height="7" fill="#14ffe2"/>
<rect x="296" y="285" width="8" height="7" fill="#56ffa1"/>
<rect x="304" y="285" width="15" height="7" fill="#14ffe2"/>
<rect x="319" y="285" width="7" height="7" fill="#2fffc8"/>
<rect x="326" y="285" width="8" height="7" fill="#56ffa1"/>
<rect x="334" y="285" width="23" height="7" fill="#14ffe2"/>
<rect x="357" y="285" width="7" height="7" fill="#0063ff"/>
<rect x="364" y="285" width="8" height="7" fill="#0033ff"/>
<rect x="372" y="285" width="7" height="7" fill="#0063ff"/>
<rect x="379" y="285" width="8" height="7" fill="#008cff"/>
<rect x="387" y="285" width="7" height="7" fill="#86ff70"/>
<rect x="394" y="285" width="8" height="7" fill="#14ffe2"/>
<rect x="402" y="285" width="15" height="7" fill="#2fffc8"/>
<rect x="417" y="285" width="7" height="7" fill="#56ffa1"/>
<rect x="424" y="285" width="8" height="7" fill="#0063ff"/>
<rect x="432" y="285" width="7" height="7" fill="#0033ff"/>
<rect x="439" y="285" width="15" height="7" fill="#00b4ff"/>
<rect x="454" y="285" width="8" height="7" fill="#14ffe2"/>
<rect x="462" y="285" width="7" height="7" fill="#00d7ff"/>
<rect x="469" y="285" width="8" height="7" fill="#56ffa1"/>
<rect x="477" y="285" width="7" height="7" fill="#000080"/>
<rect x="484" y="285" width="8" height="7" fill="#56ffa1"/>
<rect x="492" y="285" width="7" height="7" fill="#00b4ff"/>
<rect x="499" y="285" width="8" height="7" fill="#14ffe2"/>
<rect x="507" y="285" width="15" height="7" fill="#2fffc8"/>
<rect x="522" y="285" width="7" height="7" fill="#14ffe2"/>
<rect x="529" y="285" width="30" height="7" fill="#2fffc8"/>
<rect x="559" y="285" width="8" height="7" fill="#86ff70"/>
<rect x="567" y="285" width="7" height="7" fill="#00d7ff"/>
<rect x="574" y="285" width="8" height="7" fill="#0000e3"/>
<rect x="582" y="285" width="7" height="7" fill="#0063ff"/>
<rect x="589" y="285" width="8" height="7" fill="#000080"/>
<rect x="116" y="292" width="15" height="8" fill="#000080"/>
<rect x="131" y="292" width="15" height="8" fill="#00d7ff"/>
<rect x="146" y="292" width="8" height="8" fill="#14ffe2"/>
<rect x="154" y="292" width="7" height="8" fill="#00d7ff"/>
<rect x="161" y="292" width="8" height="8" fill="#000080"/>
<rect x="169" y="292" width="7" height="8" fill="#00b4ff"/>
<rect x="176" y="292" width="8" height="8" fill="#56ffa1"/>
<rect x="184" y="292" width="15" height="8" fill="#008cff"/>
<rect x="199" y="292" width="15" height="8" fill="#0033ff"/>
<rect x="214" y="292" width="15" height="8" fill="#0000e3"/>
<rect x="229" y="292" width="7" height="8" fill="#0033ff"/>
<rect x="236" y="292" width="8" height="8" fill="#000080"/>
<rect x="244" y="292" width="7" height="8" fill="#0000e3"/>
<rect x="251" y="292" width="8" height="8" fill="#000080"/>
<rect x="259" y="292" width="7" height="8" fill="#0000e3"/>
<rect x="266" y="292" width="8" height="8" fill="#00d7ff"/>
<rect x="274" y="292" width="7" height="8" fill="#000080"/>
<rect x="281" y="292" width="8" height="8" fill="#56ffa1"/>
<rect x="289" y="292" width="7" height="8" fill="#14ffe2"/>
<rect x="296" y="292" width="23" height="8" fill="#000080"/>
<rect x="319" y="292" width="15" height="8" fill="#14ffe2"/>
<rect x="334" y="292" width="8" height="8" fill="#00d7ff"/>
<rect x="342" y="292" width="7" height="8" fill="#000080"/>
<rect x="349" y="292" width="15" height="8" fill="#b5ff42"/>
<rect x="364" y="292" width="8" height="8" fill="#008cff"/>
<rect x="372" y="292" width="15" height="8" fill="#2fffc8"/>
<rect x="387" y="292" width="15" height="8" fill="#56ffa1"/>
<rect x="402" y="292" width="7" height="8" fill="#2fffc8"/>
<rect x="409" y="292" width="8" height="8" fill="#56ffa1"/>
<rect x="417" y="292" width="7" height="8" fill="#0063ff"/>
<rect x="424" y="292" width="8" height="8" fill="#00d7ff"/>
<rect x="432" y="292" width="60" height="8" fill="#000080"/>
<rect x="492" y="292" width="7" height="8" fill="#86ff70"/>
<rect x="499" y="292" width="8" height="8" fill="#2fffc8"/>
<rect x="507" y="292" width="7" height="8" fill="#86ff70"/>
<rect x="514" y="292" width="8" height="8" fill="#2fffc8"/>
<rect x="522" y="292" width="7" height="8" fill="#14ffe2"/>
<rect x="529" y="292" width="8" height="8" fill="#2fffc8"/>
<rect x="537" y="292" width="7" height="8" fill="#86ff70"/>
<rect x="544" y="292" width="8" height="8" fill="#2fffc8"/>
<rect x="552" y="292" width="7" height="8" fill="#000080"/>
<rect x="559" y="292" width="8" height="8" fill="#86ff70"/>
<rect x="567" y="292" width="7" height="8" fill="#0000e3"/>
<rect x="574" y="292" width="8" height="8" fill="#00d7ff"/>
<rect x="582" y="292" width="15" height="8" fill="#000080"/>
<rect x="116" y="300" width="8" height="7" fill="#14ffe2"/>
<rect x="124" y="300" width="7" height="7" fill="#008cff"/>
<rect x="131" y="300" width="15" height="7" fill="#0063ff"/>
<rect x="146" y="300" width="8" height="7" fill="#2fffc8"/>
<rect x="154" y="300" width="7" height="7" fill="#000080"/>
<rect x="161" y="300" width="8" height="7" fill="#008cff"/>
<rect x="169" y="300" width="7" height="7" fill="#14ffe2"/>
<rect x="176" y="300" width="8" height="7" fill="#000080"/>
<rect x="184" y="300" width="7" height="7" fill="#0063ff"/>
<rect x="191" y="300" width="8" height="7" fill="#00d7ff"/>
<rect x="199" y="300" width="7" height="7" fill="#b5ff42"/>
<rect x="206" y="300" width="8" height="7" fill="#00d7ff"/>
<rect x="214" y="300" width="7" height="7" fill="#2fffc8"/>
<rect x="221" y="300" width="15" height="7" fill="#86ff70"/>
<rect x="236" y="300" width="8" height="7" fill="#56ffa1"/>
<rect x="244" y="300" width="7" height="7" fill="#008cff"/>
<rect x="251" y="300" width="8" height="7" fill="#2fffc8"/>
<rect x="259" y="300" width="15" height="7" fill="#14ffe2"/>
<rect x="274" y="300" width="7" height="7" fill="#b5ff42"/>
<rect x="281" y="300" width="8" height="7" fill="#000080"/>
<rect x="289" y="300" width="7" height="7" fill="#2fffc8"/>
<rect x="296" y="300" width="8" height="7" fill="#00b4ff"/>
<rect x="304" y="300" width="7" height="7" fill="#14ffe2"/>
<rect x="311" y="300" width="8" height="7" fill="#b5ff42"/>
<rect x="319" y="300" width="15" height="7" fill="#2fffc8"/>
<rect x="334" y="300" width="8" height="7" fill="#14ffe2"/>
<rect x="342" y="300" width="7" height="7" fill="#00d7ff"/>
<rect x="349" y="300" width="8" height="7" fill="#14ffe2"/>
<rect x="357" y="300" width="7" height="7" fill="#2fffc8"/>
<rect x="364" y="300" width="8" height="7" fill="#00b4ff"/>
<rect x="372" y="300" width="22" height="7" fill="#0063ff"/>
<rect x="394" y="300" width="8" height="7" fill="#14ffe2"/>
<rect x="402" y="300" width="7" height="7" fill="#000080"/>
<rect x="409" y="300" width="8" height="7" fill="#b5ff42"/>
<rect x="417" y="300" width="7" height="7" fill="#2fffc8"/>
<rect x="424" y="300" width="8" height="7" fill="#00d7ff"/>
<rect x="432" y="300" width="15" height="7" fill="#2fffc8"/>
<rect x="447" y="300" width="7" height="7" fill="#000080"/>
<rect x="454" y="300" width="8" height="7" fill="#2fffc8"/>
<rect x="462" y="300" width="15" height="7" fill="#56ffa1"/>
<rect x="477" y="300" width="7" height="7" fill="#0063ff"/>
<rect x="484" y="300" width="8" height="7" fill="#ff9800"/>
<rect x="492" y="300" width="7" height="7" fill="#0000e3"/>
<rect x="499" y="300" width="8" height="7" fill="#86ff70"/>
<rect x="507" y="300" width="7" height="7" fill="#00d7ff"/>
<rect x="514" y="300" width="8" height="7" fill="#00b4ff"/>
<rect x="522" y="300" width="7" height="7" fill="#14ffe2"/>
<rect x="529" y="300" width="8" height="7" fill="#56ffa1"/>
<rect x="537" y="300" width="7" height="7" fill="#2fffc8"/>
<rect x="544" y="300" width="15" height="7" fill="#86ff70"/>
<rect x="559" y="300" width="8" height="7" fill="#14ffe2"/>
<rect x="567" y="300" width="7" height="7" fill="#86ff70"/>
<rect x="574" y="300" width="8" height="7" fill="#2fffc8"/>
<rect x="582" y="300" width="7" height="7" fill="#b5ff42"/>
<rect x="589" y="300" width="8" height="7" fill="#86ff70"/>
<rect x="116" y="307" width="8" height="8" fill="#14ffe2"/>
<rect x="124" y="307" width="7" height="8" fill="#0063ff"/>
<rect x="131" y="307" width="8" height="8" fill="#0000e3"/>
<rect x="139" y="307" width="7" height="8" fill="#0063ff"/>
<rect x="146" y="307" width="8" height="8" fill="#0033ff"/>
<rect x="154" y="307" width="7" height="8" fill="#0063ff"/>
<rect x="161" y="307" width="8" height="8" fill="#b5ff42"/>
<rect x="169" y="307" width="7" height="8" fill="#0063ff"/>
<rect x="176" y="307" width="8" height="8" fill="#0000e3"/>
<rect x="184" y="307" width="7" height="8" fill="#0033ff"/>
<rect x="191" y="307" width="8" height="8" fill="#00d7ff"/>
<rect x="199" y="307" width="7" height="8" fill="#2fffc8"/>
<rect x="206" y="307" width="8" height="8" fill="#56ffa1"/>
<rect x="214" y="307" width="7" height="8" fill="#2fffc8"/>
<rect x="221" y="307" width="23" height="8" fill="#56ffa1"/>
<rect x="244" y="307" width="7" height="8" fill="#0063ff"/>
<rect x="251" y="307" width="8" height="8" fill="#00d7ff"/>
<rect x="259" y="307" width="7" height="8" fill="#00b4ff"/>
<rect x="266" y="307" width="8" height="8" fill="#00d7ff"/>
<rect x="274" y="307" width="7" height="8" fill="#2fffc8"/>
<rect x="281" y="307" width="8" height="8" fill="#56ffa1"/>
<rect x="289" y="307" width="7" height="8" fill="#00d7ff"/>
<rect x="296" y="307" width="15" height="8" fill="#14ffe2"/>
<rect x="311" y="307" width="15" height="8" fill="#2fffc8"/>
<rect x="326" y="307" width="8" height="8" fill="#14ffe2"/>
<rect x="334" y="307" width="8" height="8" fill="#2fffc8"/>
<rect x="342" y="307" width="7" height="8" fill="#56ffa1"/>
<rect x="349" y="307" width="8" height="8" fill="#2fffc8"/>
<rect x="357" y="307" width="15" height="8" fill="#0033ff"/>
<rect x="372" y="307" width="7" height="8" fill="#008cff"/>
<rect x="379" y="307" width="8" height="8" fill="#0033ff"/>
<rect x="387" y="307" width="7" height="8" fill="#00d7ff"/>
<rect x="394" y="307" width="8" height="8" fill="#000080"/>
<rect x="402" y="307" width="7" height="8" fill="#e4ff13"/>
<rect x="409" y="307" width="8" height="8" fill="#00b4ff"/>
<rect x="417" y="307" width="7" height="8" fill="#14ffe2"/>
<rect x="424" y="307" width="8" height="8" fill="#2fffc8"/>
<rect x="432" y="307" width="15" height="8" fill="#14ffe2"/>
<rect x="447" y="307" width="7" height="8" fill="#56ffa1"/>
<rect x="454" y="307" width="8" height="8" fill="#2fffc8"/>
<rect x="462" y="307" width="7" height="8" fill="#56ffa1"/>
<rect x="469" y="307" width="8" height="8" fill="#86ff70"/>
<rect x="477" y="307" width="7" height="8" fill="#008cff"/>
<rect x="484" y="307" width="8" height="8" fill="#0033ff"/>
<rect x="492" y="307" width="22" height="8" fill="#0000e3"/>
<rect x="514" y="307" width="8" height="8" fill="#14ffe2"/>
<rect x="522" y="307" width="15" height="8" fill="#2fffc8"/>
<rect x="537" y="307" width="7" height="8" fill="#008cff"/>
<rect x="544" y="307" width="23" height="8" fill="#2fffc8"/>
<rect x="567" y="307" width="7" height="8" fill="#14ffe2"/>
<rect x="574" y="307" width="15" height="8" fill="#56ffa1"/>
<rect x="589" y="307" width="8" height="8" fill="#2fffc8"/>
<rect x="116" y="315" width="8" height="7" fill="#2fffc8"/>
<rect x="124" y="315" width="7" height="7" fill="#0063ff"/>
<rect x="131" y="315" width="8" height="7" fill="#14ffe2"/>
<rect x="139" y="315" width="7" height="7" fill="#00b4ff"/>
<rect x="146" y="315" width="8" height="7" fill="#0000e3"/>
<rect x="154" y="315" width="7" height="7" fill="#0063ff"/>
<rect x="161" y="315" width="8" height="7" fill="#0033ff"/>
<rect x="169" y="315" width="7" height="7" fill="#00b4ff"/>
<rect x="176" y="315" width="8" height="7" fill="#0063ff"/>
<rect x="184" y="315" width="7" height="7" fill="#56ffa1"/>
<rect x="191" y="315" width="15" height="7" fill="#2fffc8"/>
<rect x="206" y="315" width="8" height="7" fill="#00d7ff"/>
<rect x="214" y="315" width="7" height="7" fill="#2fffc8"/>
<rect x="221" y="315" width="8" height="7" fill="#14ffe2"/>
<rect x="229" y="315" width="7" height="7" fill="#2fffc8"/>
<rect x="236" y="315" width="8" height="7" fill="#56ffa1"/>
<rect x="244" y="315" width="7" height="7" fill="#00b4ff"/>
<rect x="251" y="315" width="8" height="7" fill="#86ff70"/>
<rect x="259" y="315" width="7" height="7" fill="#14ffe2"/>
<rect x="266" y="315" width="8" height="7" fill="#2fffc8"/>
<rect x="274" y="315" width="7" height="7" fill="#56ffa1"/>
<rect x="281" y="315" width="8" height="7" fill="#2fffc8"/>
<rect x="289" y="315" width="15" height="7" fill="#14ffe2"/>
<rect x="304" y="315" width="7" height="7" fill="#2fffc8"/>
<rect x="311" y="315" width="8" height="7" fill="#14ffe2"/>
<rect x="319" y="315" width="7" height="7" fill="#2fffc8"/>
<rect x="326" y="315" width="8" height="7" fill="#14ffe2"/>
<rect x="334" y="315" width="8" height="7" fill="#2fffc8"/>
<rect x="342" y="315" width="7" height="7" fill="#14ffe2"/>
<rect x="349" y="315" width="8" height="7" fill="#2fffc8"/>
<rect x="357" y="315" width="7" height="7" fill="#56ffa1"/>
<rect x="364" y="315" width="8" height="7" fill="#008cff"/>
<rect x="372" y="315" width="15" height="7" fill="#0033ff"/>
<rect x="387" y="315" width="7" height="7" fill="#2fffc8"/>
<rect x="394" y="315" width="8" height="7" fill="#000080"/>
<rect x="402" y="315" width="7" height="7" fill="#14ffe2"/>
<rect x="409" y="315" width="15" height="7" fill="#2fffc8"/>
<rect x="424" y="315" width="23" height="7" fill="#14ffe2"/>
<rect x="447" y="315" width="15" height="7" fill="#2fffc8"/>
<rect x="462" y="315" width="7" height="7" fill="#56ffa1"/>
<rect x="469" y="315" width="8" height="7" fill="#86ff70"/>
<rect x="477" y="315" width="7" height="7" fill="#56ffa1"/>
<rect x="484" y="315" width="8" height="7" fill="#0033ff"/>
<rect x="492" y="315" width="7" height="7" fill="#0063ff"/>
<rect x="499" y="315" width="8" height="7" fill="#0000e3"/>
<rect x="507" y="315" width="7" height="7" fill="#008cff"/>
<rect x="514" y="315" width="8" height="7" fill="#b5ff42"/>
<rect x="522" y="315" width="15" height="7" fill="#2fffc8"/>
<rect x="537" y="315" width="7" height="7" fill="#56ffa1"/>
<rect x="544" y="315" width="8" height="7" fill="#14ffe2"/>
<rect x="552" y="315" width="22" height="7" fill="#2fffc8"/>
<rect x="574" y="315" width="8" height="7" fill="#56ffa1"/>
<rect x="582" y="315" width="7" height="7" fill="#14ffe2"/>
<rect x="589" y="315" width="8" height="7" fill="#b5ff42"/>
<rect x="116" y="322" width="8" height="8" fill="#56ffa1"/>
<rect x="124" y="322" width="7" height="8" fill="#0000e3"/>
<rect x="131" y="322" width="8" height="8" fill="#008cff"/>
<rect x="139" y="322" width="7" height="8" fill="#ff3b00"/>
<rect x="146" y="322" width="8" height="8" fill="#b5ff42"/>
<rect x="154" y="322" width="7" height="8" fill="#0000e3"/>
<rect x="161" y="322" width="8" height="8" fill="#2fffc8"/>
<rect x="169" y="322" width="7" height="8" fill="#14ffe2"/>
<rect x="176" y="322" width="8" height="8" fill="#00b4ff"/>
<rect x="184" y="322" width="7" height="8" fill="#2fffc8"/>
<rect x="191" y="322" width="8" height="8" fill="#00d7ff"/>
<rect x="199" y="322" width="15" height="8" fill="#2fffc8"/>
<rect x="214" y="322" width="7" height="8" fill="#000080"/>
<rect x="221" y="322" width="8" height="8" fill="#14ffe2"/>
<rect x="229" y="322" width="7" height="8" fill="#b5ff42"/>
<rect x="236" y="322" width="8" height="8" fill="#56ffa1"/>
<rect x="244" y="322" width="7" height="8" fill="#00d7ff"/>
<rect x="251" y="322" width="30" height="8" fill="#2fffc8"/>
<rect x="281" y="322" width="8" height="8" fill="#14ffe2"/>
<rect x="289" y="322" width="15" height="8" fill="#00d7ff"/>
<rect x="304" y="322" width="7" height="8" fill="#008cff"/>
<rect x="311" y="322" width="8" height="8" fill="#56ffa1"/>
<rect x="319" y="322" width="7" height="8" fill="#00d7ff"/>
<rect x="326" y="322" width="8" height="8" fill="#2fffc8"/>
<rect x="334" y="322" width="8" height="8" fill="#000080"/>
<rect x="342" y="322" width="7" height="8" fill="#2fffc8"/>
<rect x="349" y="322" width="8" height="8" fill="#00b4ff"/>
<rect x="357" y="322" width="7" height="8" fill="#86ff70"/>
<rect x="364" y="322" width="8" height="8" fill="#008cff"/>
<rect x="372" y="322" width="7" height="8" fill="#0033ff"/>
<rect x="379" y="322" width="8" height="8" fill="#0000e3"/>
<rect x="387" y="322" width="7" height="8" fill="#b5ff42"/>
<rect x="394" y="322" width="8" height="8" fill="#56ffa1"/>
<rect x="402" y="322" width="7" height="8" fill="#2fffc8"/>
<rect x="409" y="322" width="15" height="8" fill="#00d7ff"/>
<rect x="424" y="322" width="23" height="8" fill="#14ffe2"/>
<rect x="447" y="322" width="7" height="8" fill="#2fffc8"/>
<rect x="454" y="322" width="8" height="8" fill="#000080"/>
<rect x="462" y="322" width="7" height="8" fill="#56ffa1"/>
<rect x="469" y="322" width="15" height="8" fill="#86ff70"/>
<rect x="484" y="322" width="23" height="8" fill="#0033ff"/>
<rect x="507" y="322" width="7" height="8" fill="#86ff70"/>
<rect x="514" y="322" width="30" height="8" fill="#2fffc8"/>
<rect x="544" y="322" width="15" height="8" fill="#14ffe2"/>
<rect x="559" y="322" width="15" height="8" fill="#2fffc8"/>
<rect x="574" y="322" width="8" height="8" fill="#000080"/>
<rect x="582" y="322" width="7" height="8" fill="#14ffe2"/>
<rect x="589" y="322" width="8" height="8" fill="#86ff70"/>
<rect x="116" y="330" width="8" height="7" fill="#2fffc8"/>
<rect x="124" y="330" width="15" height="7" fill="#0033ff"/>
<rect x="139" y="330" width="7" height="7" fill="#14ffe2"/>
<rect x="146" y="330" width="15" height="7" fill="#2fffc8"/>
<rect x="161" y="330" width="8" height="7" fill="#56ffa1"/>
<rect x="169" y="330" width="7" height="7" fill="#00d7ff"/>
<rect x="176" y="330" width="8" height="7" fill="#56ffa1"/>
<rect x="184" y="330" width="7" height="7" fill="#14ffe2"/>
<rect x="191" y="330" width="8" height="7" fill="#56ffa1"/>
<rect x="199" y="330" width="15" height="7" fill="#2fffc8"/>
<rect x="214" y="330" width="7" height="7" fill="#00d7ff"/>
<rect x="221" y="330" width="8" height="7" fill="#2fffc8"/>
<rect x="229" y="330" width="7" height="7" fill="#00b4ff"/>
<rect x="236" y="330" width="8" height="7" fill="#2fffc8"/>
<rect x="244" y="330" width="7" height="7" fill="#14ffe2"/>
<rect x="251" y="330" width="15" height="7" fill="#00d7ff"/>
<rect x="266" y="330" width="15" height="7" fill="#14ffe2"/>
<rect x="281" y="330" width="8" height="7" fill="#2fffc8"/>
<rect x="289" y="330" width="7" height="7" fill="#14ffe2"/>
<rect x="296" y="330" width="8" height="7" fill="#2fffc8"/>
<rect x="304" y="330" width="7" height="7" fill="#00d7ff"/>
<rect x="311" y="330" width="8" height="7" fill="#2fffc8"/>
<rect x="319" y="330" width="7" height="7" fill="#14ffe2"/>
<rect x="326" y="330" width="8" height="7" fill="#56ffa1"/>
<rect x="334" y="330" width="8" height="7" fill="#2fffc8"/>
<rect x="342" y="330" width="7" height="7" fill="#00d7ff"/>
<rect x="349" y="330" width="8" height="7" fill="#2fffc8"/>
<rect x="357" y="330" width="7" height="7" fill="#000080"/>
<rect x="364" y="330" width="8" height="7" fill="#008cff"/>
<rect x="372" y="330" width="7" height="7" fill="#0033ff"/>
<rect x="379" y="330" width="8" height="7" fill="#14ffe2"/>
<rect x="387" y="330" width="7" height="7" fill="#000080"/>
<rect x="394" y="330" width="8" height="7" fill="#86ff70"/>
<rect x="402" y="330" width="7" height="7" fill="#2fffc8"/>
<rect x="409" y="330" width="8" height="7" fill="#14ffe2"/>
<rect x="417" y="330" width="7" height="7" fill="#00b4ff"/>
<rect x="424" y="330" width="8" height="7" fill="#14ffe2"/>
<rect x="432" y="330" width="7" height="7" fill="#2fffc8"/>
<rect x="439" y="330" width="8" height="7" fill="#14ffe2"/>
<rect x="447" y="330" width="7" height="7" fill="#2fffc8"/>
<rect x="454" y="330" width="8" height="7" fill="#86ff70"/>
<rect x="462" y="330" width="15" height="7" fill="#56ffa1"/>
<rect x="477" y="330" width="7" height="7" fill="#008cff"/>
<rect x="484" y="330" width="8" height="7" fill="#0033ff"/>
<rect x="492" y="330" width="7" height="7" fill="#0063ff"/>
<rect x="499" y="330" width="8" height="7" fill="#2fffc8"/>
<rect x="507" y="330" width="7" height="7" fill="#56ffa1"/>
<rect x="514" y="330" width="15" height="7" fill="#2fffc8"/>
<rect x="529" y="330" width="8" height="7" fill="#14ffe2"/>
<rect x="537" y="330" width="52" height="7" fill="#2fffc8"/>
<rect x="589" y="330" width="8" height="7" fill="#56ffa1"/>
<rect x="116" y="337" width="8" height="8" fill="#56ffa1"/>
<rect x="124" y="337" width="15" height="8" fill="#008cff"/>
<rect x="139" y="337" width="15" height="8" fill="#0000e3"/>
<rect x="154" y="337" width="15" height="8" fill="#2fffc8"/>
<rect x="169" y="337" width="7" height="8" fill="#00b4ff"/>
<rect x="176" y="337" width="8" height="8" fill="#14ffe2"/>
<rect x="184" y="337" width="7" height="8" fill="#2fffc8"/>
<rect x="191" y="337" width="15" height="8" fill="#00d7ff"/>
<rect x="206" y="337" width="8" height="8" fill="#2fffc8"/>
<rect x="214" y="337" width="22" height="8" fill="#56ffa1"/>
<rect x="236" y="337" width="8" height="8" fill="#b5ff42"/>
<rect x="244" y="337" width="7" height="8" fill="#14ffe2"/>
<rect x="251" y="337" width="15" height="8" fill="#00d7ff"/>
<rect x="266" y="337" width="8" height="8" fill="#00b4ff"/>
<rect x="274" y="337" width="30" height="8" fill="#2fffc8"/>
<rect x="304" y="337" width="7" height="8" fill="#00b4ff"/>
<rect x="311" y="337" width="8" height="8" fill="#56ffa1"/>
<rect x="319" y="337" width="30" height="8" fill="#2fffc8"/>
<rect x="349" y="337" width="8" height="8" fill="#e4ff13"/>
<rect x="357" y="337" width="7" height="8" fill="#b5ff42"/>
<rect x="364" y="337" width="8" height="8" fill="#00b4ff"/>
<rect x="372" y="337" width="7" height="8" fill="#000080"/>
<rect x="379" y="337" width="8" height="8" fill="#008cff"/>
<rect x="387" y="337" width="15" height="8" fill="#56ffa1"/>
<rect x="402" y="337" width="15" height="8" fill="#2fffc8"/>
<rect x="417" y="337" width="7" height="8" fill="#14ffe2"/>
<rect x="424" y="337" width="15" height="8" fill="#2fffc8"/>
<rect x="439" y="337" width="8" height="8" fill="#14ffe2"/>
<rect x="447" y="337" width="15" height="8" fill="#00d7ff"/>
<rect x="462" y="337" width="7" height="8" fill="#2fffc8"/>
<rect x="469" y="337" width="8" height="8" fill="#56ffa1"/>
<rect x="477" y="337" width="7" height="8" fill="#ffd100"/>
<rect x="484" y="337" width="15" height="8" fill="#0033ff"/>
<rect x="499" y="337" width="8" height="8" fill="#86ff70"/>
<rect x="507" y="337" width="7" height="8" fill="#2fffc8"/>
<rect x="514" y="337" width="8" height="8" fill="#56ffa1"/>
<rect x="522" y="337" width="22" height="8" fill="#2fffc8"/>
<rect x="544" y="337" width="15" height="8" fill="#00d7ff"/>
<rect x="559" y="337" width="23" height="8" fill="#2fffc8"/>
<rect x="582" y="337" width="7" height="8" fill="#86ff70"/>
<rect x="589" y="337" width="8" height="8" fill="#000080"/>
<rect x="116" y="345" width="8" height="7" fill="#86ff70"/>
<rect x="124" y="345" width="7" height="7" fill="#0063ff"/>
<rect x="131" y="345" width="8" height="7" fill="#008cff"/>
<rect x="139" y="345" width="7" height="7" fill="#00b4ff"/>
<rect x="146" y="345" width="8" height="7" fill="#0000e3"/>
<rect x="154" y="345" width="7" height="7" fill="#86ff70"/>
<rect x="161" y="345" width="8" height="7" fill="#2fffc8"/>
<rect x="169" y="345" width="15" height="7" fill="#56ffa1"/>
<rect x="184" y="345" width="30" height="7" fill="#2fffc8"/>
<rect x="214" y="345" width="30" height="7" fill="#56ffa1"/>
<rect x="244" y="345" width="7" height="7" fill="#14ffe2"/>
<rect x="251" y="345" width="30" height="7" fill="#2fffc8"/>
<rect x="281" y="345" width="8" height="7" fill="#14ffe2"/>
<rect x="289" y="345" width="7" height="7" fill="#2fffc8"/>
<rect x="296" y="345" width="8" height="7" fill="#000080"/>
<rect x="304" y="345" width="7" height="7" fill="#86ff70"/>
<rect x="311" y="345" width="23" height="7" fill="#2fffc8"/>
<rect x="334" y="345" width="8" height="7" fill="#14ffe2"/>
<rect x="342" y="345" width="7" height="7" fill="#00b4ff"/>
<rect x="349" y="345" width="8" height="7" fill="#14ffe2"/>
<rect x="357" y="345" width="7" height="7" fill="#000080"/>
<rect x="364" y="345" width="8" height="7" fill="#008cff"/>
<rect x="372" y="345" width="7" height="7" fill="#00d7ff"/>
<rect x="379" y="345" width="8" height="7" fill="#0033ff"/>
<rect x="387" y="345" width="22" height="7" fill="#2fffc8"/>
<rect x="409" y="345" width="15" height="7" fill="#00b4ff"/>
<rect x="424" y="345" width="8" height="7" fill="#2fffc8"/>
<rect x="432" y="345" width="7" height="7" fill="#86ff70"/>
<rect x="439" y="345" width="8" height="7" fill="#2fffc8"/>
<rect x="447" y="345" width="7" height="7" fill="#14ffe2"/>
<rect x="454" y="345" width="15" height="7" fill="#2fffc8"/>
<rect x="469" y="345" width="8" height="7" fill="#56ffa1"/>
<rect x="477" y="345" width="7" height="7" fill="#00d7ff"/>
<rect x="484" y="345" width="8" height="7" fill="#0063ff"/>
<rect x="492" y="345" width="7" height="7" fill="#008cff"/>
<rect x="499" y="345" width="8" height="7" fill="#56ffa1"/>
<rect x="507" y="345" width="15" height="7" fill="#14ffe2"/>
<rect x="522" y="345" width="7" height="7" fill="#2fffc8"/>
<rect x="529" y="345" width="8" height="7" fill="#56ffa1"/>
<rect x="537" y="345" width="15" height="7" fill="#2fffc8"/>
<rect x="552" y="345" width="7" height="7" fill="#56ffa1"/>
<rect x="559" y="345" width="15" height="7" fill="#2fffc8"/>
<rect x="574" y="345" width="15" height="7" fill="#56ffa1"/>
<rect x="589" y="345" width="8" height="7" fill="#86ff70"/>
<rect x="116" y="352" width="8" height="8" fill="#56ffa1"/>
<rect x="124" y="352" width="7" height="8" fill="#0033ff"/>
<rect x="131" y="352" width="8" height="8" fill="#00d7ff"/>
<rect x="139" y="352" width="7" height="8" fill="#2fffc8"/>
<rect x="146" y="352" width="8" height="8" fill="#0063ff"/>
<rect x="154" y="352" width="7" height="8" fill="#2fffc8"/>
<rect x="161" y="352" width="15" height="8" fill="#14ffe2"/>
<rect x="176" y="352" width="8" height="8" fill="#00d7ff"/>
<rect x="184" y="352" width="7" height="8" fill="#00b4ff"/>
<rect x="191" y="352" width="30" height="8" fill="#2fffc8"/>
<rect x="221" y="352" width="8" height="8" fill="#56ffa1"/>
<rect x="229" y="352" width="7" height="8" fill="#2fffc8"/>
<rect x="236" y="352" width="8" height="8" fill="#56ffa1"/>
<rect x="244" y="352" width="15" height="8" fill="#2fffc8"/>
<rect x="259" y="352" width="7" height="8" fill="#14ffe2"/>
<rect x="266" y="352" width="8" height="8" fill="#56ffa1"/>
<rect x="274" y="352" width="7" height="8" fill="#14ffe2"/>
<rect x="281" y="352" width="8" height="8" fill="#2fffc8"/>
<rect x="289" y="352" width="7" height="8" fill="#00b4ff"/>
<rect x="296" y="352" width="8" height="8" fill="#008cff"/>
<rect x="304" y="352" width="7" height="8" fill="#00b4ff"/>
<rect x="311" y="352" width="8" height="8" fill="#2fffc8"/>
<rect x="319" y="352" width="30" height="8" fill="#008cff"/>
<rect x="349" y="352" width="8" height="8" fill="#86ff70"/>
<rect x="357" y="352" width="7" height="8" fill="#000080"/>
<rect x="364" y="352" width="15" height="8" fill="#0063ff"/>
<rect x="379" y="352" width="8" height="8" fill="#0033ff"/>
<rect x="387" y="352" width="7" height="8" fill="#56ffa1"/>
<rect x="394" y="352" width="15" height="8" fill="#2fffc8"/>
<rect x="409" y="352" width="8" height="8" fill="#008cff"/>
<rect x="417" y="352" width="52" height="8" fill="#2fffc8"/>
<rect x="469" y="352" width="15" height="8" fill="#56ffa1"/>
<rect x="484" y="352" width="8" height="8" fill="#0063ff"/>
<rect x="492" y="352" width="7" height="8" fill="#00d7ff"/>
<rect x="499" y="352" width="15" height="8" fill="#2fffc8"/>
<rect x="514" y="352" width="8" height="8" fill="#56ffa1"/>
<rect x="522" y="352" width="15" height="8" fill="#2fffc8"/>
<rect x="537" y="352" width="7" height="8" fill="#00d7ff"/>
<rect x="544" y="352" width="15" height="8" fill="#2fffc8"/>
<rect x="559" y="352" width="8" height="8" fill="#14ffe2"/>
<rect x="567" y="352" width="7" height="8" fill="#2fffc8"/>
<rect x="574" y="352" width="8" height="8" fill="#56ffa1"/>
<rect x="582" y="352" width="7" height="8" fill="#2fffc8"/>
<rect x="589" y="352" width="8" height="8" fill="#b5ff42"/>
<rect x="116" y="360" width="8" height="7" fill="#2fffc8"/>
<rect x="124" y="360" width="7" height="7" fill="#0033ff"/>
<rect x="131" y="360" width="8" height="7" fill="#0063ff"/>
<rect x="139" y="360" width="15" height="7" fill="#008cff"/>
<rect x="154" y="360" width="7" height="7" fill="#14ffe2"/>
<rect x="161" y="360" width="8" height="7" fill="#00d7ff"/>
<rect x="169" y="360" width="7" height="7" fill="#14ffe2"/>
<rect x="176" y="360" width="8" height="7" fill="#00d7ff"/>
<rect x="184" y="360" width="22" height="7" fill="#14ffe2"/>
<rect x="206" y="360" width="8" height="7" fill="#2fffc8"/>
<rect x="214" y="360" width="7" height="7" fill="#14ffe2"/>
<rect x="221" y="360" width="15" height="7" fill="#2fffc8"/>
<rect x="236" y="360" width="8" height="7" fill="#56ffa1"/>
<rect x="244" y="360" width="7" height="7" fill="#00d7ff"/>
<rect x="251" y="360" width="15" height="7" fill="#14ffe2"/>
<rect x="266" y="360" width="8" height="7" fill="#2fffc8"/>
<rect x="274" y="360" width="7" height="7" fill="#56ffa1"/>
<rect x="281" y="360" width="15" height="7" fill="#2fffc8"/>
<rect x="296" y="360" width="8" height="7" fill="#00d7ff"/>
<rect x="304" y="360" width="7" height="7" fill="#14ffe2"/>
<rect x="311" y="360" width="23" height="7" fill="#2fffc8"/>
<rect x="334" y="360" width="8" height="7" fill="#86ff70"/>
<rect x="342" y="360" width="7" height="7" fill="#00d7ff"/>
<rect x="349" y="360" width="8" height="7" fill="#56ffa1"/>
<rect x="357" y="360" width="7" height="7" fill="#2fffc8"/>
<rect x="364" y="360" width="8" height="7" fill="#0063ff"/>
<rect x="372" y="360" width="7" height="7" fill="#0033ff"/>
<rect x="379" y="360" width="8" height="7" fill="#14ffe2"/>
<rect x="387" y="360" width="7" height="7" fill="#2fffc8"/>
<rect x="394" y="360" width="15" height="7" fill="#14ffe2"/>
<rect x="409" y="360" width="8" height="7" fill="#2fffc8"/>
<rect x="417" y="360" width="15" height="7" fill="#14ffe2"/>
<rect x="432" y="360" width="7" height="7" fill="#00d7ff"/>
<rect x="439" y="360" width="8" height="7" fill="#14ffe2"/>
<rect x="447" y="360" width="7" height="7" fill="#2fffc8"/>
<rect x="454" y="360" width="8" height="7" fill="#56ffa1"/>
<rect x="462" y="360" width="7" height="7" fill="#008cff"/>
<rect x="469" y="360" width="8" height="7" fill="#e4ff13"/>
<rect x="477" y="360" width="7" height="7" fill="#56ffa1"/>
<rect x="484" y="360" width="8" height="7" fill="#0000e3"/>
<rect x="492" y="360" width="7" height="7" fill="#14ffe2"/>
<rect x="499" y="360" width="8" height="7" fill="#2fffc8"/>
<rect x="507" y="360" width="7" height="7" fill="#14ffe2"/>
<rect x="514" y="360" width="23" height="7" fill="#2fffc8"/>
<rect x="537" y="360" width="7" height="7" fill="#14ffe2"/>
<rect x="544" y="360" width="23" height="7" fill="#2fffc8"/>
<rect x="567" y="360" width="7" height="7" fill="#00d7ff"/>
<rect x="574" y="360" width="8" height="7" fill="#2fffc8"/>
<rect x="582" y="360" width="7" height="7" fill="#14ffe2"/>
<rect x="589" y="360" width="8" height="7" fill="#86ff70"/>
<rect x="116" y="367" width="8" height="8" fill="#e4ff13"/>
<rect x="124" y="367" width="7" height="8" fill="#008cff"/>
<rect x="131" y="367" width="8" height="8" fill="#00b4ff"/>
<rect x="139" y="367" width="7" height="8" fill="#00d7ff"/>
<rect x="146" y="367" width="8" height="8" fill="#2fffc8"/>
<rect x="154" y="367" width="7" height="8" fill="#14ffe2"/>
<rect x="161" y="367" width="8" height="8" fill="#00d7ff"/>
<rect x="169" y="367" width="7" height="8" fill="#2fffc8"/>
<rect x="176" y="367" width="8" height="8" fill="#14ffe2"/>
<rect x="184" y="367" width="7" height="8" fill="#00d7ff"/>
<rect x="191" y="367" width="8" height="8" fill="#14ffe2"/>
<rect x="199" y="367" width="37" height="8" fill="#2fffc8"/>
<rect x="236" y="367" width="8" height="8" fill="#86ff70"/>
<rect x="244" y="367" width="7" height="8" fill="#14ffe2"/>
<rect x="251" y="367" width="8" height="8" fill="#2fffc8"/>
<rect x="259" y="367" width="7" height="8" fill="#00d7ff"/>
<rect x="266" y="367" width="8" height="8" fill="#14ffe2"/>
<rect x="274" y="367" width="22" height="8" fill="#2fffc8"/>
<rect x="296" y="367" width="8" height="8" fill="#14ffe2"/>
<rect x="304" y="367" width="15" height="8" fill="#2fffc8"/>
<rect x="319" y="367" width="7" height="8" fill="#14ffe2"/>
<rect x="326" y="367" width="8" height="8" fill="#2fffc8"/>
<rect x="334" y="367" width="8" height="8" fill="#56ffa1"/>
<rect x="342" y="367" width="7" height="8" fill="#2fffc8"/>
<rect x="349" y="367" width="8" height="8" fill="#86ff70"/>
<rect x="357" y="367" width="7" height="8" fill="#56ffa1"/>
<rect x="364" y="367" width="15" height="8" fill="#0033ff"/>
<rect x="379" y="367" width="8" height="8" fill="#2fffc8"/>
<rect x="387" y="367" width="7" height="8" fill="#56ffa1"/>
<rect x="394" y="367" width="23" height="8" fill="#2fffc8"/>
<rect x="417" y="367" width="7" height="8" fill="#0063ff"/>
<rect x="424" y="367" width="15" height="8" fill="#2fffc8"/>
<rect x="439" y="367" width="8" height="8" fill="#14ffe2"/>
<rect x="447" y="367" width="7" height="8" fill="#2fffc8"/>
<rect x="454" y="367" width="8" height="8" fill="#00d7ff"/>
<rect x="462" y="367" width="7" height="8" fill="#0033ff"/>
<rect x="469" y="367" width="8" height="8" fill="#2fffc8"/>
<rect x="477" y="367" width="7" height="8" fill="#14ffe2"/>
<rect x="484" y="367" width="8" height="8" fill="#00b4ff"/>
<rect x="492" y="367" width="22" height="8" fill="#56ffa1"/>
<rect x="514" y="367" width="8" height="8" fill="#2fffc8"/>
<rect x="522" y="367" width="7" height="8" fill="#56ffa1"/>
<rect x="529" y="367" width="53" height="8" fill="#2fffc8"/>
<rect x="582" y="367" width="7" height="8" fill="#56ffa1"/>
<rect x="589" y="367" width="8" height="8" fill="#b5ff42"/>
<rect x="116" y="375" width="8" height="7" fill="#000080"/>
<rect x="124" y="375" width="7" height="7" fill="#00d7ff"/>
<rect x="131" y="375" width="8" height="7" fill="#00b4ff"/>
<rect x="139" y="375" width="7" height="7" fill="#14ffe2"/>
<rect x="146" y="375" width="8" height="7" fill="#2fffc8"/>
<rect x="154" y="375" width="15" height="7" fill="#56ffa1"/>
<rect x="169" y="375" width="7" height="7" fill="#2fffc8"/>
<rect x="176" y="375" width="8" height="7" fill="#14ffe2"/>
<rect x="184" y="375" width="15" height="7" fill="#2fffc8"/>
<rect x="199" y="375" width="7" height="7" fill="#14ffe2"/>
<rect x="206" y="375" width="8" height="7" fill="#00d7ff"/>
<rect x="214" y="375" width="7" height="7" fill="#2fffc8"/>
<rect x="221" y="375" width="23" height="7" fill="#56ffa1"/>
<rect x="244" y="375" width="7" height="7" fill="#14ffe2"/>
<rect x="251" y="375" width="8" height="7" fill="#00d7ff"/>
<rect x="259" y="375" width="7" height="7" fill="#2fffc8"/>
<rect x="266" y="375" width="8" height="7" fill="#56ffa1"/>
<rect x="274" y="375" width="7" height="7" fill="#2fffc8"/>
<rect x="281" y="375" width="8" height="7" fill="#86ff70"/>
<rect x="289" y="375" width="45" height="7" fill="#2fffc8"/>
<rect x="334" y="375" width="8" height="7" fill="#00b4ff"/>
<rect x="342" y="375" width="7" height="7" fill="#2fffc8"/>
<rect x="349" y="375" width="8" height="7" fill="#00d7ff"/>
<rect x="357" y="375" width="7" height="7" fill="#000080"/>
<rect x="364" y="375" width="8" height="7" fill="#0063ff"/>
<rect x="372" y="375" width="7" height="7" fill="#0033ff"/>
<rect x="379" y="375" width="8" height="7" fill="#56ffa1"/>
<rect x="387" y="375" width="7" height="7" fill="#2fffc8"/>
<rect x="394" y="375" width="15" height="7" fill="#14ffe2"/>
<rect x="409" y="375" width="8" height="7" fill="#2fffc8"/>
<rect x="417" y="375" width="7" height="7" fill="#00d7ff"/>
<rect x="424" y="375" width="8" height="7" fill="#2fffc8"/>
<rect x="432" y="375" width="7" height="7" fill="#56ffa1"/>
<rect x="439" y="375" width="8" height="7" fill="#2fffc8"/>
<rect x="447" y="375" width="7" height="7" fill="#14ffe2"/>
<rect x="454" y="375" width="8" height="7" fill="#0063ff"/>
<rect x="462" y="375" width="7" height="7" fill="#0033ff"/>
<rect x="469" y="375" width="8" height="7" fill="#2fffc8"/>
<rect x="477" y="375" width="7" height="7" fill="#14ffe2"/>
<rect x="484" y="375" width="8" height="7" fill="#0063ff"/>
<rect x="492" y="375" width="7" height="7" fill="#56ffa1"/>
<rect x="499" y="375" width="15" height="7" fill="#2fffc8"/>
<rect x="514" y="375" width="8" height="7" fill="#14ffe2"/>
<rect x="522" y="375" width="22" height="7" fill="#2fffc8"/>
<rect x="544" y="375" width="8" height="7" fill="#14ffe2"/>
<rect x="552" y="375" width="30" height="7" fill="#2fffc8"/>
<rect x="582" y="375" width="7" height="7" fill="#86ff70"/>
<rect x="589" y="375" width="8" height="7" fill="#b5ff42"/>
<rect x="116" y="382" width="8" height="8" fill="#000080"/>
<rect x="124" y="382" width="7" height="8" fill="#14ffe2"/>
<rect x="131" y="382" width="8" height="8" fill="#00b4ff"/>
<rect x="139" y="382" width="22" height="8" fill="#2fffc8"/>
<rect x="161" y="382" width="15" height="8" fill="#14ffe2"/>
<rect x="176" y="382" width="8" height="8" fill="#2fffc8"/>
<rect x="184" y="382" width="15" height="8" fill="#14ffe2"/>
<rect x="199" y="382" width="7" height="8" fill="#2fffc8"/>
<rect x="206" y="382" width="8" height="8" fill="#14ffe2"/>
<rect x="214" y="382" width="15" height="8" fill="#2fffc8"/>
<rect x="229" y="382" width="7" height="8" fill="#86ff70"/>
<rect x="236" y="382" width="8" height="8" fill="#56ffa1"/>
<rect x="244" y="382" width="15" height="8" fill="#00d7ff"/>
<rect x="259" y="382" width="15" height="8" fill="#008cff"/>
<rect x="274" y="382" width="7" height="8" fill="#00d7ff"/>
<rect x="281" y="382" width="30" height="8" fill="#14ffe2"/>
<rect x="311" y="382" width="15" height="8" fill="#2fffc8"/>
<rect x="326" y="382" width="8" height="8" fill="#00d7ff"/>
<rect x="334" y="382" width="8" height="8" fill="#56ffa1"/>
<rect x="342" y="382" width="7" height="8" fill="#00b4ff"/>
<rect x="349" y="382" width="8" height="8" fill="#86ff70"/>
<rect x="357" y="382" width="7" height="8" fill="#000080"/>
<rect x="364" y="382" width="8" height="8" fill="#0033ff"/>
<rect x="372" y="382" width="7" height="8" fill="#0063ff"/>
<rect x="379" y="382" width="8" height="8" fill="#b5ff42"/>
<rect x="387" y="382" width="30" height="8" fill="#2fffc8"/>
<rect x="417" y="382" width="7" height="8" fill="#00d7ff"/>
<rect x="424" y="382" width="30" height="8" fill="#2fffc8"/>
<rect x="454" y="382" width="8" height="8" fill="#0063ff"/>
<rect x="462" y="382" width="7" height="8" fill="#56ffa1"/>
<rect x="469" y="382" width="8" height="8" fill="#000080"/>
<rect x="477" y="382" width="7" height="8" fill="#e4ff13"/>
<rect x="484" y="382" width="8" height="8" fill="#00b4ff"/>
<rect x="492" y="382" width="15" height="8" fill="#56ffa1"/>
<rect x="507" y="382" width="7" height="8" fill="#2fffc8"/>
<rect x="514" y="382" width="8" height="8" fill="#56ffa1"/>
<rect x="522" y="382" width="7" height="8" fill="#2fffc8"/>
<rect x="529" y="382" width="8" height="8" fill="#00d7ff"/>
<rect x="537" y="382" width="7" height="8" fill="#2fffc8"/>
<rect x="544" y="382" width="8" height="8" fill="#14ffe2"/>
<rect x="552" y="382" width="15" height="8" fill="#2fffc8"/>
<rect x="567" y="382" width="7" height="8" fill="#56ffa1"/>
<rect x="574" y="382" width="15" height="8" fill="#2fffc8"/>
<rect x="589" y="382" width="8" height="8" fill="#e4ff13"/>
<rect x="116" y="390" width="8" height="7" fill="#000080"/>
<rect x="124" y="390" width="7" height="7" fill="#56ffa1"/>
<rect x="131" y="390" width="15" height="7" fill="#2fffc8"/>
<rect x="146" y="390" width="8" height="7" fill="#14ffe2"/>
<rect x="154" y="390" width="37" height="7" fill="#2fffc8"/>
<rect x="191" y="390" width="8" height="7" fill="#00d7ff"/>
<rect x="199" y="390" width="30" height="7" fill="#2fffc8"/>
<rect x="229" y="390" width="15" height="7" fill="#56ffa1"/>
<rect x="244" y="390" width="7" height="7" fill="#14ffe2"/>
<rect x="251" y="390" width="8" height="7" fill="#86ff70"/>
<rect x="259" y="390" width="22" height="7" fill="#2fffc8"/>
<rect x="281" y="390" width="8" height="7" fill="#14ffe2"/>
<rect x="289" y="390" width="22" height="7" fill="#2fffc8"/>
<rect x="311" y="390" width="8" height="7" fill="#14ffe2"/>
<rect x="319" y="390" width="7" height="7" fill="#2fffc8"/>
<rect x="326" y="390" width="8" height="7" fill="#56ffa1"/>
<rect x="334" y="390" width="8" height="7" fill="#2fffc8"/>
<rect x="342" y="390" width="7" height="7" fill="#14ffe2"/>
<rect x="349" y="390" width="8" height="7" fill="#0033ff"/>
<rect x="357" y="390" width="7" height="7" fill="#e4ff13"/>
<rect x="364" y="390" width="8" height="7" fill="#0000e3"/>
<rect x="372" y="390" width="7" height="7" fill="#14ffe2"/>
<rect x="379" y="390" width="8" height="7" fill="#56ffa1"/>
<rect x="387" y="390" width="22" height="7" fill="#2fffc8"/>
<rect x="409" y="390" width="15" height="7" fill="#14ffe2"/>
<rect x="424" y="390" width="23" height="7" fill="#2fffc8"/>
<rect x="447" y="390" width="7" height="7" fill="#b5ff42"/>
<rect x="454" y="390" width="8" height="7" fill="#0063ff"/>
<rect x="462" y="390" width="7" height="7" fill="#14ffe2"/>
<rect x="469" y="390" width="8" height="7" fill="#56ffa1"/>
<rect x="477" y="390" width="7" height="7" fill="#000080"/>
<rect x="484" y="390" width="15" height="7" fill="#56ffa1"/>
<rect x="499" y="390" width="8" height="7" fill="#2fffc8"/>
<rect x="507" y="390" width="7" height="7" fill="#14ffe2"/>
<rect x="514" y="390" width="75" height="7" fill="#2fffc8"/>
<rect x="589" y="390" width="8" height="7" fill="#86ff70"/>
<rect x="116" y="397" width="8" height="8" fill="#000080"/>
<rect x="124" y="397" width="7" height="8" fill="#56ffa1"/>
<rect x="131" y="397" width="23" height="8" fill="#2fffc8"/>
<rect x="154" y="397" width="7" height="8" fill="#14ffe2"/>
<rect x="161" y="397" width="23" height="8" fill="#2fffc8"/>
<rect x="184" y="397" width="7" height="8" fill="#14ffe2"/>
<rect x="191" y="397" width="8" height="8" fill="#2fffc8"/>
<rect x="199" y="397" width="7" height="8" fill="#14ffe2"/>
<rect x="206" y="397" width="8" height="8" fill="#2fffc8"/>
<rect x="214" y="397" width="15" height="8" fill="#14ffe2"/>
<rect x="229" y="397" width="7" height="8" fill="#2fffc8"/>
<rect x="236" y="397" width="8" height="8" fill="#000080"/>
<rect x="244" y="397" width="15" height="8" fill="#14ffe2"/>
<rect x="259" y="397" width="7" height="8" fill="#00d7ff"/>
<rect x="266" y="397" width="23" height="8" fill="#2fffc8"/>
<rect x="289" y="397" width="7" height="8" fill="#14ffe2"/>
<rect x="296" y="397" width="8" height="8" fill="#00b4ff"/>
<rect x="304" y="397" width="22" height="8" fill="#2fffc8"/>
<rect x="326" y="397" width="8" height="8" fill="#86ff70"/>
<rect x="334" y="397" width="8" height="8" fill="#b5ff42"/>
<rect x="342" y="397" width="15" height="8" fill="#0033ff"/>
<rect x="357" y="397" width="7" height="8" fill="#14ffe2"/>
<rect x="364" y="397" width="8" height="8" fill="#0033ff"/>
<rect x="372" y="397" width="7" height="8" fill="#86ff70"/>
<rect x="379" y="397" width="8" height="8" fill="#56ffa1"/>
<rect x="387" y="397" width="7" height="8" fill="#2fffc8"/>
<rect x="394" y="397" width="8" height="8" fill="#14ffe2"/>
<rect x="402" y="397" width="15" height="8" fill="#2fffc8"/>
<rect x="417" y="397" width="7" height="8" fill="#14ffe2"/>
<rect x="424" y="397" width="23" height="8" fill="#2fffc8"/>
<rect x="447" y="397" width="7" height="8" fill="#0033ff"/>
<rect x="454" y="397" width="8" height="8" fill="#0063ff"/>
<rect x="462" y="397" width="7" height="8" fill="#0033ff"/>
<rect x="469" y="397" width="8" height="8" fill="#0063ff"/>
<rect x="477" y="397" width="7" height="8" fill="#14ffe2"/>
<rect x="484" y="397" width="8" height="8" fill="#00d7ff"/>
<rect x="492" y="397" width="7" height="8" fill="#2fffc8"/>
<rect x="499" y="397" width="8" height="8" fill="#56ffa1"/>
<rect x="507" y="397" width="7" height="8" fill="#86ff70"/>
<rect x="514" y="397" width="8" height="8" fill="#2fffc8"/>
<rect x="522" y="397" width="7" height="8" fill="#56ffa1"/>
<rect x="529" y="397" width="15" height="8" fill="#2fffc8"/>
<rect x="544" y="397" width="8" height="8" fill="#56ffa1"/>
<rect x="552" y="397" width="15" height="8" fill="#2fffc8"/>
<rect x="567" y="397" width="15" height="8" fill="#56ffa1"/>
<rect x="582" y="397" width="7" height="8" fill="#86ff70"/>
<rect x="589" y="397" width="8" height="8" fill="#b5ff42"/>
<rect x="116" y="405" width="8" height="7" fill="#000080"/>
<rect x="124" y="405" width="7" height="7" fill="#b5ff42"/>
<rect x="131" y="405" width="15" height="7" fill="#56ffa1"/>
<rect x="146" y="405" width="15" height="7" fill="#2fffc8"/>
<rect x="161" y="405" width="8" height="7" fill="#56ffa1"/>
<rect x="169" y="405" width="7" height="7" fill="#86ff70"/>
<rect x="176" y="405" width="8" height="7" fill="#00b4ff"/>
<rect x="184" y="405" width="15" height="7" fill="#00d7ff"/>
<rect x="199" y="405" width="7" height="7" fill="#2fffc8"/>
<rect x="206" y="405" width="8" height="7" fill="#14ffe2"/>
<rect x="214" y="405" width="15" height="7" fill="#2fffc8"/>
<rect x="229" y="405" width="15" height="7" fill="#56ffa1"/>
<rect x="244" y="405" width="7" height="7" fill="#2fffc8"/>
<rect x="251" y="405" width="8" height="7" fill="#14ffe2"/>
<rect x="259" y="405" width="7" height="7" fill="#00d7ff"/>
<rect x="266" y="405" width="8" height="7" fill="#14ffe2"/>
<rect x="274" y="405" width="15" height="7" fill="#56ffa1"/>
<rect x="289" y="405" width="22" height="7" fill="#2fffc8"/>
<rect x="311" y="405" width="15" height="7" fill="#56ffa1"/>
<rect x="326" y="405" width="8" height="7" fill="#2fffc8"/>
<rect x="334" y="405" width="15" height="7" fill="#0063ff"/>
<rect x="349" y="405" width="8" height="7" fill="#008cff"/>
<rect x="357" y="405" width="7" height="7" fill="#00d7ff"/>
<rect x="364" y="405" width="8" height="7" fill="#0063ff"/>
<rect x="372" y="405" width="15" height="7" fill="#56ffa1"/>
<rect x="387" y="405" width="15" height="7" fill="#2fffc8"/>
<rect x="402" y="405" width="7" height="7" fill="#56ffa1"/>
<rect x="409" y="405" width="15" height="7" fill="#2fffc8"/>
<rect x="424" y="405" width="8" height="7" fill="#0033ff"/>
<rect x="432" y="405" width="15" height="7" fill="#0063ff"/>
<rect x="447" y="405" width="7" height="7" fill="#0033ff"/>
<rect x="454" y="405" width="23" height="7" fill="#0063ff"/>
<rect x="477" y="405" width="7" height="7" fill="#00b4ff"/>
<rect x="484" y="405" width="8" height="7" fill="#00d7ff"/>
<rect x="492" y="405" width="45" height="7" fill="#2fffc8"/>
<rect x="537" y="405" width="7" height="7" fill="#56ffa1"/>
<rect x="544" y="405" width="8" height="7" fill="#2fffc8"/>
<rect x="552" y="405" width="7" height="7" fill="#00d7ff"/>
<rect x="559" y="405" width="15" height="7" fill="#2fffc8"/>
<rect x="574" y="405" width="8" height="7" fill="#56ffa1"/>
<rect x="582" y="405" width="7" height="7" fill="#86ff70"/>
<rect x="589" y="405" width="8" height="7" fill="#b5ff42"/>
<rect x="116" y="412" width="15" height="8" fill="#000080"/>
<rect x="131" y="412" width="8" height="8" fill="#14ffe2"/>
<rect x="139" y="412" width="7" height="8" fill="#2fffc8"/>
<rect x="146" y="412" width="8" height="8" fill="#14ffe2"/>
<rect x="154" y="412" width="7" height="8" fill="#2fffc8"/>
<rect x="161" y="412" width="8" height="8" fill="#b5ff42"/>
<rect x="169" y="412" width="7" height="8" fill="#00d7ff"/>
<rect x="176" y="412" width="8" height="8" fill="#56ffa1"/>
<rect x="184" y="412" width="7" height="8" fill="#00b4ff"/>
<rect x="191" y="412" width="8" height="8" fill="#00d7ff"/>
<rect x="199" y="412" width="7" height="8" fill="#2fffc8"/>
<rect x="206" y="412" width="8" height="8" fill="#14ffe2"/>
<rect x="214" y="412" width="15" height="8" fill="#2fffc8"/>
<rect x="229" y="412" width="7" height="8" fill="#56ffa1"/>
<rect x="236" y="412" width="8" height="8" fill="#86ff70"/>
<rect x="244" y="412" width="15" height="8" fill="#e4ff13"/>
<rect x="259" y="412" width="7" height="8" fill="#2fffc8"/>
<rect x="266" y="412" width="8" height="8" fill="#00d7ff"/>
<rect x="274" y="412" width="7" height="8" fill="#86ff70"/>
<rect x="281" y="412" width="8" height="8" fill="#2fffc8"/>
<rect x="289" y="412" width="7" height="8" fill="#86ff70"/>
<rect x="296" y="412" width="8" height="8" fill="#56ffa1"/>
<rect x="304" y="412" width="7" height="8" fill="#86ff70"/>
<rect x="311" y="412" width="8" height="8" fill="#e4ff13"/>
<rect x="319" y="412" width="7" height="8" fill="#00b4ff"/>
<rect x="326" y="412" width="8" height="8" fill="#008cff"/>
<rect x="334" y="412" width="8" height="8" fill="#0063ff"/>
<rect x="342" y="412" width="7" height="8" fill="#0033ff"/>
<rect x="349" y="412" width="8" height="8" fill="#e4ff13"/>
<rect x="357" y="412" width="7" height="8" fill="#14ffe2"/>
<rect x="364" y="412" width="8" height="8" fill="#00d7ff"/>
<rect x="372" y="412" width="7" height="8" fill="#2fffc8"/>
<rect x="379" y="412" width="8" height="8" fill="#56ffa1"/>
<rect x="387" y="412" width="7" height="8" fill="#00d7ff"/>
<rect x="394" y="412" width="15" height="8" fill="#86ff70"/>
<rect x="409" y="412" width="8" height="8" fill="#2fffc8"/>
<rect x="417" y="412" width="7" height="8" fill="#14ffe2"/>
<rect x="424" y="412" width="8" height="8" fill="#2fffc8"/>
<rect x="432" y="412" width="7" height="8" fill="#000080"/>
<rect x="439" y="412" width="8" height="8" fill="#56ffa1"/>
<rect x="447" y="412" width="7" height="8" fill="#2fffc8"/>
<rect x="454" y="412" width="8" height="8" fill="#14ffe2"/>
<rect x="462" y="412" width="7" height="8" fill="#00b4ff"/>
<rect x="469" y="412" width="8" height="8" fill="#b5ff42"/>
<rect x="477" y="412" width="7" height="8" fill="#14ffe2"/>
<rect x="484" y="412" width="8" height="8" fill="#00b4ff"/>
<rect x="492" y="412" width="7" height="8" fill="#86ff70"/>
<rect x="499" y="412" width="8" height="8" fill="#56ffa1"/>
<rect x="507" y="412" width="7" height="8" fill="#2fffc8"/>
<rect x="514" y="412" width="8" height="8" fill="#86ff70"/>
<rect x="522" y="412" width="7" height="8" fill="#56ffa1"/>
<rect x="529" y="412" width="8" height="8" fill="#86ff70"/>
<rect x="537" y="412" width="7" height="8" fill="#56ffa1"/>
<rect x="544" y="412" width="8" height="8" fill="#2fffc8"/>
<rect x="552" y="412" width="7" height="8" fill="#56ffa1"/>
<rect x="559" y="412" width="8" height="8" fill="#2fffc8"/>
<rect x="567" y="412" width="7" height="8" fill="#56ffa1"/>
<rect x="574" y="412" width="15" height="8" fill="#86ff70"/>
<rect x="589" y="412" width="8" height="8" fill="#b5ff42"/>
<rect x="116" y="420" width="8" height="7" fill="#000080"/>
<rect x="124" y="420" width="15" height="7" fill="#00d7ff"/>
<rect x="139" y="420" width="30" height="7" fill="#000080"/>
<rect x="169" y="420" width="7" height="7" fill="#56ffa1"/>
<rect x="176" y="420" width="15" height="7" fill="#14ffe2"/>
<rect x="191" y="420" width="8" height="7" fill="#2fffc8"/>
<rect x="199" y="420" width="15" height="7" fill="#14ffe2"/>
<rect x="214" y="420" width="15" height="7" fill="#2fffc8"/>
<rect x="229" y="420" width="7" height="7" fill="#008cff"/>
<rect x="236" y="420" width="8" height="7" fill="#86ff70"/>
<rect x="244" y="420" width="7" height="7" fill="#e4ff13"/>
<rect x="251" y="420" width="8" height="7" fill="#2fffc8"/>
<rect x="259" y="420" width="7" height="7" fill="#56ffa1"/>
<rect x="266" y="420" width="8" height="7" fill="#2fffc8"/>
<rect x="274" y="420" width="7" height="7" fill="#008cff"/>
<rect x="281" y="420" width="23" height="7" fill="#2fffc8"/>
<rect x="304" y="420" width="7" height="7" fill="#e4ff13"/>
<rect x="311" y="420" width="15" height="7" fill="#14ffe2"/>
<rect x="326" y="420" width="8" height="7" fill="#2fffc8"/>
<rect x="334" y="420" width="8" height="7" fill="#008cff"/>
<rect x="342" y="420" width="15" height="7" fill="#14ffe2"/>
<rect x="357" y="420" width="15" height="7" fill="#2fffc8"/>
<rect x="372" y="420" width="7" height="7" fill="#00b4ff"/>
<rect x="379" y="420" width="15" height="7" fill="#56ffa1"/>
<rect x="394" y="420" width="8" height="7" fill="#14ffe2"/>
<rect x="402" y="420" width="15" height="7" fill="#2fffc8"/>
<rect x="417" y="420" width="7" height="7" fill="#56ffa1"/>
<rect x="424" y="420" width="8" height="7" fill="#00d7ff"/>
<rect x="432" y="420" width="7" height="7" fill="#000080"/>
<rect x="439" y="420" width="8" height="7" fill="#2fffc8"/>
<rect x="447" y="420" width="15" height="7" fill="#86ff70"/>
<rect x="462" y="420" width="7" height="7" fill="#e4ff13"/>
<rect x="469" y="420" width="8" height="7" fill="#00d7ff"/>
<rect x="477" y="420" width="7" height="7" fill="#000080"/>
<rect x="484" y="420" width="8" height="7" fill="#86ff70"/>
<rect x="492" y="420" width="15" height="7" fill="#2fffc8"/>
<rect x="507" y="420" width="22" height="7" fill="#14ffe2"/>
<rect x="529" y="420" width="8" height="7" fill="#2fffc8"/>
<rect x="537" y="420" width="7" height="7" fill="#14ffe2"/>
<rect x="544" y="420" width="8" height="7" fill="#b5ff42"/>
<rect x="552" y="420" width="7" height="7" fill="#86ff70"/>
<rect x="559" y="420" width="15" height="7" fill="#2fffc8"/>
<rect x="574" y="420" width="8" height="7" fill="#b5ff42"/>
<rect x="582" y="420" width="7" height="7" fill="#000080"/>
<rect x="589" y="420" width="8" height="7" fill="#e4ff13"/>
<rect x="116" y="427" width="15" height="8" fill="#000080"/>
<rect x="131" y="427" width="8" height="8" fill="#00b4ff"/>
<rect x="139" y="427" width="7" height="8" fill="#00d7ff"/>
<rect x="146" y="427" width="8" height="8" fill="#00b4ff"/>
<rect x="154" y="427" width="7" height="8" fill="#14ffe2"/>
<rect x="161" y="427" width="8" height="8" fill="#000080"/>
<rect x="169" y="427" width="7" height="8" fill="#2fffc8"/>
<rect x="176" y="427" width="8" height="8" fill="#00d7ff"/>
<rect x="184" y="427" width="7" height="8" fill="#14ffe2"/>
<rect x="191" y="427" width="45" height="8" fill="#2fffc8"/>
<rect x="236" y="427" width="8" height="8" fill="#86ff70"/>
<rect x="244" y="427" width="15" height="8" fill="#2fffc8"/>
<rect x="259" y="427" width="7" height="8" fill="#56ffa1"/>
<rect x="266" y="427" width="15" height="8" fill="#2fffc8"/>
<rect x="281" y="427" width="8" height="8" fill="#56ffa1"/>
<rect x="289" y="427" width="7" height="8" fill="#2fffc8"/>
<rect x="296" y="427" width="8" height="8" fill="#56ffa1"/>
<rect x="304" y="427" width="7" height="8" fill="#2fffc8"/>
<rect x="311" y="427" width="15" height="8" fill="#14ffe2"/>
<rect x="326" y="427" width="8" height="8" fill="#0063ff"/>
<rect x="334" y="427" width="15" height="8" fill="#0033ff"/>
<rect x="349" y="427" width="8" height="8" fill="#008cff"/>
<rect x="357" y="427" width="15" height="8" fill="#00d7ff"/>
<rect x="372" y="427" width="82" height="8" fill="#2fffc8"/>
<rect x="454" y="427" width="8" height="8" fill="#0063ff"/>
<rect x="462" y="427" width="7" height="8" fill="#0000e3"/>
<rect x="469" y="427" width="8" height="8" fill="#2fffc8"/>
<rect x="477" y="427" width="7" height="8" fill="#56ffa1"/>
<rect x="484" y="427" width="8" height="8" fill="#14ffe2"/>
<rect x="492" y="427" width="7" height="8" fill="#56ffa1"/>
<rect x="499" y="427" width="15" height="8" fill="#2fffc8"/>
<rect x="514" y="427" width="8" height="8" fill="#56ffa1"/>
<rect x="522" y="427" width="7" height="8" fill="#2fffc8"/>
<rect x="529" y="427" width="8" height="8" fill="#56ffa1"/>
<rect x="537" y="427" width="7" height="8" fill="#2fffc8"/>
<rect x="544" y="427" width="8" height="8" fill="#56ffa1"/>
<rect x="552" y="427" width="7" height="8" fill="#86ff70"/>
<rect x="559" y="427" width="8" height="8" fill="#2fffc8"/>
<rect x="567" y="427" width="7" height="8" fill="#14ffe2"/>
<rect x="574" y="427" width="15" height="8" fill="#56ffa1"/>
<rect x="589" y="427" width="8" height="8" fill="#b5ff42"/>
<rect x="116" y="435" width="8" height="7" fill="#000080"/>
<rect x="124" y="435" width="7" height="7" fill="#ffd100"/>
<rect x="131" y="435" width="8" height="7" fill="#0063ff"/>
<rect x="139" y="435" width="22" height="7" fill="#0033ff"/>
<rect x="161" y="435" width="8" height="7" fill="#14ffe2"/>
<rect x="169" y="435" width="7" height="7" fill="#2fffc8"/>
<rect x="176" y="435" width="8" height="7" fill="#14ffe2"/>
<rect x="184" y="435" width="7" height="7" fill="#2fffc8"/>
<rect x="191" y="435" width="8" height="7" fill="#00d7ff"/>
<rect x="199" y="435" width="7" height="7" fill="#86ff70"/>
<rect x="206" y="435" width="8" height="7" fill="#00d7ff"/>
<rect x="214" y="435" width="22" height="7" fill="#2fffc8"/>
<rect x="236" y="435" width="8" height="7" fill="#56ffa1"/>
<rect x="244" y="435" width="7" height="7" fill="#2fffc8"/>
<rect x="251" y="435" width="15" height="7" fill="#14ffe2"/>
<rect x="266" y="435" width="60" height="7" fill="#2fffc8"/>
<rect x="326" y="435" width="16" height="7" fill="#56ffa1"/>
<rect x="342" y="435" width="7" height="7" fill="#0063ff"/>
<rect x="349" y="435" width="8" height="7" fill="#2fffc8"/>
<rect x="357" y="435" width="7" height="7" fill="#86ff70"/>
<rect x="364" y="435" width="8" height="7" fill="#56ffa1"/>
<rect x="372" y="435" width="7" height="7" fill="#14ffe2"/>
<rect x="379" y="435" width="8" height="7" fill="#2fffc8"/>
<rect x="387" y="435" width="15" height="7" fill="#14ffe2"/>
<rect x="402" y="435" width="15" height="7" fill="#2fffc8"/>
<rect x="417" y="435" width="15" height="7" fill="#56ffa1"/>
<rect x="432" y="435" width="15" height="7" fill="#2fffc8"/>
<rect x="447" y="435" width="15" height="7" fill="#14ffe2"/>
<rect x="462" y="435" width="7" height="7" fill="#0063ff"/>
<rect x="469" y="435" width="8" height="7" fill="#56ffa1"/>
<rect x="477" y="435" width="7" height="7" fill="#86ff70"/>
<rect x="484" y="435" width="15" height="7" fill="#56ffa1"/>
<rect x="499" y="435" width="23" height="7" fill="#000080"/>
<rect x="522" y="435" width="15" height="7" fill="#56ffa1"/>
<rect x="537" y="435" width="30" height="7" fill="#2fffc8"/>
<rect x="567" y="435" width="22" height="7" fill="#56ffa1"/>
<rect x="589" y="435" width="8" height="7" fill="#86ff70"/>
<rect x="116" y="442" width="8" height="8" fill="#000080"/>
<rect x="124" y="442" width="7" height="8" fill="#00d7ff"/>
<rect x="131" y="442" width="8" height="8" fill="#0000e3"/>
<rect x="139" y="442" width="7" height="8" fill="#0033ff"/>
<rect x="146" y="442" width="8" height="8" fill="#0000e3"/>
<rect x="154" y="442" width="7" height="8" fill="#86ff70"/>
<rect x="161" y="442" width="8" height="8" fill="#2fffc8"/>
<rect x="169" y="442" width="7" height="8" fill="#00d7ff"/>
<rect x="176" y="442" width="8" height="8" fill="#2fffc8"/>
<rect x="184" y="442" width="7" height="8" fill="#14ffe2"/>
<rect x="191" y="442" width="15" height="8" fill="#2fffc8"/>
<rect x="206" y="442" width="8" height="8" fill="#86ff70"/>
<rect x="214" y="442" width="7" height="8" fill="#000080"/>
<rect x="221" y="442" width="15" height="8" fill="#2fffc8"/>
<rect x="236" y="442" width="8" height="8" fill="#86ff70"/>
<rect x="244" y="442" width="7" height="8" fill="#2fffc8"/>
<rect x="251" y="442" width="8" height="8" fill="#14ffe2"/>
<rect x="259" y="442" width="7" height="8" fill="#2fffc8"/>
<rect x="266" y="442" width="8" height="8" fill="#14ffe2"/>
<rect x="274" y="442" width="7" height="8" fill="#2fffc8"/>
<rect x="281" y="442" width="8" height="8" fill="#56ffa1"/>
<rect x="289" y="442" width="7" height="8" fill="#14ffe2"/>
<rect x="296" y="442" width="8" height="8" fill="#008cff"/>
<rect x="304" y="442" width="7" height="8" fill="#2fffc8"/>
<rect x="311" y="442" width="8" height="8" fill="#86ff70"/>
<rect x="319" y="442" width="15" height="8" fill="#2fffc8"/>
<rect x="334" y="442" width="8" height="8" fill="#000080"/>
<rect x="342" y="442" width="7" height="8" fill="#2fffc8"/>
<rect x="349" y="442" width="8" height="8" fill="#000080"/>
<rect x="357" y="442" width="7" height="8" fill="#86ff70"/>
<rect x="364" y="442" width="8" height="8" fill="#2fffc8"/>
<rect x="372" y="442" width="7" height="8" fill="#14ffe2"/>
<rect x="379" y="442" width="8" height="8" fill="#56ffa1"/>
<rect x="387" y="442" width="22" height="8" fill="#2fffc8"/>
<rect x="409" y="442" width="15" height="8" fill="#56ffa1"/>
<rect x="424" y="442" width="8" height="8" fill="#2fffc8"/>
<rect x="432" y="442" width="7" height="8" fill="#86ff70"/>
<rect x="439" y="442" width="8" height="8" fill="#14ffe2"/>
<rect x="447" y="442" width="7" height="8" fill="#2fffc8"/>
<rect x="454" y="442" width="8" height="8" fill="#000080"/>
<rect x="462" y="442" width="7" height="8" fill="#00b4ff"/>
<rect x="469" y="442" width="8" height="8" fill="#000080"/>
<rect x="477" y="442" width="7" height="8" fill="#b5ff42"/>
<rect x="484" y="442" width="8" height="8" fill="#56ffa1"/>
<rect x="492" y="442" width="30" height="8" fill="#000080"/>
<rect x="522" y="442" width="22" height="8" fill="#56ffa1"/>
<rect x="544" y="442" width="8" height="8" fill="#2fffc8"/>
<rect x="552" y="442" width="7" height="8" fill="#86ff70"/>
<rect x="559" y="442" width="8" height="8" fill="#56ffa1"/>
<rect x="567" y="442" width="7" height="8" fill="#14ffe2"/>
<rect x="574" y="442" width="8" height="8" fill="#000080"/>
<rect x="582" y="442" width="7" height="8" fill="#56ffa1"/>
<rect x="589" y="442" width="8" height="8" fill="#86ff70"/>
<rect x="116" y="450" width="8" height="7" fill="#000080"/>
<rect x="124" y="450" width="7" height="7" fill="#0063ff"/>
<rect x="131" y="450" width="8" height="7" fill="#0033ff"/>
<rect x="139" y="450" width="7" height="7" fill="#0000e3"/>
<rect x="146" y="450" width="8" height="7" fill="#86ff70"/>
<rect x="154" y="450" width="37" height="7" fill="#2fffc8"/>
<rect x="191" y="450" width="8" height="7" fill="#00b4ff"/>
<rect x="199" y="450" width="15" height="7" fill="#2fffc8"/>
<rect x="214" y="450" width="7" height="7" fill="#14ffe2"/>
<rect x="221" y="450" width="8" height="7" fill="#2fffc8"/>
<rect x="229" y="450" width="15" height="7" fill="#56ffa1"/>
<rect x="244" y="450" width="7" height="7" fill="#000080"/>
<rect x="251" y="450" width="8" height="7" fill="#56ffa1"/>
<rect x="259" y="450" width="7" height="7" fill="#86ff70"/>
<rect x="266" y="450" width="45" height="7" fill="#2fffc8"/>
<rect x="311" y="450" width="8" height="7" fill="#56ffa1"/>
<rect x="319" y="450" width="7" height="7" fill="#14ffe2"/>
<rect x="326" y="450" width="16" height="7" fill="#2fffc8"/>
<rect x="342" y="450" width="7" height="7" fill="#14ffe2"/>
<rect x="349" y="450" width="15" height="7" fill="#86ff70"/>
<rect x="364" y="450" width="8" height="7" fill="#56ffa1"/>
<rect x="372" y="450" width="7" height="7" fill="#14ffe2"/>
<rect x="379" y="450" width="30" height="7" fill="#2fffc8"/>
<rect x="409" y="450" width="8" height="7" fill="#00d7ff"/>
<rect x="417" y="450" width="15" height="7" fill="#2fffc8"/>
<rect x="432" y="450" width="15" height="7" fill="#56ffa1"/>
<rect x="447" y="450" width="15" height="7" fill="#2fffc8"/>
<rect x="462" y="450" width="7" height="7" fill="#0063ff"/>
<rect x="469" y="450" width="8" height="7" fill="#b5ff42"/>
<rect x="477" y="450" width="7" height="7" fill="#86ff70"/>
<rect x="484" y="450" width="8" height="7" fill="#008cff"/>
<rect x="492" y="450" width="7" height="7" fill="#56ffa1"/>
<rect x="499" y="450" width="15" height="7" fill="#000080"/>
<rect x="514" y="450" width="8" height="7" fill="#86ff70"/>
<rect x="522" y="450" width="15" height="7" fill="#56ffa1"/>
<rect x="537" y="450" width="7" height="7" fill="#2fffc8"/>
<rect x="544" y="450" width="8" height="7" fill="#00d7ff"/>
<rect x="552" y="450" width="22" height="7" fill="#56ffa1"/>
<rect x="574" y="450" width="8" height="7" fill="#86ff70"/>
<rect x="582" y="450" width="7" height="7" fill="#56ffa1"/>
<rect x="589" y="450" width="8" height="7" fill="#ffd100"/>
<rect x="116" y="457" width="8" height="8" fill="#000080"/>
<rect x="124" y="457" width="7" height="8" fill="#0000e3"/>
<rect x="131" y="457" width="15" height="8" fill="#0033ff"/>
<rect x="146" y="457" width="8" height="8" fill="#14ffe2"/>
<rect x="154" y="457" width="37" height="8" fill="#2fffc8"/>
<rect x="191" y="457" width="8" height="8" fill="#14ffe2"/>
<rect x="199" y="457" width="15" height="8" fill="#2fffc8"/>
<rect x="214" y="457" width="15" height="8" fill="#14ffe2"/>
<rect x="229" y="457" width="7" height="8" fill="#00d7ff"/>
<rect x="236" y="457" width="8" height="8" fill="#008cff"/>
<rect x="244" y="457" width="7" height="8" fill="#0000e3"/>
<rect x="251" y="457" width="8" height="8" fill="#2fffc8"/>
<rect x="259" y="457" width="7" height="8" fill="#56ffa1"/>
<rect x="266" y="457" width="30" height="8" fill="#2fffc8"/>
<rect x="296" y="457" width="8" height="8" fill="#00d7ff"/>
<rect x="304" y="457" width="45" height="8" fill="#2fffc8"/>
<rect x="349" y="457" width="8" height="8" fill="#14ffe2"/>
<rect x="357" y="457" width="7" height="8" fill="#86ff70"/>
<rect x="364" y="457" width="8" height="8" fill="#00d7ff"/>
<rect x="372" y="457" width="22" height="8" fill="#2fffc8"/>
<rect x="394" y="457" width="8" height="8" fill="#56ffa1"/>
<rect x="402" y="457" width="22" height="8" fill="#2fffc8"/>
<rect x="424" y="457" width="8" height="8" fill="#56ffa1"/>
<rect x="432" y="457" width="22" height="8" fill="#2fffc8"/>
<rect x="454" y="457" width="8" height="8" fill="#00b4ff"/>
<rect x="462" y="457" width="7" height="8" fill="#0033ff"/>
<rect x="469" y="457" width="8" height="8" fill="#56ffa1"/>
<rect x="477" y="457" width="7" height="8" fill="#86ff70"/>
<rect x="484" y="457" width="8" height="8" fill="#00d7ff"/>
<rect x="492" y="457" width="7" height="8" fill="#008cff"/>
<rect x="499" y="457" width="8" height="8" fill="#b5ff42"/>
<rect x="507" y="457" width="7" height="8" fill="#86ff70"/>
<rect x="514" y="457" width="15" height="8" fill="#56ffa1"/>
<rect x="529" y="457" width="23" height="8" fill="#2fffc8"/>
<rect x="552" y="457" width="22" height="8" fill="#56ffa1"/>
<rect x="574" y="457" width="8" height="8" fill="#2fffc8"/>
<rect x="582" y="457" width="7" height="8" fill="#56ffa1"/>
<rect x="589" y="457" width="8" height="8" fill="#86ff70"/>
<rect x="116" y="465" width="8" height="7" fill="#000080"/>
<rect x="124" y="465" width="7" height="7" fill="#14ffe2"/>
<rect x="131" y="465" width="8" height="7" fill="#00d7ff"/>
<rect x="139" y="465" width="7" height="7" fill="#0033ff"/>
<rect x="146" y="465" width="15" height="7" fill="#2fffc8"/>
<rect x="161" y="465" width="8" height="7" fill="#00d7ff"/>
<rect x="169" y="465" width="7" height="7" fill="#14ffe2"/>
<rect x="176" y="465" width="45" height="7" fill="#2fffc8"/>
<rect x="221" y="465" width="8" height="7" fill="#00d7ff"/>
<rect x="229" y="465" width="7" height="7" fill="#2fffc8"/>
<rect x="236" y="465" width="8" height="7" fill="#14ffe2"/>
<rect x="244" y="465" width="7" height="7" fill="#0033ff"/>
<rect x="251" y="465" width="8" height="7" fill="#00b4ff"/>
<rect x="259" y="465" width="7" height="7" fill="#2fffc8"/>
<rect x="266" y="465" width="8" height="7" fill="#56ffa1"/>
<rect x="274" y="465" width="7" height="7" fill="#2fffc8"/>
<rect x="281" y="465" width="8" height="7" fill="#56ffa1"/>
<rect x="289" y="465" width="7" height="7" fill="#14ffe2"/>
<rect x="296" y="465" width="8" height="7" fill="#2fffc8"/>
<rect x="304" y="465" width="7" height="7" fill="#56ffa1"/>
<rect x="311" y="465" width="23" height="7" fill="#86ff70"/>
<rect x="334" y="465" width="8" height="7" fill="#56ffa1"/>
<rect x="342" y="465" width="7" height="7" fill="#2fffc8"/>
<rect x="349" y="465" width="8" height="7" fill="#00b4ff"/>
<rect x="357" y="465" width="7" height="7" fill="#b5ff42"/>
<rect x="364" y="465" width="8" height="7" fill="#2fffc8"/>
<rect x="372" y="465" width="7" height="7" fill="#14ffe2"/>
<rect x="379" y="465" width="15" height="7" fill="#2fffc8"/>
<rect x="394" y="465" width="8" height="7" fill="#14ffe2"/>
<rect x="402" y="465" width="30" height="7" fill="#2fffc8"/>
<rect x="432" y="465" width="7" height="7" fill="#56ffa1"/>
<rect x="439" y="465" width="8" height="7" fill="#2fffc8"/>
<rect x="447" y="465" width="7" height="7" fill="#b5ff42"/>
<rect x="454" y="465" width="8" height="7" fill="#0063ff"/>
<rect x="462" y="465" width="7" height="7" fill="#0033ff"/>
<rect x="469" y="465" width="8" height="7" fill="#00d7ff"/>
<rect x="477" y="465" width="7" height="7" fill="#86ff70"/>
<rect x="484" y="465" width="8" height="7" fill="#00b4ff"/>
<rect x="492" y="465" width="7" height="7" fill="#000080"/>
<rect x="499" y="465" width="8" height="7" fill="#e4ff13"/>
<rect x="507" y="465" width="7" height="7" fill="#14ffe2"/>
<rect x="514" y="465" width="23" height="7" fill="#56ffa1"/>
<rect x="537" y="465" width="7" height="7" fill="#14ffe2"/>
<rect x="544" y="465" width="8" height="7" fill="#86ff70"/>
<rect x="552" y="465" width="7" height="7" fill="#2fffc8"/>
<rect x="559" y="465" width="8" height="7" fill="#56ffa1"/>
<rect x="567" y="465" width="7" height="7" fill="#2fffc8"/>
<rect x="574" y="465" width="15" height="7" fill="#56ffa1"/>
<rect x="589" y="465" width="8" height="7" fill="#b5ff42"/>
<rect x="116" y="472" width="8" height="8" fill="#000080"/>
<rect x="124" y="472" width="7" height="8" fill="#2fffc8"/>
<rect x="131" y="472" width="8" height="8" fill="#0063ff"/>
<rect x="139" y="472" width="7" height="8" fill="#00d7ff"/>
<rect x="146" y="472" width="15" height="8" fill="#14ffe2"/>
<rect x="161" y="472" width="8" height="8" fill="#2fffc8"/>
<rect x="169" y="472" width="7" height="8" fill="#008cff"/>
<rect x="176" y="472" width="8" height="8" fill="#2fffc8"/>
<rect x="184" y="472" width="7" height="8" fill="#86ff70"/>
<rect x="191" y="472" width="15" height="8" fill="#2fffc8"/>
<rect x="206" y="472" width="8" height="8" fill="#00d7ff"/>
<rect x="214" y="472" width="15" height="8" fill="#2fffc8"/>
<rect x="229" y="472" width="7" height="8" fill="#14ffe2"/>
<rect x="236" y="472" width="8" height="8" fill="#00d7ff"/>
<rect x="244" y="472" width="7" height="8" fill="#0033ff"/>
<rect x="251" y="472" width="8" height="8" fill="#14ffe2"/>
<rect x="259" y="472" width="7" height="8" fill="#2fffc8"/>
<rect x="266" y="472" width="8" height="8" fill="#56ffa1"/>
<rect x="274" y="472" width="30" height="8" fill="#2fffc8"/>
<rect x="304" y="472" width="7" height="8" fill="#00d7ff"/>
<rect x="311" y="472" width="8" height="8" fill="#56ffa1"/>
<rect x="319" y="472" width="7" height="8" fill="#14ffe2"/>
<rect x="326" y="472" width="8" height="8" fill="#2fffc8"/>
<rect x="334" y="472" width="8" height="8" fill="#14ffe2"/>
<rect x="342" y="472" width="7" height="8" fill="#2fffc8"/>
<rect x="349" y="472" width="8" height="8" fill="#000080"/>
<rect x="357" y="472" width="7" height="8" fill="#b5ff42"/>
<rect x="364" y="472" width="8" height="8" fill="#2fffc8"/>
<rect x="372" y="472" width="7" height="8" fill="#14ffe2"/>
<rect x="379" y="472" width="15" height="8" fill="#2fffc8"/>
<rect x="394" y="472" width="8" height="8" fill="#14ffe2"/>
<rect x="402" y="472" width="7" height="8" fill="#2fffc8"/>
<rect x="409" y="472" width="8" height="8" fill="#14ffe2"/>
<rect x="417" y="472" width="15" height="8" fill="#2fffc8"/>
<rect x="432" y="472" width="7" height="8" fill="#14ffe2"/>
<rect x="439" y="472" width="8" height="8" fill="#2fffc8"/>
<rect x="447" y="472" width="15" height="8" fill="#0063ff"/>
<rect x="462" y="472" width="7" height="8" fill="#0033ff"/>
<rect x="469" y="472" width="8" height="8" fill="#14ffe2"/>
<rect x="477" y="472" width="7" height="8" fill="#86ff70"/>
<rect x="484" y="472" width="8" height="8" fill="#00d7ff"/>
<rect x="492" y="472" width="7" height="8" fill="#0063ff"/>
<rect x="499" y="472" width="8" height="8" fill="#ffd100"/>
<rect x="507" y="472" width="7" height="8" fill="#56ffa1"/>
<rect x="514" y="472" width="8" height="8" fill="#14ffe2"/>
<rect x="522" y="472" width="7" height="8" fill="#56ffa1"/>
<rect x="529" y="472" width="8" height="8" fill="#00b4ff"/>
<rect x="537" y="472" width="7" height="8" fill="#00d7ff"/>
<rect x="544" y="472" width="8" height="8" fill="#2fffc8"/>
<rect x="552" y="472" width="7" height="8" fill="#56ffa1"/>
<rect x="559" y="472" width="8" height="8" fill="#00b4ff"/>
<rect x="567" y="472" width="22" height="8" fill="#56ffa1"/>
<rect x="589" y="472" width="8" height="8" fill="#b5ff42"/>
<rect x="116" y="480" width="8" height="7" fill="#000080"/>
<rect x="124" y="480" width="7" height="7" fill="#2fffc8"/>
<rect x="131" y="480" width="8" height="7" fill="#00d7ff"/>
<rect x="139" y="480" width="7" height="7" fill="#56ffa1"/>
<rect x="146" y="480" width="23" height="7" fill="#2fffc8"/>
<rect x="169" y="480" width="7" height="7" fill="#14ffe2"/>
<rect x="176" y="480" width="8" height="7" fill="#00b4ff"/>
<rect x="184" y="480" width="15" height="7" fill="#2fffc8"/>
<rect x="199" y="480" width="7" height="7" fill="#14ffe2"/>
<rect x="206" y="480" width="15" height="7" fill="#2fffc8"/>
<rect x="221" y="480" width="8" height="7" fill="#14ffe2"/>
<rect x="229" y="480" width="7" height="7" fill="#2fffc8"/>
<rect x="236" y="480" width="8" height="7" fill="#86ff70"/>
<rect x="244" y="480" width="7" height="7" fill="#0063ff"/>
<rect x="251" y="480" width="8" height="7" fill="#14ffe2"/>
<rect x="259" y="480" width="7" height="7" fill="#2fffc8"/>
<rect x="266" y="480" width="8" height="7" fill="#56ffa1"/>
<rect x="274" y="480" width="15" height="7" fill="#2fffc8"/>
<rect x="289" y="480" width="7" height="7" fill="#00b4ff"/>
<rect x="296" y="480" width="8" height="7" fill="#2fffc8"/>
<rect x="304" y="480" width="7" height="7" fill="#56ffa1"/>
<rect x="311" y="480" width="8" height="7" fill="#2fffc8"/>
<rect x="319" y="480" width="7" height="7" fill="#14ffe2"/>
<rect x="326" y="480" width="16" height="7" fill="#2fffc8"/>
<rect x="342" y="480" width="7" height="7" fill="#14ffe2"/>
<rect x="349" y="480" width="8" height="7" fill="#2fffc8"/>
<rect x="357" y="480" width="7" height="7" fill="#56ffa1"/>
<rect x="364" y="480" width="8" height="7" fill="#2fffc8"/>
<rect x="372" y="480" width="7" height="7" fill="#56ffa1"/>
<rect x="379" y="480" width="8" height="7" fill="#00d7ff"/>
<rect x="387" y="480" width="30" height="7" fill="#2fffc8"/>
<rect x="417" y="480" width="7" height="7" fill="#00b4ff"/>
<rect x="424" y="480" width="15" height="7" fill="#2fffc8"/>
<rect x="439" y="480" width="8" height="7" fill="#00b4ff"/>
<rect x="447" y="480" width="7" height="7" fill="#0063ff"/>
<rect x="454" y="480" width="8" height="7" fill="#0033ff"/>
<rect x="462" y="480" width="7" height="7" fill="#0000e3"/>
<rect x="469" y="480" width="8" height="7" fill="#008cff"/>
<rect x="477" y="480" width="7" height="7" fill="#86ff70"/>
<rect x="484" y="480" width="8" height="7" fill="#008cff"/>
<rect x="492" y="480" width="7" height="7" fill="#0033ff"/>
<rect x="499" y="480" width="8" height="7" fill="#e4ff13"/>
<rect x="507" y="480" width="15" height="7" fill="#56ffa1"/>
<rect x="522" y="480" width="15" height="7" fill="#2fffc8"/>
<rect x="537" y="480" width="22" height="7" fill="#14ffe2"/>
<rect x="559" y="480" width="15" height="7" fill="#00d7ff"/>
<rect x="574" y="480" width="8" height="7" fill="#14ffe2"/>
<rect x="582" y="480" width="7" height="7" fill="#56ffa1"/>
<rect x="589" y="480" width="8" height="7" fill="#b5ff42"/>
<rect x="116" y="487" width="8" height="8" fill="#000080"/>
<rect x="124" y="487" width="7" height="8" fill="#2fffc8"/>
<rect x="131" y="487" width="8" height="8" fill="#56ffa1"/>
<rect x="139" y="487" width="7" height="8" fill="#2fffc8"/>
<rect x="146" y="487" width="8" height="8" fill="#56ffa1"/>
<rect x="154" y="487" width="30" height="8" fill="#2fffc8"/>
<rect x="184" y="487" width="7" height="8" fill="#86ff70"/>
<rect x="191" y="487" width="38" height="8" fill="#2fffc8"/>
<rect x="229" y="487" width="7" height="8" fill="#56ffa1"/>
<rect x="236" y="487" width="8" height="8" fill="#00d7ff"/>
<rect x="244" y="487" width="7" height="8" fill="#0063ff"/>
<rect x="251" y="487" width="8" height="8" fill="#14ffe2"/>
<rect x="259" y="487" width="22" height="8" fill="#2fffc8"/>
<rect x="281" y="487" width="8" height="8" fill="#86ff70"/>
<rect x="289" y="487" width="7" height="8" fill="#56ffa1"/>
<rect x="296" y="487" width="8" height="8" fill="#2fffc8"/>
<rect x="304" y="487" width="7" height="8" fill="#56ffa1"/>
<rect x="311" y="487" width="8" height="8" fill="#2fffc8"/>
<rect x="319" y="487" width="7" height="8" fill="#56ffa1"/>
<rect x="326" y="487" width="16" height="8" fill="#2fffc8"/>
<rect x="342" y="487" width="7" height="8" fill="#56ffa1"/>
<rect x="349" y="487" width="8" height="8" fill="#86ff70"/>
<rect x="357" y="487" width="7" height="8" fill="#b5ff42"/>
<rect x="364" y="487" width="8" height="8" fill="#56ffa1"/>
<rect x="372" y="487" width="7" height="8" fill="#86ff70"/>
<rect x="379" y="487" width="23" height="8" fill="#2fffc8"/>
<rect x="402" y="487" width="7" height="8" fill="#56ffa1"/>
<rect x="409" y="487" width="15" height="8" fill="#2fffc8"/>
<rect x="424" y="487" width="8" height="8" fill="#56ffa1"/>
<rect x="432" y="487" width="7" height="8" fill="#2fffc8"/>
<rect x="439" y="487" width="8" height="8" fill="#56ffa1"/>
<rect x="447" y="487" width="7" height="8" fill="#2fffc8"/>
<rect x="454" y="487" width="8" height="8" fill="#00b4ff"/>
<rect x="462" y="487" width="7" height="8" fill="#0033ff"/>
<rect x="469" y="487" width="8" height="8" fill="#14ffe2"/>
<rect x="477" y="487" width="7" height="8" fill="#b5ff42"/>
<rect x="484" y="487" width="8" height="8" fill="#008cff"/>
<rect x="492" y="487" width="7" height="8" fill="#00b4ff"/>
<rect x="499" y="487" width="8" height="8" fill="#86ff70"/>
<rect x="507" y="487" width="7" height="8" fill="#56ffa1"/>
<rect x="514" y="487" width="30" height="8" fill="#2fffc8"/>
<rect x="544" y="487" width="8" height="8" fill="#86ff70"/>
<rect x="552" y="487" width="7" height="8" fill="#56ffa1"/>
<rect x="559" y="487" width="8" height="8" fill="#2fffc8"/>
<rect x="567" y="487" width="22" height="8" fill="#56ffa1"/>
<rect x="589" y="487" width="8" height="8" fill="#86ff70"/>
<rect x="116" y="495" width="8" height="7" fill="#000080"/>
<rect x="124" y="495" width="7" height="7" fill="#00d7ff"/>
<rect x="131" y="495" width="8" height="7" fill="#00b4ff"/>
<rect x="139" y="495" width="7" height="7" fill="#2fffc8"/>
<rect x="146" y="495" width="15" height="7" fill="#56ffa1"/>
<rect x="161" y="495" width="15" height="7" fill="#2fffc8"/>
<rect x="176" y="495" width="8" height="7" fill="#00b4ff"/>
<rect x="184" y="495" width="52" height="7" fill="#2fffc8"/>
<rect x="236" y="495" width="8" height="7" fill="#00d7ff"/>
<rect x="244" y="495" width="7" height="7" fill="#0063ff"/>
<rect x="251" y="495" width="8" height="7" fill="#14ffe2"/>
<rect x="259" y="495" width="7" height="7" fill="#56ffa1"/>
<rect x="266" y="495" width="15" height="7" fill="#2fffc8"/>
<rect x="281" y="495" width="8" height="7" fill="#56ffa1"/>
<rect x="289" y="495" width="7" height="7" fill="#86ff70"/>
<rect x="296" y="495" width="8" height="7" fill="#008cff"/>
<rect x="304" y="495" width="15" height="7" fill="#56ffa1"/>
<rect x="319" y="495" width="23" height="7" fill="#2fffc8"/>
<rect x="342" y="495" width="7" height="7" fill="#56ffa1"/>
<rect x="349" y="495" width="8" height="7" fill="#86ff70"/>
<rect x="357" y="495" width="7" height="7" fill="#b5ff42"/>
<rect x="364" y="495" width="8" height="7" fill="#56ffa1"/>
<rect x="372" y="495" width="15" height="7" fill="#2fffc8"/>
<rect x="387" y="495" width="7" height="7" fill="#56ffa1"/>
<rect x="394" y="495" width="23" height="7" fill="#2fffc8"/>
<rect x="417" y="495" width="7" height="7" fill="#56ffa1"/>
<rect x="424" y="495" width="8" height="7" fill="#2fffc8"/>
<rect x="432" y="495" width="22" height="7" fill="#56ffa1"/>
<rect x="454" y="495" width="8" height="7" fill="#008cff"/>
<rect x="462" y="495" width="7" height="7" fill="#0033ff"/>
<rect x="469" y="495" width="8" height="7" fill="#e4ff13"/>
<rect x="477" y="495" width="7" height="7" fill="#b5ff42"/>
<rect x="484" y="495" width="8" height="7" fill="#0063ff"/>
<rect x="492" y="495" width="7" height="7" fill="#14ffe2"/>
<rect x="499" y="495" width="15" height="7" fill="#56ffa1"/>
<rect x="514" y="495" width="8" height="7" fill="#2fffc8"/>
<rect x="522" y="495" width="7" height="7" fill="#14ffe2"/>
<rect x="529" y="495" width="8" height="7" fill="#2fffc8"/>
<rect x="537" y="495" width="7" height="7" fill="#56ffa1"/>
<rect x="544" y="495" width="15" height="7" fill="#86ff70"/>
<rect x="559" y="495" width="8" height="7" fill="#56ffa1"/>
<rect x="567" y="495" width="7" height="7" fill="#2fffc8"/>
<rect x="574" y="495" width="8" height="7" fill="#86ff70"/>
<rect x="582" y="495" width="7" height="7" fill="#2fffc8"/>
<rect x="589" y="495" width="8" height="7" fill="#e4ff13"/>
<rect x="116" y="502" width="8" height="8" fill="#000080"/>
<rect x="124" y="502" width="7" height="8" fill="#2fffc8"/>
<rect x="131" y="502" width="15" height="8" fill="#56ffa1"/>
<rect x="146" y="502" width="8" height="8" fill="#00d7ff"/>
<rect x="154" y="502" width="15" height="8" fill="#2fffc8"/>
<rect x="169" y="502" width="7" height="8" fill="#14ffe2"/>
<rect x="176" y="502" width="30" height="8" fill="#2fffc8"/>
<rect x="206" y="502" width="8" height="8" fill="#000080"/>
<rect x="214" y="502" width="22" height="8" fill="#2fffc8"/>
<rect x="236" y="502" width="8" height="8" fill="#00d7ff"/>
<rect x="244" y="502" width="7" height="8" fill="#0063ff"/>
<rect x="251" y="502" width="8" height="8" fill="#b5ff42"/>
<rect x="259" y="502" width="7" height="8" fill="#56ffa1"/>
<rect x="266" y="502" width="8" height="8" fill="#2fffc8"/>
<rect x="274" y="502" width="15" height="8" fill="#56ffa1"/>
<rect x="289" y="502" width="15" height="8" fill="#2fffc8"/>
<rect x="304" y="502" width="7" height="8" fill="#56ffa1"/>
<rect x="311" y="502" width="15" height="8" fill="#86ff70"/>
<rect x="326" y="502" width="16" height="8" fill="#2fffc8"/>
<rect x="342" y="502" width="7" height="8" fill="#56ffa1"/>
<rect x="349" y="502" width="8" height="8" fill="#14ffe2"/>
<rect x="357" y="502" width="7" height="8" fill="#b5ff42"/>
<rect x="364" y="502" width="15" height="8" fill="#56ffa1"/>
<rect x="379" y="502" width="8" height="8" fill="#000080"/>
<rect x="387" y="502" width="7" height="8" fill="#56ffa1"/>
<rect x="394" y="502" width="45" height="8" fill="#2fffc8"/>
<rect x="439" y="502" width="15" height="8" fill="#56ffa1"/>
<rect x="454" y="502" width="8" height="8" fill="#008cff"/>
<rect x="462" y="502" width="7" height="8" fill="#14ffe2"/>
<rect x="469" y="502" width="8" height="8" fill="#000080"/>
<rect x="477" y="502" width="7" height="8" fill="#86ff70"/>
<rect x="484" y="502" width="8" height="8" fill="#14ffe2"/>
<rect x="492" y="502" width="22" height="8" fill="#56ffa1"/>
<rect x="514" y="502" width="30" height="8" fill="#2fffc8"/>
<rect x="544" y="502" width="45" height="8" fill="#56ffa1"/>
<rect x="589" y="502" width="8" height="8" fill="#e4ff13"/>
<rect x="116" y="510" width="8" height="7" fill="#56ffa1"/>
<rect x="124" y="510" width="7" height="7" fill="#86ff70"/>
<rect x="131" y="510" width="8" height="7" fill="#56ffa1"/>
<rect x="139" y="510" width="15" height="7" fill="#2fffc8"/>
<rect x="154" y="510" width="7" height="7" fill="#14ffe2"/>
<rect x="161" y="510" width="30" height="7" fill="#2fffc8"/>
<rect x="191" y="510" width="8" height="7" fill="#56ffa1"/>
<rect x="199" y="510" width="7" height="7" fill="#2fffc8"/>
<rect x="206" y="510" width="23" height="7" fill="#56ffa1"/>
<rect x="229" y="510" width="15" height="7" fill="#2fffc8"/>
<rect x="244" y="510" width="7" height="7" fill="#008cff"/>
<rect x="251" y="510" width="8" height="7" fill="#86ff70"/>
<rect x="259" y="510" width="7" height="7" fill="#2fffc8"/>
<rect x="266" y="510" width="23" height="7" fill="#56ffa1"/>
<rect x="289" y="510" width="22" height="7" fill="#2fffc8"/>
<rect x="311" y="510" width="15" height="7" fill="#000080"/>
<rect x="326" y="510" width="8" height="7" fill="#2fffc8"/>
<rect x="334" y="510" width="23" height="7" fill="#56ffa1"/>
<rect x="357" y="510" width="7" height="7" fill="#e4ff13"/>
<rect x="364" y="510" width="8" height="7" fill="#56ffa1"/>
<rect x="372" y="510" width="7" height="7" fill="#2fffc8"/>
<rect x="379" y="510" width="15" height="7" fill="#56ffa1"/>
<rect x="394" y="510" width="30" height="7" fill="#2fffc8"/>
<rect x="424" y="510" width="8" height="7" fill="#86ff70"/>
<rect x="432" y="510" width="7" height="7" fill="#2fffc8"/>
<rect x="439" y="510" width="15" height="7" fill="#56ffa1"/>
<rect x="454" y="510" width="15" height="7" fill="#008cff"/>
<rect x="469" y="510" width="8" height="7" fill="#00d7ff"/>
<rect x="477" y="510" width="15" height="7" fill="#86ff70"/>
<rect x="492" y="510" width="15" height="7" fill="#56ffa1"/>
<rect x="507" y="510" width="15" height="7" fill="#2fffc8"/>
<rect x="522" y="510" width="7" height="7" fill="#00d7ff"/>
<rect x="529" y="510" width="15" height="7" fill="#56ffa1"/>
<rect x="544" y="510" width="8" height="7" fill="#86ff70"/>
<rect x="552" y="510" width="15" height="7" fill="#56ffa1"/>
<rect x="567" y="510" width="7" height="7" fill="#86ff70"/>
<rect x="574" y="510" width="15" height="7" fill="#56ffa1"/>
<rect x="589" y="510" width="8" height="7" fill="#e4ff13"/>
<rect x="116" y="517" width="8" height="8" fill="#000080"/>
<rect x="124" y="517" width="7" height="8" fill="#86ff70"/>
<rect x="131" y="517" width="8" height="8" fill="#2fffc8"/>
<rect x="139" y="517" width="7" height="8" fill="#56ffa1"/>
<rect x="146" y="517" width="30" height="8" fill="#2fffc8"/>
<rect x="176" y="517" width="8" height="8" fill="#14ffe2"/>
<rect x="184" y="517" width="7" height="8" fill="#2fffc8"/>
<rect x="191" y="517" width="8" height="8" fill="#b5ff42"/>
<rect x="199" y="517" width="7" height="8" fill="#2fffc8"/>
<rect x="206" y="517" width="8" height="8" fill="#86ff70"/>
<rect x="214" y="517" width="7" height="8" fill="#2fffc8"/>
<rect x="221" y="517" width="8" height="8" fill="#56ffa1"/>
<rect x="229" y="517" width="7" height="8" fill="#2fffc8"/>
<rect x="236" y="517" width="8" height="8" fill="#008cff"/>
<rect x="244" y="517" width="7" height="8" fill="#14ffe2"/>
<rect x="251" y="517" width="8" height="8" fill="#86ff70"/>
<rect x="259" y="517" width="7" height="8" fill="#56ffa1"/>
<rect x="266" y="517" width="8" height="8" fill="#2fffc8"/>
<rect x="274" y="517" width="7" height="8" fill="#86ff70"/>
<rect x="281" y="517" width="8" height="8" fill="#2fffc8"/>
<rect x="289" y="517" width="53" height="8" fill="#56ffa1"/>
<rect x="342" y="517" width="7" height="8" fill="#00b4ff"/>
<rect x="349" y="517" width="8" height="8" fill="#56ffa1"/>
<rect x="357" y="517" width="7" height="8" fill="#b5ff42"/>
<rect x="364" y="517" width="8" height="8" fill="#86ff70"/>
<rect x="372" y="517" width="7" height="8" fill="#56ffa1"/>
<rect x="379" y="517" width="8" height="8" fill="#86ff70"/>
<rect x="387" y="517" width="15" height="8" fill="#56ffa1"/>
<rect x="402" y="517" width="7" height="8" fill="#2fffc8"/>
<rect x="409" y="517" width="15" height="8" fill="#56ffa1"/>
<rect x="424" y="517" width="15" height="8" fill="#b5ff42"/>
<rect x="439" y="517" width="8" height="8" fill="#56ffa1"/>
<rect x="447" y="517" width="7" height="8" fill="#00b4ff"/>
<rect x="454" y="517" width="15" height="8" fill="#0063ff"/>
<rect x="469" y="517" width="8" height="8" fill="#14ffe2"/>
<rect x="477" y="517" width="7" height="8" fill="#b5ff42"/>
<rect x="484" y="517" width="15" height="8" fill="#86ff70"/>
<rect x="499" y="517" width="8" height="8" fill="#56ffa1"/>
<rect x="507" y="517" width="7" height="8" fill="#2fffc8"/>
<rect x="514" y="517" width="15" height="8" fill="#56ffa1"/>
<rect x="529" y="517" width="8" height="8" fill="#86ff70"/>
<rect x="537" y="517" width="15" height="8" fill="#56ffa1"/>
<rect x="552" y="517" width="7" height="8" fill="#2fffc8"/>
<rect x="559" y="517" width="23" height="8" fill="#56ffa1"/>
<rect x="582" y="517" width="7" height="8" fill="#86ff70"/>
<rect x="589" y="517" width="8" height="8" fill="#ffd100"/>
<rect x="116" y="525" width="8" height="7" fill="#000080"/>
<rect x="124" y="525" width="7" height="7" fill="#b5ff42"/>
<rect x="131" y="525" width="15" height="7" fill="#86ff70"/>
<rect x="146" y="525" width="8" height="7" fill="#56ffa1"/>
<rect x="154" y="525" width="7" height="7" fill="#86ff70"/>
<rect x="161" y="525" width="23" height="7" fill="#2fffc8"/>
<rect x="184" y="525" width="7" height="7" fill="#56ffa1"/>
<rect x="191" y="525" width="8" height="7" fill="#86ff70"/>
<rect x="199" y="525" width="7" height="7" fill="#56ffa1"/>
<rect x="206" y="525" width="8" height="7" fill="#b5ff42"/>
<rect x="214" y="525" width="7" height="7" fill="#56ffa1"/>
<rect x="221" y="525" width="8" height="7" fill="#2fffc8"/>
<rect x="229" y="525" width="7" height="7" fill="#56ffa1"/>
<rect x="236" y="525" width="8" height="7" fill="#2fffc8"/>
<rect x="244" y="525" width="7" height="7" fill="#00d7ff"/>
<rect x="251" y="525" width="8" height="7" fill="#86ff70"/>
<rect x="259" y="525" width="22" height="7" fill="#56ffa1"/>
<rect x="281" y="525" width="23" height="7" fill="#2fffc8"/>
<rect x="304" y="525" width="15" height="7" fill="#56ffa1"/>
<rect x="319" y="525" width="7" height="7" fill="#86ff70"/>
<rect x="326" y="525" width="8" height="7" fill="#56ffa1"/>
<rect x="334" y="525" width="8" height="7" fill="#2fffc8"/>
<rect x="342" y="525" width="7" height="7" fill="#008cff"/>
<rect x="349" y="525" width="8" height="7" fill="#56ffa1"/>
<rect x="357" y="525" width="7" height="7" fill="#b5ff42"/>
<rect x="364" y="525" width="8" height="7" fill="#2fffc8"/>
<rect x="372" y="525" width="45" height="7" fill="#56ffa1"/>
<rect x="417" y="525" width="7" height="7" fill="#ffd100"/>
<rect x="424" y="525" width="8" height="7" fill="#00d7ff"/>
<rect x="432" y="525" width="22" height="7" fill="#0063ff"/>
<rect x="454" y="525" width="8" height="7" fill="#0033ff"/>
<rect x="462" y="525" width="7" height="7" fill="#0000e3"/>
<rect x="469" y="525" width="8" height="7" fill="#000080"/>
<rect x="477" y="525" width="15" height="7" fill="#86ff70"/>
<rect x="492" y="525" width="7" height="7" fill="#b5ff42"/>
<rect x="499" y="525" width="8" height="7" fill="#86ff70"/>
<rect x="507" y="525" width="7" height="7" fill="#56ffa1"/>
<rect x="514" y="525" width="8" height="7" fill="#86ff70"/>
<rect x="522" y="525" width="22" height="7" fill="#56ffa1"/>
<rect x="544" y="525" width="8" height="7" fill="#86ff70"/>
<rect x="552" y="525" width="15" height="7" fill="#56ffa1"/>
<rect x="567" y="525" width="22" height="7" fill="#86ff70"/>
<rect x="589" y="525" width="8" height="7" fill="#ffd100"/>
<rect x="116" y="532" width="8" height="8" fill="#000080"/>
<rect x="124" y="532" width="7" height="8" fill="#ffd100"/>
<rect x="131" y="532" width="8" height="8" fill="#86ff70"/>
<rect x="139" y="532" width="7" height="8" fill="#e4ff13"/>
<rect x="146" y="532" width="8" height="8" fill="#b5ff42"/>
<rect x="154" y="532" width="15" height="8" fill="#86ff70"/>
<rect x="169" y="532" width="7" height="8" fill="#000080"/>
<rect x="176" y="532" width="8" height="8" fill="#e4ff13"/>
<rect x="184" y="532" width="7" height="8" fill="#86ff70"/>
<rect x="191" y="532" width="8" height="8" fill="#b5ff42"/>
<rect x="199" y="532" width="7" height="8" fill="#86ff70"/>
<rect x="206" y="532" width="8" height="8" fill="#ff9800"/>
<rect x="214" y="532" width="15" height="8" fill="#b5ff42"/>
<rect x="229" y="532" width="7" height="8" fill="#86ff70"/>
<rect x="236" y="532" width="15" height="8" fill="#e4ff13"/>
<rect x="251" y="532" width="8" height="8" fill="#ff9800"/>
<rect x="259" y="532" width="7" height="8" fill="#b5ff42"/>
<rect x="266" y="532" width="8" height="8" fill="#ffd100"/>
<rect x="274" y="532" width="7" height="8" fill="#e4ff13"/>
<rect x="281" y="532" width="15" height="8" fill="#ffd100"/>
<rect x="296" y="532" width="15" height="8" fill="#ff9800"/>
<rect x="311" y="532" width="15" height="8" fill="#000080"/>
<rect x="326" y="532" width="8" height="8" fill="#ff9800"/>
<rect x="334" y="532" width="8" height="8" fill="#86ff70"/>
<rect x="342" y="532" width="7" height="8" fill="#b5ff42"/>
<rect x="349" y="532" width="8" height="8" fill="#86ff70"/>
<rect x="357" y="532" width="15" height="8" fill="#b5ff42"/>
<rect x="372" y="532" width="15" height="8" fill="#e4ff13"/>
<rect x="387" y="532" width="15" height="8" fill="#b5ff42"/>
<rect x="402" y="532" width="15" height="8" fill="#ffd100"/>
<rect x="417" y="532" width="7" height="8" fill="#000080"/>
<rect x="424" y="532" width="8" height="8" fill="#86ff70"/>
<rect x="432" y="532" width="7" height="8" fill="#b5ff42"/>
<rect x="439" y="532" width="8" height="8" fill="#14ffe2"/>
<rect x="447" y="532" width="7" height="8" fill="#dc0000"/>
<rect x="454" y="532" width="8" height="8" fill="#ffd100"/>
<rect x="462" y="532" width="7" height="8" fill="#000080"/>
<rect x="469" y="532" width="8" height="8" fill="#800000"/>
<rect x="477" y="532" width="7" height="8" fill="#ffd100"/>
<rect x="484" y="532" width="8" height="8" fill="#e4ff13"/>
<rect x="492" y="532" width="7" height="8" fill="#b5ff42"/>
<rect x="499" y="532" width="8" height="8" fill="#14ffe2"/>
<rect x="507" y="532" width="7" height="8" fill="#000080"/>
<rect x="514" y="532" width="8" height="8" fill="#86ff70"/>
<rect x="522" y="532" width="7" height="8" fill="#2fffc8"/>
<rect x="529" y="532" width="15" height="8" fill="#e4ff13"/>
<rect x="544" y="532" width="8" height="8" fill="#ff9800"/>
<rect x="552" y="532" width="7" height="8" fill="#e4ff13"/>
<rect x="559" y="532" width="15" height="8" fill="#ffd100"/>
<rect x="574" y="532" width="8" height="8" fill="#b5ff42"/>
<rect x="582" y="532" width="7" height="8" fill="#ff9800"/>
<rect x="589" y="532" width="8" height="8" fill="#000080"/>
</g>
<rect x="116.4" y="60.4" width="480" height="479.9" fill="none" stroke="#000" stroke-width="1.3"/>
<path d="M626.5 81.8L638 60L649.5 81.8V518.2L638 540L626.5 518.2Z" fill="url(#jet)" stroke="#000" stroke-width="1.1" stroke-linejoin="miter"/>
<g stroke="#000" stroke-width="1" fill="none">
<path d="M120.35 540V534M120.35 60V66"/>
<path d="M116.5 536.35H122.5M596.5 536.35H590.5"/>
<path d="M195.35 540V534M195.35 60V66"/>
<path d="M116.5 461.35H122.5M596.5 461.35H590.5"/>
<path d="M270.35 540V534M270.35 60V66"/>
<path d="M116.5 386.35H122.5M596.5 386.35H590.5"/>
<path d="M345.35 540V534M345.35 60V66"/>
<path d="M116.5 311.35H122.5M596.5 311.35H590.5"/>
<path d="M420.35 540V534M420.35 60V66"/>
<path d="M116.5 236.35H122.5M596.5 236.35H590.5"/>
<path d="M495.35 540V534M495.35 60V66"/>
<path d="M116.5 161.35H122.5M596.5 161.35H590.5"/>
<path d="M570.35 540V534M570.35 60V66"/>
<path d="M116.5 86.35H122.5M596.5 86.35H590.5"/>
<path d="M649.5 518.2H643.5"/>
<path d="M649.5 473.76H643.5"/>
<path d="M649.5 429.32H643.5"/>
<path d="M649.5 384.88H643.5"/>
<path d="M649.5 340.44H643.5"/>
<path d="M649.5 296H643.5"/>
<path d="M649.5 251.56H643.5"/>
<path d="M649.5 207.12H643.5"/>
<path d="M649.5 162.68H643.5"/>
<path d="M649.5 118.24H643.5"/>
</g>
</svg>
<svg class="tx" width="800" height="600" viewBox="0 0 800 600">
<text x="120.35" y="558" font-size="17" text-anchor="middle" textLength="10" lengthAdjust="spacingAndGlyphs">0</text>
<text x="194.05" y="558" font-size="17" text-anchor="middle" textLength="20" lengthAdjust="spacingAndGlyphs">10</text>
<text x="269.05" y="558" font-size="17" text-anchor="middle" textLength="20" lengthAdjust="spacingAndGlyphs">20</text>
<text x="344.05" y="558" font-size="17" text-anchor="middle" textLength="20" lengthAdjust="spacingAndGlyphs">30</text>
<text x="419.05" y="558" font-size="17" text-anchor="middle" textLength="20" lengthAdjust="spacingAndGlyphs">40</text>
<text x="494.05" y="558" font-size="17" text-anchor="middle" textLength="20" lengthAdjust="spacingAndGlyphs">50</text>
<text x="569.05" y="558" font-size="17" text-anchor="middle" textLength="20" lengthAdjust="spacingAndGlyphs">60</text>
<text x="110.5" y="540.85" font-size="17" text-anchor="end" textLength="10" lengthAdjust="spacingAndGlyphs">0</text>
<text x="109" y="465.85" font-size="17" text-anchor="end" textLength="20" lengthAdjust="spacingAndGlyphs">10</text>
<text x="109" y="390.85" font-size="17" text-anchor="end" textLength="20" lengthAdjust="spacingAndGlyphs">20</text>
<text x="109" y="315.85" font-size="17" text-anchor="end" textLength="20" lengthAdjust="spacingAndGlyphs">30</text>
<text x="109" y="240.85" font-size="17" text-anchor="end" textLength="20" lengthAdjust="spacingAndGlyphs">40</text>
<text x="109" y="165.85" font-size="17" text-anchor="end" textLength="20" lengthAdjust="spacingAndGlyphs">50</text>
<text x="109" y="90.85" font-size="17" text-anchor="end" textLength="20" lengthAdjust="spacingAndGlyphs">60</text>
<text x="655" y="523" font-size="17" text-anchor="start" textLength="9.6" lengthAdjust="spacingAndGlyphs">0</text>
<text x="655" y="478.56" font-size="17" text-anchor="start" textLength="20" lengthAdjust="spacingAndGlyphs">50</text>
<text x="655" y="434.12" font-size="17" text-anchor="start" textLength="30.5" lengthAdjust="spacingAndGlyphs">100</text>
<text x="655" y="389.68" font-size="17" text-anchor="start" textLength="30.5" lengthAdjust="spacingAndGlyphs">150</text>
<text x="655" y="345.24" font-size="17" text-anchor="start" textLength="30.5" lengthAdjust="spacingAndGlyphs">200</text>
<text x="655" y="300.8" font-size="17" text-anchor="start" textLength="30.5" lengthAdjust="spacingAndGlyphs">250</text>
<text x="655" y="256.36" font-size="17" text-anchor="start" textLength="30.5" lengthAdjust="spacingAndGlyphs">300</text>
<text x="655" y="211.92" font-size="17" text-anchor="start" textLength="30.5" lengthAdjust="spacingAndGlyphs">350</text>
<text x="655" y="167.48" font-size="17" text-anchor="start" textLength="30.5" lengthAdjust="spacingAndGlyphs">400</text>
<text x="655" y="123.04" font-size="17" text-anchor="start" textLength="30.5" lengthAdjust="spacingAndGlyphs">450</text>
<text x="274.5" y="54" font-size="20" text-anchor="start" textLength="94" lengthAdjust="spacingAndGlyphs">Quadrant</text>
<text x="375.5" y="54" font-size="20" text-anchor="start" textLength="12" lengthAdjust="spacingAndGlyphs">2</text>
<text x="395" y="54" font-size="20" text-anchor="start" textLength="42" lengthAdjust="spacingAndGlyphs">DPH</text>
<text x="42" y="24" font-size="17" text-anchor="start" textLength="75.5" lengthAdjust="spacingAndGlyphs">Data file:</text>
<text x="124.5" y="24" font-size="17" text-anchor="start" textLength="140.5" lengthAdjust="spacingAndGlyphs">modeM0/AS1A05</text>
<text x="265.5" y="24" font-size="17" text-anchor="start" textLength="72.3" lengthAdjust="spacingAndGlyphs">_208T01</text>
<text x="337.5" y="24" font-size="17" text-anchor="start" textLength="113" lengthAdjust="spacingAndGlyphs">_9000002614</text>
<text x="450" y="24" font-size="17" text-anchor="start" textLength="112.8" lengthAdjust="spacingAndGlyphs">_17672cztM0</text>
<text x="563" y="24" font-size="17" text-anchor="start" textLength="59" lengthAdjust="spacingAndGlyphs">_level2</text>
<text x="622" y="24" font-size="17" text-anchor="start" textLength="50.3" lengthAdjust="spacingAndGlyphs">_quad</text>
<text x="673" y="24" font-size="17" text-anchor="start" textLength="85.3" lengthAdjust="spacingAndGlyphs">_clean.evt</text>
</svg>
</body></html>
